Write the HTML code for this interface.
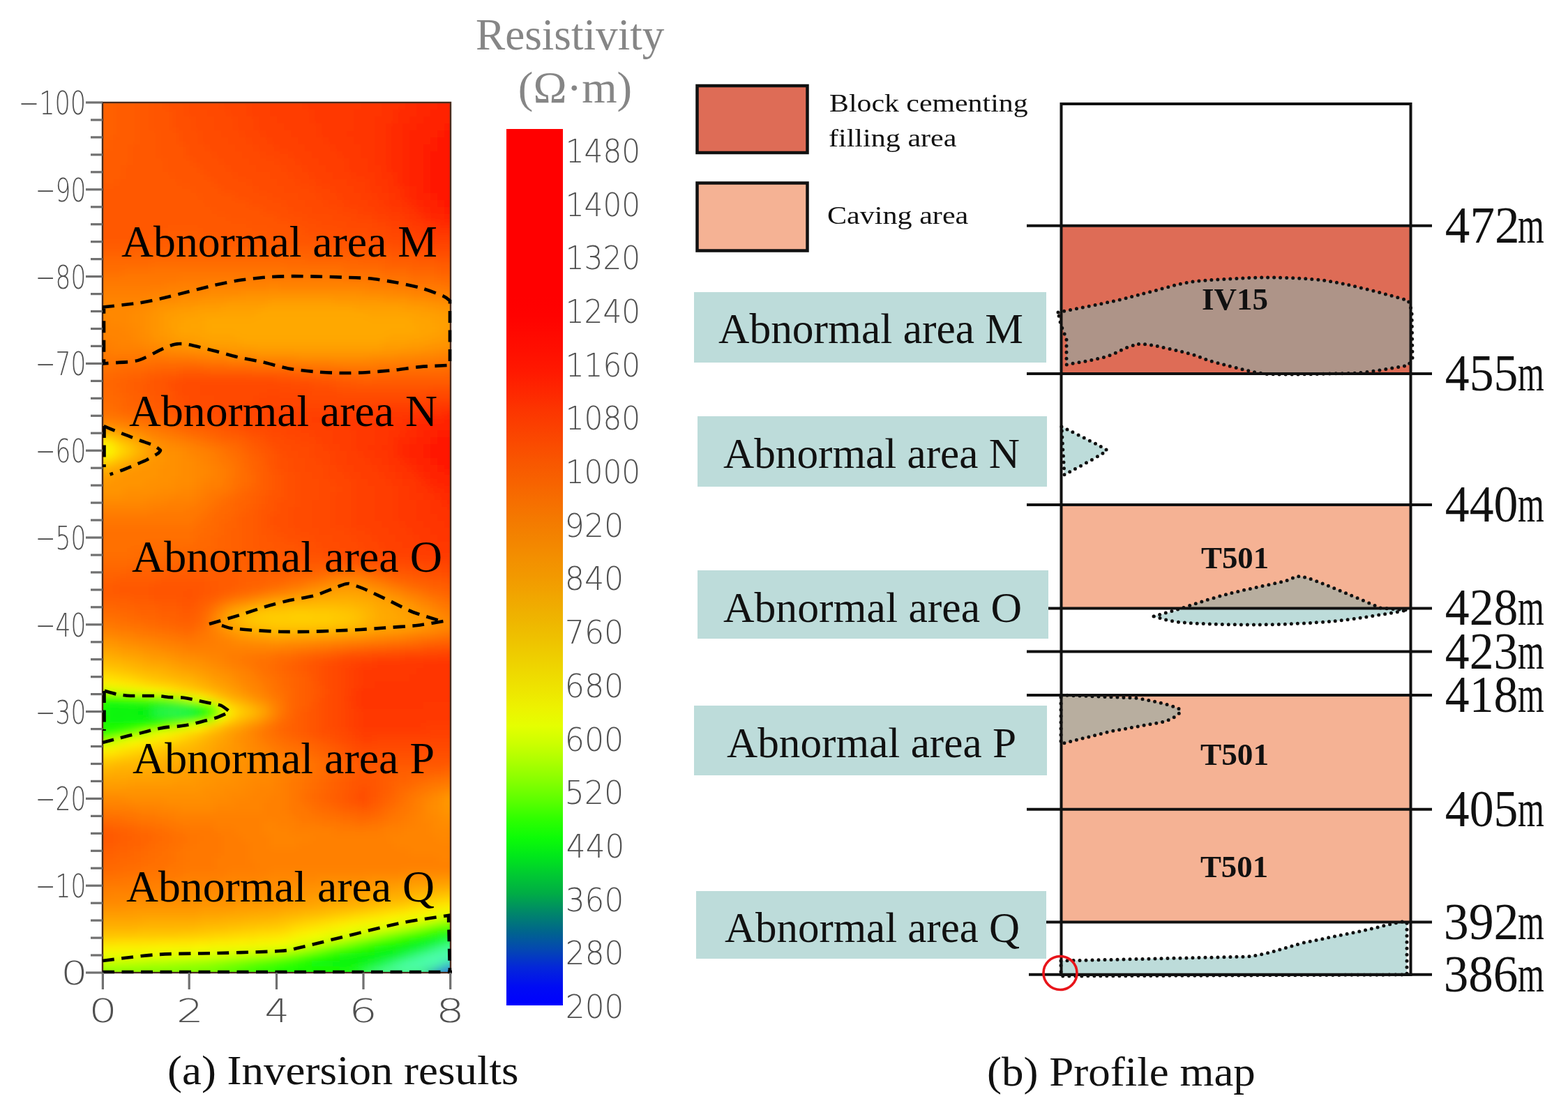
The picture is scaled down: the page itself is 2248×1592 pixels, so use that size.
<!DOCTYPE html>
<html><head><meta charset="utf-8"><title>Inversion results and profile map</title>
<style>html,body{margin:0;padding:0;background:#fff;overflow:hidden}svg{display:block}</style>
</head><body>
<svg width="2248" height="1592" viewBox="0 0 2248 1592">
<defs>
<clipPath id="pc"><rect x="147" y="147" width="499" height="1248"/></clipPath>
<clipPath id="pc2"><rect x="146" y="147" width="502" height="1254"/></clipPath>
<filter id="bl" x="-5%" y="-5%" width="110%" height="110%"><feGaussianBlur stdDeviation="6"/></filter>
<linearGradient id="cb" x1="0" y1="0" x2="0" y2="1"><stop offset="0.000" stop-color="#ff0000"/><stop offset="0.021" stop-color="#ff0000"/><stop offset="0.043" stop-color="#ff0000"/><stop offset="0.064" stop-color="#ff0000"/><stop offset="0.085" stop-color="#ff0000"/><stop offset="0.106" stop-color="#ff0000"/><stop offset="0.128" stop-color="#ff0000"/><stop offset="0.149" stop-color="#ff0000"/><stop offset="0.170" stop-color="#ff0000"/><stop offset="0.191" stop-color="#ff0000"/><stop offset="0.213" stop-color="#ff0200"/><stop offset="0.234" stop-color="#ff0900"/><stop offset="0.255" stop-color="#ff1000"/><stop offset="0.277" stop-color="#ff1900"/><stop offset="0.298" stop-color="#fe2600"/><stop offset="0.319" stop-color="#fc3400"/><stop offset="0.340" stop-color="#fb4000"/><stop offset="0.362" stop-color="#fa4c00"/><stop offset="0.383" stop-color="#f85800"/><stop offset="0.404" stop-color="#f76300"/><stop offset="0.426" stop-color="#f66f00"/><stop offset="0.447" stop-color="#f47a00"/><stop offset="0.468" stop-color="#f38400"/><stop offset="0.489" stop-color="#f38f00"/><stop offset="0.511" stop-color="#f29900"/><stop offset="0.532" stop-color="#f1a500"/><stop offset="0.553" stop-color="#efb100"/><stop offset="0.574" stop-color="#eebd00"/><stop offset="0.596" stop-color="#eeca00"/><stop offset="0.617" stop-color="#eed700"/><stop offset="0.638" stop-color="#eee400"/><stop offset="0.660" stop-color="#edf200"/><stop offset="0.681" stop-color="#e5ff00"/><stop offset="0.702" stop-color="#cbff00"/><stop offset="0.723" stop-color="#aaff00"/><stop offset="0.745" stop-color="#84ff00"/><stop offset="0.766" stop-color="#5cff00"/><stop offset="0.787" stop-color="#2fff00"/><stop offset="0.809" stop-color="#0cfc07"/><stop offset="0.830" stop-color="#00e71b"/><stop offset="0.851" stop-color="#00c932"/><stop offset="0.872" stop-color="#00ad45"/><stop offset="0.894" stop-color="#008769"/><stop offset="0.915" stop-color="#00668b"/><stop offset="0.936" stop-color="#0448b1"/><stop offset="0.957" stop-color="#0426da"/><stop offset="0.979" stop-color="#000bf4"/><stop offset="1.000" stop-color="#0000ff"/></linearGradient>
<style>
text{font-family:"Liberation Serif",serif;fill:#111}
.ax{font-family:"DejaVu Sans",sans-serif;font-weight:200;font-size:47px;fill:#505050}
.hl{font-size:63.5px;fill:#000}
.ab{font-size:61px}
.cap{font-size:60px}
.gt{font-size:63px;fill:#868686}
.lg{font-size:36px}
.dl{font-size:74px}
.bt{font-weight:bold;font-size:45px}
.dash path{fill:none;stroke:#000;stroke-width:4.6;stroke-dasharray:17 10.5}
.dot{stroke:#111;stroke-width:5;stroke-dasharray:0 9;stroke-linecap:round}
</style>
</defs>
<rect width="2248" height="1592" fill="#fff"/>
<g clip-path="url(#pc)"><g filter="url(#bl)">
<rect x="137" y="137" width="31" height="11" fill="#ff6000"/>
<rect x="167" y="137" width="31" height="11" fill="#ff5c00"/>
<rect x="197" y="137" width="21" height="11" fill="#ff5800"/>
<rect x="217" y="137" width="21" height="11" fill="#ff5400"/>
<rect x="237" y="137" width="21" height="11" fill="#ff5000"/>
<rect x="257" y="137" width="31" height="11" fill="#ff4c00"/>
<rect x="287" y="137" width="31" height="11" fill="#ff4800"/>
<rect x="317" y="137" width="31" height="11" fill="#ff4400"/>
<rect x="347" y="137" width="31" height="11" fill="#ff4000"/>
<rect x="377" y="137" width="61" height="11" fill="#ff3c00"/>
<rect x="437" y="137" width="81" height="11" fill="#ff3800"/>
<rect x="517" y="137" width="31" height="11" fill="#ff3400"/>
<rect x="547" y="137" width="31" height="11" fill="#ff3000"/>
<rect x="577" y="137" width="31" height="11" fill="#ff2c00"/>
<rect x="607" y="137" width="21" height="11" fill="#ff2800"/>
<rect x="627" y="137" width="41" height="11" fill="#ff2400"/>
<rect x="137" y="147" width="31" height="11" fill="#ff6000"/>
<rect x="167" y="147" width="31" height="11" fill="#ff5c00"/>
<rect x="197" y="147" width="21" height="11" fill="#ff5800"/>
<rect x="217" y="147" width="21" height="11" fill="#ff5400"/>
<rect x="237" y="147" width="31" height="11" fill="#ff5000"/>
<rect x="267" y="147" width="21" height="11" fill="#ff4c00"/>
<rect x="287" y="147" width="31" height="11" fill="#ff4800"/>
<rect x="317" y="147" width="41" height="11" fill="#ff4400"/>
<rect x="357" y="147" width="31" height="11" fill="#ff4000"/>
<rect x="387" y="147" width="51" height="11" fill="#ff3c00"/>
<rect x="437" y="147" width="81" height="11" fill="#ff3800"/>
<rect x="517" y="147" width="31" height="11" fill="#ff3400"/>
<rect x="547" y="147" width="31" height="11" fill="#ff3000"/>
<rect x="577" y="147" width="21" height="11" fill="#ff2c00"/>
<rect x="597" y="147" width="31" height="11" fill="#ff2800"/>
<rect x="627" y="147" width="41" height="11" fill="#ff2400"/>
<rect x="137" y="157" width="31" height="11" fill="#ff6000"/>
<rect x="167" y="157" width="31" height="11" fill="#ff5c00"/>
<rect x="197" y="157" width="21" height="11" fill="#ff5800"/>
<rect x="217" y="157" width="31" height="11" fill="#ff5400"/>
<rect x="247" y="157" width="21" height="11" fill="#ff5000"/>
<rect x="267" y="157" width="31" height="11" fill="#ff4c00"/>
<rect x="297" y="157" width="31" height="11" fill="#ff4800"/>
<rect x="327" y="157" width="31" height="11" fill="#ff4400"/>
<rect x="357" y="157" width="31" height="11" fill="#ff4000"/>
<rect x="387" y="157" width="61" height="11" fill="#ff3c00"/>
<rect x="447" y="157" width="61" height="11" fill="#ff3800"/>
<rect x="507" y="157" width="41" height="11" fill="#ff3400"/>
<rect x="547" y="157" width="21" height="11" fill="#ff3000"/>
<rect x="567" y="157" width="31" height="11" fill="#ff2c00"/>
<rect x="597" y="157" width="21" height="11" fill="#ff2800"/>
<rect x="617" y="157" width="21" height="11" fill="#ff2400"/>
<rect x="637" y="157" width="31" height="11" fill="#ff2000"/>
<rect x="137" y="167" width="31" height="11" fill="#ff6000"/>
<rect x="167" y="167" width="31" height="11" fill="#ff5c00"/>
<rect x="197" y="167" width="21" height="11" fill="#ff5800"/>
<rect x="217" y="167" width="31" height="11" fill="#ff5400"/>
<rect x="247" y="167" width="31" height="11" fill="#ff5000"/>
<rect x="277" y="167" width="31" height="11" fill="#ff4c00"/>
<rect x="307" y="167" width="31" height="11" fill="#ff4800"/>
<rect x="337" y="167" width="31" height="11" fill="#ff4400"/>
<rect x="367" y="167" width="31" height="11" fill="#ff4000"/>
<rect x="397" y="167" width="51" height="11" fill="#ff3c00"/>
<rect x="447" y="167" width="61" height="11" fill="#ff3800"/>
<rect x="507" y="167" width="31" height="11" fill="#ff3400"/>
<rect x="537" y="167" width="31" height="11" fill="#ff3000"/>
<rect x="567" y="167" width="21" height="11" fill="#ff2c00"/>
<rect x="587" y="167" width="21" height="11" fill="#ff2800"/>
<rect x="607" y="167" width="21" height="11" fill="#ff2400"/>
<rect x="627" y="167" width="41" height="11" fill="#ff2000"/>
<rect x="137" y="177" width="31" height="11" fill="#ff6000"/>
<rect x="167" y="177" width="31" height="11" fill="#ff5c00"/>
<rect x="197" y="177" width="21" height="11" fill="#ff5800"/>
<rect x="217" y="177" width="31" height="11" fill="#ff5400"/>
<rect x="247" y="177" width="31" height="11" fill="#ff5000"/>
<rect x="277" y="177" width="31" height="11" fill="#ff4c00"/>
<rect x="307" y="177" width="31" height="11" fill="#ff4800"/>
<rect x="337" y="177" width="31" height="11" fill="#ff4400"/>
<rect x="367" y="177" width="41" height="11" fill="#ff4000"/>
<rect x="407" y="177" width="51" height="11" fill="#ff3c00"/>
<rect x="457" y="177" width="51" height="11" fill="#ff3800"/>
<rect x="507" y="177" width="31" height="11" fill="#ff3400"/>
<rect x="537" y="177" width="21" height="11" fill="#ff3000"/>
<rect x="557" y="177" width="21" height="11" fill="#ff2c00"/>
<rect x="577" y="177" width="21" height="11" fill="#ff2800"/>
<rect x="597" y="177" width="21" height="11" fill="#ff2400"/>
<rect x="617" y="177" width="21" height="11" fill="#ff2000"/>
<rect x="637" y="177" width="31" height="11" fill="#ff1c00"/>
<rect x="137" y="187" width="31" height="11" fill="#ff6000"/>
<rect x="167" y="187" width="31" height="11" fill="#ff5c00"/>
<rect x="197" y="187" width="31" height="11" fill="#ff5800"/>
<rect x="227" y="187" width="31" height="11" fill="#ff5400"/>
<rect x="257" y="187" width="31" height="11" fill="#ff5000"/>
<rect x="287" y="187" width="31" height="11" fill="#ff4c00"/>
<rect x="317" y="187" width="31" height="11" fill="#ff4800"/>
<rect x="347" y="187" width="31" height="11" fill="#ff4400"/>
<rect x="377" y="187" width="41" height="11" fill="#ff4000"/>
<rect x="417" y="187" width="41" height="11" fill="#ff3c00"/>
<rect x="457" y="187" width="41" height="11" fill="#ff3800"/>
<rect x="497" y="187" width="41" height="11" fill="#ff3400"/>
<rect x="537" y="187" width="21" height="11" fill="#ff3000"/>
<rect x="557" y="187" width="21" height="11" fill="#ff2c00"/>
<rect x="577" y="187" width="11" height="11" fill="#ff2800"/>
<rect x="587" y="187" width="21" height="11" fill="#ff2400"/>
<rect x="607" y="187" width="21" height="11" fill="#ff2000"/>
<rect x="627" y="187" width="11" height="11" fill="#ff1c00"/>
<rect x="637" y="187" width="31" height="11" fill="#ff1800"/>
<rect x="137" y="197" width="21" height="11" fill="#ff6000"/>
<rect x="157" y="197" width="41" height="11" fill="#ff5c00"/>
<rect x="197" y="197" width="31" height="11" fill="#ff5800"/>
<rect x="227" y="197" width="31" height="11" fill="#ff5400"/>
<rect x="257" y="197" width="31" height="11" fill="#ff5000"/>
<rect x="287" y="197" width="41" height="11" fill="#ff4c00"/>
<rect x="327" y="197" width="31" height="11" fill="#ff4800"/>
<rect x="357" y="197" width="31" height="11" fill="#ff4400"/>
<rect x="387" y="197" width="41" height="11" fill="#ff4000"/>
<rect x="427" y="197" width="41" height="11" fill="#ff3c00"/>
<rect x="467" y="197" width="41" height="11" fill="#ff3800"/>
<rect x="507" y="197" width="31" height="11" fill="#ff3400"/>
<rect x="537" y="197" width="21" height="11" fill="#ff3000"/>
<rect x="557" y="197" width="21" height="11" fill="#ff2c00"/>
<rect x="577" y="197" width="11" height="11" fill="#ff2800"/>
<rect x="587" y="197" width="11" height="11" fill="#ff2400"/>
<rect x="597" y="197" width="21" height="11" fill="#ff2000"/>
<rect x="617" y="197" width="11" height="11" fill="#ff1c00"/>
<rect x="627" y="197" width="41" height="11" fill="#ff1800"/>
<rect x="137" y="207" width="21" height="11" fill="#ff6000"/>
<rect x="157" y="207" width="31" height="11" fill="#ff5c00"/>
<rect x="187" y="207" width="41" height="11" fill="#ff5800"/>
<rect x="227" y="207" width="41" height="11" fill="#ff5400"/>
<rect x="267" y="207" width="31" height="11" fill="#ff5000"/>
<rect x="297" y="207" width="41" height="11" fill="#ff4c00"/>
<rect x="337" y="207" width="31" height="11" fill="#ff4800"/>
<rect x="367" y="207" width="31" height="11" fill="#ff4400"/>
<rect x="397" y="207" width="41" height="11" fill="#ff4000"/>
<rect x="437" y="207" width="41" height="11" fill="#ff3c00"/>
<rect x="477" y="207" width="41" height="11" fill="#ff3800"/>
<rect x="517" y="207" width="21" height="11" fill="#ff3400"/>
<rect x="537" y="207" width="21" height="11" fill="#ff3000"/>
<rect x="557" y="207" width="21" height="11" fill="#ff2c00"/>
<rect x="577" y="207" width="11" height="11" fill="#ff2800"/>
<rect x="587" y="207" width="11" height="11" fill="#ff2400"/>
<rect x="597" y="207" width="11" height="11" fill="#ff2000"/>
<rect x="607" y="207" width="21" height="11" fill="#ff1c00"/>
<rect x="627" y="207" width="11" height="11" fill="#ff1800"/>
<rect x="637" y="207" width="31" height="11" fill="#ff1400"/>
<rect x="137" y="217" width="11" height="11" fill="#ff6000"/>
<rect x="147" y="217" width="41" height="11" fill="#ff5c00"/>
<rect x="187" y="217" width="41" height="11" fill="#ff5800"/>
<rect x="227" y="217" width="41" height="11" fill="#ff5400"/>
<rect x="267" y="217" width="41" height="11" fill="#ff5000"/>
<rect x="307" y="217" width="41" height="11" fill="#ff4c00"/>
<rect x="347" y="217" width="31" height="11" fill="#ff4800"/>
<rect x="377" y="217" width="41" height="11" fill="#ff4400"/>
<rect x="417" y="217" width="31" height="11" fill="#ff4000"/>
<rect x="447" y="217" width="41" height="11" fill="#ff3c00"/>
<rect x="487" y="217" width="31" height="11" fill="#ff3800"/>
<rect x="517" y="217" width="21" height="11" fill="#ff3400"/>
<rect x="537" y="217" width="21" height="11" fill="#ff3000"/>
<rect x="557" y="217" width="21" height="11" fill="#ff2c00"/>
<rect x="577" y="217" width="11" height="11" fill="#ff2800"/>
<rect x="587" y="217" width="11" height="11" fill="#ff2400"/>
<rect x="597" y="217" width="11" height="11" fill="#ff2000"/>
<rect x="607" y="217" width="11" height="11" fill="#ff1c00"/>
<rect x="617" y="217" width="21" height="11" fill="#ff1800"/>
<rect x="637" y="217" width="31" height="11" fill="#ff1400"/>
<rect x="137" y="227" width="51" height="11" fill="#ff5c00"/>
<rect x="187" y="227" width="51" height="11" fill="#ff5800"/>
<rect x="237" y="227" width="41" height="11" fill="#ff5400"/>
<rect x="277" y="227" width="41" height="11" fill="#ff5000"/>
<rect x="317" y="227" width="41" height="11" fill="#ff4c00"/>
<rect x="357" y="227" width="41" height="11" fill="#ff4800"/>
<rect x="397" y="227" width="31" height="11" fill="#ff4400"/>
<rect x="427" y="227" width="31" height="11" fill="#ff4000"/>
<rect x="457" y="227" width="41" height="11" fill="#ff3c00"/>
<rect x="497" y="227" width="31" height="11" fill="#ff3800"/>
<rect x="527" y="227" width="11" height="11" fill="#ff3400"/>
<rect x="537" y="227" width="21" height="11" fill="#ff3000"/>
<rect x="557" y="227" width="21" height="11" fill="#ff2c00"/>
<rect x="577" y="227" width="11" height="11" fill="#ff2800"/>
<rect x="587" y="227" width="11" height="11" fill="#ff2400"/>
<rect x="597" y="227" width="11" height="11" fill="#ff2000"/>
<rect x="607" y="227" width="11" height="11" fill="#ff1c00"/>
<rect x="617" y="227" width="11" height="11" fill="#ff1800"/>
<rect x="627" y="227" width="41" height="11" fill="#ff1400"/>
<rect x="137" y="237" width="41" height="11" fill="#ff5c00"/>
<rect x="177" y="237" width="61" height="11" fill="#ff5800"/>
<rect x="237" y="237" width="51" height="11" fill="#ff5400"/>
<rect x="287" y="237" width="41" height="11" fill="#ff5000"/>
<rect x="327" y="237" width="41" height="11" fill="#ff4c00"/>
<rect x="367" y="237" width="41" height="11" fill="#ff4800"/>
<rect x="407" y="237" width="31" height="11" fill="#ff4400"/>
<rect x="437" y="237" width="31" height="11" fill="#ff4000"/>
<rect x="467" y="237" width="31" height="11" fill="#ff3c00"/>
<rect x="497" y="237" width="31" height="11" fill="#ff3800"/>
<rect x="527" y="237" width="21" height="11" fill="#ff3400"/>
<rect x="547" y="237" width="11" height="11" fill="#ff3000"/>
<rect x="557" y="237" width="21" height="11" fill="#ff2c00"/>
<rect x="577" y="237" width="11" height="11" fill="#ff2800"/>
<rect x="587" y="237" width="11" height="11" fill="#ff2400"/>
<rect x="597" y="237" width="11" height="11" fill="#ff2000"/>
<rect x="607" y="237" width="11" height="11" fill="#ff1c00"/>
<rect x="617" y="237" width="11" height="11" fill="#ff1800"/>
<rect x="627" y="237" width="21" height="11" fill="#ff1400"/>
<rect x="647" y="237" width="21" height="11" fill="#ff1000"/>
<rect x="137" y="247" width="41" height="11" fill="#ff5c00"/>
<rect x="177" y="247" width="71" height="11" fill="#ff5800"/>
<rect x="247" y="247" width="51" height="11" fill="#ff5400"/>
<rect x="297" y="247" width="41" height="11" fill="#ff5000"/>
<rect x="337" y="247" width="51" height="11" fill="#ff4c00"/>
<rect x="387" y="247" width="31" height="11" fill="#ff4800"/>
<rect x="417" y="247" width="31" height="11" fill="#ff4400"/>
<rect x="447" y="247" width="31" height="11" fill="#ff4000"/>
<rect x="477" y="247" width="31" height="11" fill="#ff3c00"/>
<rect x="507" y="247" width="31" height="11" fill="#ff3800"/>
<rect x="537" y="247" width="11" height="11" fill="#ff3400"/>
<rect x="547" y="247" width="21" height="11" fill="#ff3000"/>
<rect x="567" y="247" width="11" height="11" fill="#ff2c00"/>
<rect x="577" y="247" width="11" height="11" fill="#ff2800"/>
<rect x="587" y="247" width="11" height="11" fill="#ff2400"/>
<rect x="597" y="247" width="11" height="11" fill="#ff2000"/>
<rect x="607" y="247" width="11" height="11" fill="#ff1c00"/>
<rect x="617" y="247" width="11" height="11" fill="#ff1800"/>
<rect x="627" y="247" width="41" height="11" fill="#ff1400"/>
<rect x="137" y="257" width="31" height="11" fill="#ff5c00"/>
<rect x="167" y="257" width="91" height="11" fill="#ff5800"/>
<rect x="257" y="257" width="51" height="11" fill="#ff5400"/>
<rect x="307" y="257" width="51" height="11" fill="#ff5000"/>
<rect x="357" y="257" width="41" height="11" fill="#ff4c00"/>
<rect x="397" y="257" width="31" height="11" fill="#ff4800"/>
<rect x="427" y="257" width="31" height="11" fill="#ff4400"/>
<rect x="457" y="257" width="41" height="11" fill="#ff4000"/>
<rect x="497" y="257" width="31" height="11" fill="#ff3c00"/>
<rect x="527" y="257" width="11" height="11" fill="#ff3800"/>
<rect x="537" y="257" width="21" height="11" fill="#ff3400"/>
<rect x="557" y="257" width="11" height="11" fill="#ff3000"/>
<rect x="567" y="257" width="11" height="11" fill="#ff2c00"/>
<rect x="577" y="257" width="11" height="11" fill="#ff2800"/>
<rect x="587" y="257" width="11" height="11" fill="#ff2400"/>
<rect x="597" y="257" width="11" height="11" fill="#ff2000"/>
<rect x="607" y="257" width="11" height="11" fill="#ff1c00"/>
<rect x="617" y="257" width="11" height="11" fill="#ff1800"/>
<rect x="627" y="257" width="41" height="11" fill="#ff1400"/>
<rect x="137" y="267" width="141" height="11" fill="#ff5800"/>
<rect x="277" y="267" width="41" height="11" fill="#ff5400"/>
<rect x="317" y="267" width="51" height="11" fill="#ff5000"/>
<rect x="367" y="267" width="41" height="11" fill="#ff4c00"/>
<rect x="407" y="267" width="41" height="11" fill="#ff4800"/>
<rect x="447" y="267" width="31" height="11" fill="#ff4400"/>
<rect x="477" y="267" width="31" height="11" fill="#ff4000"/>
<rect x="507" y="267" width="21" height="11" fill="#ff3c00"/>
<rect x="527" y="267" width="21" height="11" fill="#ff3800"/>
<rect x="547" y="267" width="11" height="11" fill="#ff3400"/>
<rect x="557" y="267" width="21" height="11" fill="#ff3000"/>
<rect x="577" y="267" width="11" height="11" fill="#ff2c00"/>
<rect x="587" y="267" width="11" height="11" fill="#ff2800"/>
<rect x="597" y="267" width="11" height="11" fill="#ff2400"/>
<rect x="607" y="267" width="11" height="11" fill="#ff1c00"/>
<rect x="617" y="267" width="21" height="11" fill="#ff1800"/>
<rect x="637" y="267" width="31" height="11" fill="#ff1400"/>
<rect x="137" y="277" width="151" height="11" fill="#ff5800"/>
<rect x="287" y="277" width="51" height="11" fill="#ff5400"/>
<rect x="337" y="277" width="51" height="11" fill="#ff5000"/>
<rect x="387" y="277" width="41" height="11" fill="#ff4c00"/>
<rect x="427" y="277" width="31" height="11" fill="#ff4800"/>
<rect x="457" y="277" width="31" height="11" fill="#ff4400"/>
<rect x="487" y="277" width="31" height="11" fill="#ff4000"/>
<rect x="517" y="277" width="21" height="11" fill="#ff3c00"/>
<rect x="537" y="277" width="21" height="11" fill="#ff3800"/>
<rect x="557" y="277" width="11" height="11" fill="#ff3400"/>
<rect x="567" y="277" width="11" height="11" fill="#ff3000"/>
<rect x="577" y="277" width="11" height="11" fill="#ff2c00"/>
<rect x="587" y="277" width="11" height="11" fill="#ff2800"/>
<rect x="597" y="277" width="11" height="11" fill="#ff2400"/>
<rect x="607" y="277" width="11" height="11" fill="#ff2000"/>
<rect x="617" y="277" width="11" height="11" fill="#ff1c00"/>
<rect x="627" y="277" width="41" height="11" fill="#ff1800"/>
<rect x="137" y="287" width="161" height="11" fill="#ff5800"/>
<rect x="297" y="287" width="61" height="11" fill="#ff5400"/>
<rect x="357" y="287" width="51" height="11" fill="#ff5000"/>
<rect x="407" y="287" width="31" height="11" fill="#ff4c00"/>
<rect x="437" y="287" width="31" height="11" fill="#ff4800"/>
<rect x="467" y="287" width="31" height="11" fill="#ff4400"/>
<rect x="497" y="287" width="31" height="11" fill="#ff4000"/>
<rect x="527" y="287" width="21" height="11" fill="#ff3c00"/>
<rect x="547" y="287" width="11" height="11" fill="#ff3800"/>
<rect x="557" y="287" width="21" height="11" fill="#ff3400"/>
<rect x="577" y="287" width="11" height="11" fill="#ff3000"/>
<rect x="587" y="287" width="11" height="11" fill="#ff2c00"/>
<rect x="597" y="287" width="11" height="11" fill="#ff2800"/>
<rect x="607" y="287" width="11" height="11" fill="#ff2400"/>
<rect x="617" y="287" width="11" height="11" fill="#ff2000"/>
<rect x="627" y="287" width="11" height="11" fill="#ff1c00"/>
<rect x="637" y="287" width="31" height="11" fill="#ff1800"/>
<rect x="137" y="297" width="171" height="11" fill="#ff5800"/>
<rect x="307" y="297" width="71" height="11" fill="#ff5400"/>
<rect x="377" y="297" width="41" height="11" fill="#ff5000"/>
<rect x="417" y="297" width="31" height="11" fill="#ff4c00"/>
<rect x="447" y="297" width="41" height="11" fill="#ff4800"/>
<rect x="487" y="297" width="31" height="11" fill="#ff4400"/>
<rect x="517" y="297" width="21" height="11" fill="#ff4000"/>
<rect x="537" y="297" width="21" height="11" fill="#ff3c00"/>
<rect x="557" y="297" width="21" height="11" fill="#ff3800"/>
<rect x="577" y="297" width="11" height="11" fill="#ff3400"/>
<rect x="587" y="297" width="11" height="11" fill="#ff3000"/>
<rect x="597" y="297" width="11" height="11" fill="#ff2c00"/>
<rect x="607" y="297" width="11" height="11" fill="#ff2800"/>
<rect x="617" y="297" width="11" height="11" fill="#ff2400"/>
<rect x="627" y="297" width="11" height="11" fill="#ff2000"/>
<rect x="637" y="297" width="31" height="11" fill="#ff1c00"/>
<rect x="137" y="307" width="191" height="11" fill="#ff5800"/>
<rect x="327" y="307" width="71" height="11" fill="#ff5400"/>
<rect x="397" y="307" width="41" height="11" fill="#ff5000"/>
<rect x="437" y="307" width="41" height="11" fill="#ff4c00"/>
<rect x="477" y="307" width="31" height="11" fill="#ff4800"/>
<rect x="507" y="307" width="31" height="11" fill="#ff4400"/>
<rect x="537" y="307" width="21" height="11" fill="#ff4000"/>
<rect x="557" y="307" width="21" height="11" fill="#ff3c00"/>
<rect x="577" y="307" width="11" height="11" fill="#ff3800"/>
<rect x="587" y="307" width="11" height="11" fill="#ff3400"/>
<rect x="597" y="307" width="11" height="11" fill="#ff3000"/>
<rect x="607" y="307" width="11" height="11" fill="#ff2c00"/>
<rect x="617" y="307" width="21" height="11" fill="#ff2800"/>
<rect x="637" y="307" width="31" height="11" fill="#ff2400"/>
<rect x="137" y="317" width="221" height="11" fill="#ff5800"/>
<rect x="357" y="317" width="61" height="11" fill="#ff5400"/>
<rect x="417" y="317" width="41" height="11" fill="#ff5000"/>
<rect x="457" y="317" width="41" height="11" fill="#ff4c00"/>
<rect x="497" y="317" width="41" height="11" fill="#ff4800"/>
<rect x="537" y="317" width="21" height="11" fill="#ff4400"/>
<rect x="557" y="317" width="21" height="11" fill="#ff4000"/>
<rect x="577" y="317" width="11" height="11" fill="#ff3c00"/>
<rect x="587" y="317" width="21" height="11" fill="#ff3800"/>
<rect x="607" y="317" width="11" height="11" fill="#ff3400"/>
<rect x="617" y="317" width="11" height="11" fill="#ff3000"/>
<rect x="627" y="317" width="41" height="11" fill="#ff2c00"/>
<rect x="137" y="327" width="101" height="11" fill="#ff5800"/>
<rect x="237" y="327" width="51" height="11" fill="#ff5c00"/>
<rect x="287" y="327" width="101" height="11" fill="#ff5800"/>
<rect x="387" y="327" width="51" height="11" fill="#ff5400"/>
<rect x="437" y="327" width="51" height="11" fill="#ff5000"/>
<rect x="487" y="327" width="41" height="11" fill="#ff4c00"/>
<rect x="527" y="327" width="31" height="11" fill="#ff4800"/>
<rect x="557" y="327" width="21" height="11" fill="#ff4400"/>
<rect x="577" y="327" width="21" height="11" fill="#ff4000"/>
<rect x="597" y="327" width="11" height="11" fill="#ff3c00"/>
<rect x="607" y="327" width="21" height="11" fill="#ff3800"/>
<rect x="627" y="327" width="41" height="11" fill="#ff3400"/>
<rect x="137" y="337" width="81" height="11" fill="#ff5800"/>
<rect x="217" y="337" width="101" height="11" fill="#ff5c00"/>
<rect x="317" y="337" width="101" height="11" fill="#ff5800"/>
<rect x="417" y="337" width="51" height="11" fill="#ff5400"/>
<rect x="467" y="337" width="61" height="11" fill="#ff5000"/>
<rect x="527" y="337" width="31" height="11" fill="#ff4c00"/>
<rect x="557" y="337" width="21" height="11" fill="#ff4800"/>
<rect x="577" y="337" width="21" height="11" fill="#ff4400"/>
<rect x="597" y="337" width="21" height="11" fill="#ff4000"/>
<rect x="617" y="337" width="31" height="11" fill="#ff3c00"/>
<rect x="647" y="337" width="21" height="11" fill="#ff3800"/>
<rect x="137" y="347" width="111" height="11" fill="#ff5c00"/>
<rect x="247" y="347" width="51" height="11" fill="#ff6000"/>
<rect x="297" y="347" width="121" height="11" fill="#ff5c00"/>
<rect x="417" y="347" width="61" height="11" fill="#ff5800"/>
<rect x="477" y="347" width="61" height="11" fill="#ff5400"/>
<rect x="537" y="347" width="31" height="11" fill="#ff5000"/>
<rect x="567" y="347" width="31" height="11" fill="#ff4c00"/>
<rect x="597" y="347" width="21" height="11" fill="#ff4800"/>
<rect x="617" y="347" width="51" height="11" fill="#ff4400"/>
<rect x="137" y="357" width="61" height="11" fill="#ff6000"/>
<rect x="197" y="357" width="181" height="11" fill="#ff6400"/>
<rect x="377" y="357" width="91" height="11" fill="#ff6000"/>
<rect x="467" y="357" width="61" height="11" fill="#ff5c00"/>
<rect x="527" y="357" width="31" height="11" fill="#ff5800"/>
<rect x="557" y="357" width="41" height="11" fill="#ff5400"/>
<rect x="597" y="357" width="31" height="11" fill="#ff5000"/>
<rect x="627" y="357" width="41" height="11" fill="#ff4c00"/>
<rect x="137" y="367" width="301" height="11" fill="#ff6800"/>
<rect x="437" y="367" width="81" height="11" fill="#ff6400"/>
<rect x="517" y="367" width="41" height="11" fill="#ff6000"/>
<rect x="557" y="367" width="41" height="11" fill="#ff5c00"/>
<rect x="597" y="367" width="31" height="11" fill="#ff5800"/>
<rect x="627" y="367" width="41" height="11" fill="#ff5400"/>
<rect x="137" y="377" width="81" height="11" fill="#ff6c00"/>
<rect x="217" y="377" width="191" height="11" fill="#ff7000"/>
<rect x="407" y="377" width="91" height="11" fill="#ff6c00"/>
<rect x="497" y="377" width="51" height="11" fill="#ff6800"/>
<rect x="547" y="377" width="41" height="11" fill="#ff6400"/>
<rect x="587" y="377" width="41" height="11" fill="#ff6000"/>
<rect x="627" y="377" width="41" height="11" fill="#ff5c00"/>
<rect x="137" y="387" width="41" height="11" fill="#ff7000"/>
<rect x="177" y="387" width="311" height="11" fill="#ff7400"/>
<rect x="487" y="387" width="61" height="11" fill="#ff7000"/>
<rect x="547" y="387" width="41" height="11" fill="#ff6c00"/>
<rect x="587" y="387" width="41" height="11" fill="#ff6800"/>
<rect x="627" y="387" width="41" height="11" fill="#ff6400"/>
<rect x="137" y="397" width="121" height="11" fill="#ff7800"/>
<rect x="257" y="397" width="241" height="11" fill="#ff7c00"/>
<rect x="497" y="397" width="51" height="11" fill="#ff7800"/>
<rect x="547" y="397" width="41" height="11" fill="#ff7400"/>
<rect x="587" y="397" width="41" height="11" fill="#ff7000"/>
<rect x="627" y="397" width="41" height="11" fill="#ff6c00"/>
<rect x="137" y="407" width="11" height="11" fill="#ff7800"/>
<rect x="147" y="407" width="91" height="11" fill="#ff7c00"/>
<rect x="237" y="407" width="61" height="11" fill="#ff8000"/>
<rect x="297" y="407" width="91" height="11" fill="#ff8400"/>
<rect x="387" y="407" width="11" height="11" fill="#ff8800"/>
<rect x="397" y="407" width="131" height="11" fill="#ff8400"/>
<rect x="527" y="407" width="41" height="11" fill="#ff8000"/>
<rect x="567" y="407" width="31" height="11" fill="#ff7c00"/>
<rect x="597" y="407" width="41" height="11" fill="#ff7800"/>
<rect x="637" y="407" width="31" height="11" fill="#ff7400"/>
<rect x="137" y="417" width="81" height="11" fill="#ff8000"/>
<rect x="217" y="417" width="41" height="11" fill="#ff8400"/>
<rect x="257" y="417" width="41" height="11" fill="#ff8800"/>
<rect x="297" y="417" width="51" height="11" fill="#ff8c00"/>
<rect x="347" y="417" width="171" height="11" fill="#ff9000"/>
<rect x="517" y="417" width="41" height="11" fill="#ff8c00"/>
<rect x="557" y="417" width="31" height="11" fill="#ff8800"/>
<rect x="587" y="417" width="31" height="11" fill="#ff8400"/>
<rect x="617" y="417" width="31" height="11" fill="#ff8000"/>
<rect x="647" y="417" width="21" height="11" fill="#ff7c00"/>
<rect x="137" y="427" width="11" height="11" fill="#ff8000"/>
<rect x="147" y="427" width="61" height="11" fill="#ff8400"/>
<rect x="207" y="427" width="21" height="11" fill="#ff8800"/>
<rect x="227" y="427" width="31" height="11" fill="#ff8c00"/>
<rect x="257" y="427" width="31" height="11" fill="#ff9000"/>
<rect x="287" y="427" width="41" height="11" fill="#ff9400"/>
<rect x="327" y="427" width="61" height="11" fill="#ff9800"/>
<rect x="387" y="427" width="91" height="11" fill="#ff9c00"/>
<rect x="477" y="427" width="71" height="11" fill="#ff9800"/>
<rect x="547" y="427" width="41" height="11" fill="#ff9400"/>
<rect x="587" y="427" width="31" height="11" fill="#ff9000"/>
<rect x="617" y="427" width="21" height="11" fill="#ff8c00"/>
<rect x="637" y="427" width="31" height="11" fill="#ff8800"/>
<rect x="137" y="437" width="61" height="11" fill="#ff8800"/>
<rect x="197" y="437" width="21" height="11" fill="#ff8c00"/>
<rect x="217" y="437" width="11" height="11" fill="#ff9000"/>
<rect x="227" y="437" width="21" height="11" fill="#ff9400"/>
<rect x="247" y="437" width="31" height="11" fill="#ff9800"/>
<rect x="277" y="437" width="41" height="11" fill="#ff9c00"/>
<rect x="317" y="437" width="61" height="11" fill="#ffa000"/>
<rect x="377" y="437" width="131" height="11" fill="#ffa400"/>
<rect x="507" y="437" width="71" height="11" fill="#ffa000"/>
<rect x="577" y="437" width="31" height="11" fill="#ff9c00"/>
<rect x="607" y="437" width="21" height="11" fill="#ff9800"/>
<rect x="627" y="437" width="41" height="11" fill="#ff9400"/>
<rect x="137" y="447" width="51" height="11" fill="#ff8800"/>
<rect x="187" y="447" width="21" height="11" fill="#ff8c00"/>
<rect x="207" y="447" width="11" height="11" fill="#ff9000"/>
<rect x="217" y="447" width="11" height="11" fill="#ff9400"/>
<rect x="227" y="447" width="11" height="11" fill="#ff9800"/>
<rect x="237" y="447" width="21" height="11" fill="#ff9c00"/>
<rect x="257" y="447" width="31" height="11" fill="#ffa000"/>
<rect x="287" y="447" width="81" height="11" fill="#ffa400"/>
<rect x="367" y="447" width="161" height="11" fill="#ffa800"/>
<rect x="527" y="447" width="71" height="11" fill="#ffa400"/>
<rect x="597" y="447" width="31" height="11" fill="#ffa000"/>
<rect x="627" y="447" width="21" height="11" fill="#ff9c00"/>
<rect x="647" y="447" width="21" height="11" fill="#ff9800"/>
<rect x="137" y="457" width="21" height="11" fill="#ff8400"/>
<rect x="157" y="457" width="31" height="11" fill="#ff8800"/>
<rect x="187" y="457" width="21" height="11" fill="#ff8c00"/>
<rect x="207" y="457" width="11" height="11" fill="#ff9000"/>
<rect x="217" y="457" width="11" height="11" fill="#ff9400"/>
<rect x="227" y="457" width="11" height="11" fill="#ff9800"/>
<rect x="237" y="457" width="11" height="11" fill="#ff9c00"/>
<rect x="247" y="457" width="21" height="11" fill="#ffa000"/>
<rect x="267" y="457" width="31" height="11" fill="#ffa400"/>
<rect x="297" y="457" width="291" height="11" fill="#ffa800"/>
<rect x="587" y="457" width="31" height="11" fill="#ffa400"/>
<rect x="617" y="457" width="21" height="11" fill="#ffa000"/>
<rect x="637" y="457" width="31" height="11" fill="#ff9c00"/>
<rect x="137" y="467" width="41" height="11" fill="#ff8400"/>
<rect x="177" y="467" width="21" height="11" fill="#ff8800"/>
<rect x="197" y="467" width="11" height="11" fill="#ff8c00"/>
<rect x="207" y="467" width="11" height="11" fill="#ff9000"/>
<rect x="217" y="467" width="11" height="11" fill="#ff9400"/>
<rect x="227" y="467" width="11" height="11" fill="#ff9800"/>
<rect x="237" y="467" width="11" height="11" fill="#ff9c00"/>
<rect x="247" y="467" width="11" height="11" fill="#ffa000"/>
<rect x="257" y="467" width="41" height="11" fill="#ffa400"/>
<rect x="297" y="467" width="301" height="11" fill="#ffa800"/>
<rect x="597" y="467" width="31" height="11" fill="#ffa400"/>
<rect x="627" y="467" width="11" height="11" fill="#ffa000"/>
<rect x="637" y="467" width="31" height="11" fill="#ff9c00"/>
<rect x="137" y="477" width="51" height="11" fill="#ff8400"/>
<rect x="187" y="477" width="11" height="11" fill="#ff8800"/>
<rect x="197" y="477" width="21" height="11" fill="#ff8c00"/>
<rect x="217" y="477" width="11" height="11" fill="#ff9400"/>
<rect x="227" y="477" width="21" height="11" fill="#ff9800"/>
<rect x="247" y="477" width="11" height="11" fill="#ff9c00"/>
<rect x="257" y="477" width="31" height="11" fill="#ffa000"/>
<rect x="287" y="477" width="51" height="11" fill="#ffa400"/>
<rect x="337" y="477" width="221" height="11" fill="#ffa800"/>
<rect x="557" y="477" width="51" height="11" fill="#ffa400"/>
<rect x="607" y="477" width="21" height="11" fill="#ffa000"/>
<rect x="627" y="477" width="11" height="11" fill="#ff9c00"/>
<rect x="637" y="477" width="31" height="11" fill="#ff9800"/>
<rect x="137" y="487" width="31" height="11" fill="#ff8000"/>
<rect x="167" y="487" width="31" height="11" fill="#ff8400"/>
<rect x="197" y="487" width="11" height="11" fill="#ff8800"/>
<rect x="207" y="487" width="21" height="11" fill="#ff8c00"/>
<rect x="227" y="487" width="11" height="11" fill="#ff9000"/>
<rect x="237" y="487" width="11" height="11" fill="#ff9400"/>
<rect x="247" y="487" width="31" height="11" fill="#ff9800"/>
<rect x="277" y="487" width="21" height="11" fill="#ff9c00"/>
<rect x="297" y="487" width="51" height="11" fill="#ffa000"/>
<rect x="347" y="487" width="201" height="11" fill="#ffa400"/>
<rect x="547" y="487" width="41" height="11" fill="#ffa000"/>
<rect x="587" y="487" width="31" height="11" fill="#ff9c00"/>
<rect x="617" y="487" width="21" height="11" fill="#ff9800"/>
<rect x="637" y="487" width="31" height="11" fill="#ff9400"/>
<rect x="137" y="497" width="21" height="11" fill="#ff7c00"/>
<rect x="157" y="497" width="51" height="11" fill="#ff8000"/>
<rect x="207" y="497" width="21" height="11" fill="#ff8400"/>
<rect x="227" y="497" width="21" height="11" fill="#ff8800"/>
<rect x="247" y="497" width="21" height="11" fill="#ff8c00"/>
<rect x="267" y="497" width="31" height="11" fill="#ff9000"/>
<rect x="297" y="497" width="31" height="11" fill="#ff9400"/>
<rect x="327" y="497" width="41" height="11" fill="#ff9800"/>
<rect x="367" y="497" width="181" height="11" fill="#ff9c00"/>
<rect x="547" y="497" width="31" height="11" fill="#ff9800"/>
<rect x="577" y="497" width="31" height="11" fill="#ff9400"/>
<rect x="607" y="497" width="21" height="11" fill="#ff9000"/>
<rect x="627" y="497" width="41" height="11" fill="#ff8c00"/>
<rect x="137" y="507" width="101" height="11" fill="#ff7800"/>
<rect x="237" y="507" width="41" height="11" fill="#ff7c00"/>
<rect x="277" y="507" width="21" height="11" fill="#ff8000"/>
<rect x="297" y="507" width="31" height="11" fill="#ff8400"/>
<rect x="327" y="507" width="41" height="11" fill="#ff8800"/>
<rect x="367" y="507" width="61" height="11" fill="#ff8c00"/>
<rect x="427" y="507" width="101" height="11" fill="#ff9000"/>
<rect x="527" y="507" width="41" height="11" fill="#ff8c00"/>
<rect x="567" y="507" width="31" height="11" fill="#ff8800"/>
<rect x="597" y="507" width="31" height="11" fill="#ff8400"/>
<rect x="627" y="507" width="41" height="11" fill="#ff8000"/>
<rect x="137" y="517" width="31" height="11" fill="#ff7400"/>
<rect x="167" y="517" width="51" height="11" fill="#ff7000"/>
<rect x="217" y="517" width="71" height="11" fill="#ff6c00"/>
<rect x="287" y="517" width="41" height="11" fill="#ff7000"/>
<rect x="327" y="517" width="41" height="11" fill="#ff7400"/>
<rect x="367" y="517" width="51" height="11" fill="#ff7800"/>
<rect x="417" y="517" width="61" height="11" fill="#ff7c00"/>
<rect x="477" y="517" width="61" height="11" fill="#ff8000"/>
<rect x="537" y="517" width="41" height="11" fill="#ff7c00"/>
<rect x="577" y="517" width="41" height="11" fill="#ff7800"/>
<rect x="617" y="517" width="51" height="11" fill="#ff7400"/>
<rect x="137" y="527" width="21" height="11" fill="#ff7000"/>
<rect x="157" y="527" width="21" height="11" fill="#ff6c00"/>
<rect x="177" y="527" width="31" height="11" fill="#ff6800"/>
<rect x="207" y="527" width="21" height="11" fill="#ff6400"/>
<rect x="227" y="527" width="31" height="11" fill="#ff6000"/>
<rect x="257" y="527" width="41" height="11" fill="#ff5c00"/>
<rect x="297" y="527" width="61" height="11" fill="#ff6000"/>
<rect x="357" y="527" width="61" height="11" fill="#ff6400"/>
<rect x="417" y="527" width="31" height="11" fill="#ff6800"/>
<rect x="447" y="527" width="51" height="11" fill="#ff6c00"/>
<rect x="497" y="527" width="61" height="11" fill="#ff7000"/>
<rect x="557" y="527" width="81" height="11" fill="#ff6c00"/>
<rect x="637" y="527" width="31" height="11" fill="#ff6800"/>
<rect x="137" y="537" width="11" height="11" fill="#ff6c00"/>
<rect x="147" y="537" width="21" height="11" fill="#ff6800"/>
<rect x="167" y="537" width="21" height="11" fill="#ff6400"/>
<rect x="187" y="537" width="21" height="11" fill="#ff6000"/>
<rect x="207" y="537" width="11" height="11" fill="#ff5c00"/>
<rect x="217" y="537" width="21" height="11" fill="#ff5800"/>
<rect x="237" y="537" width="21" height="11" fill="#ff5400"/>
<rect x="257" y="537" width="141" height="11" fill="#ff5000"/>
<rect x="397" y="537" width="31" height="11" fill="#ff5400"/>
<rect x="427" y="537" width="31" height="11" fill="#ff5800"/>
<rect x="457" y="537" width="31" height="11" fill="#ff5c00"/>
<rect x="487" y="537" width="31" height="11" fill="#ff6000"/>
<rect x="517" y="537" width="21" height="11" fill="#ff6400"/>
<rect x="537" y="537" width="131" height="11" fill="#ff6000"/>
<rect x="137" y="547" width="21" height="11" fill="#ff6800"/>
<rect x="157" y="547" width="21" height="11" fill="#ff6400"/>
<rect x="177" y="547" width="11" height="11" fill="#ff6000"/>
<rect x="187" y="547" width="21" height="11" fill="#ff5c00"/>
<rect x="207" y="547" width="11" height="11" fill="#ff5800"/>
<rect x="217" y="547" width="21" height="11" fill="#ff5400"/>
<rect x="237" y="547" width="11" height="11" fill="#ff5000"/>
<rect x="247" y="547" width="21" height="11" fill="#ff4c00"/>
<rect x="267" y="547" width="151" height="11" fill="#ff4800"/>
<rect x="417" y="547" width="31" height="11" fill="#ff4c00"/>
<rect x="447" y="547" width="31" height="11" fill="#ff5000"/>
<rect x="477" y="547" width="31" height="11" fill="#ff5400"/>
<rect x="507" y="547" width="161" height="11" fill="#ff5800"/>
<rect x="137" y="557" width="11" height="11" fill="#ff6c00"/>
<rect x="147" y="557" width="21" height="11" fill="#ff6800"/>
<rect x="167" y="557" width="11" height="11" fill="#ff6400"/>
<rect x="177" y="557" width="21" height="11" fill="#ff6000"/>
<rect x="197" y="557" width="11" height="11" fill="#ff5c00"/>
<rect x="207" y="557" width="21" height="11" fill="#ff5800"/>
<rect x="227" y="557" width="21" height="11" fill="#ff5400"/>
<rect x="247" y="557" width="11" height="11" fill="#ff5000"/>
<rect x="257" y="557" width="31" height="11" fill="#ff4c00"/>
<rect x="287" y="557" width="101" height="11" fill="#ff4800"/>
<rect x="387" y="557" width="11" height="11" fill="#ff4400"/>
<rect x="397" y="557" width="51" height="11" fill="#ff4800"/>
<rect x="447" y="557" width="41" height="11" fill="#ff4c00"/>
<rect x="487" y="557" width="131" height="11" fill="#ff5000"/>
<rect x="617" y="557" width="51" height="11" fill="#ff4c00"/>
<rect x="137" y="567" width="21" height="11" fill="#ff6c00"/>
<rect x="157" y="567" width="21" height="11" fill="#ff6800"/>
<rect x="177" y="567" width="11" height="11" fill="#ff6400"/>
<rect x="187" y="567" width="21" height="11" fill="#ff6000"/>
<rect x="207" y="567" width="11" height="11" fill="#ff5c00"/>
<rect x="217" y="567" width="21" height="11" fill="#ff5800"/>
<rect x="237" y="567" width="11" height="11" fill="#ff5400"/>
<rect x="247" y="567" width="21" height="11" fill="#ff5000"/>
<rect x="267" y="567" width="41" height="11" fill="#ff4c00"/>
<rect x="307" y="567" width="61" height="11" fill="#ff4800"/>
<rect x="367" y="567" width="71" height="11" fill="#ff4400"/>
<rect x="437" y="567" width="171" height="11" fill="#ff4800"/>
<rect x="607" y="567" width="61" height="11" fill="#ff4400"/>
<rect x="137" y="577" width="11" height="11" fill="#ff7000"/>
<rect x="147" y="577" width="21" height="11" fill="#ff6c00"/>
<rect x="167" y="577" width="11" height="11" fill="#ff6800"/>
<rect x="177" y="577" width="21" height="11" fill="#ff6400"/>
<rect x="197" y="577" width="11" height="11" fill="#ff6000"/>
<rect x="207" y="577" width="21" height="11" fill="#ff5c00"/>
<rect x="227" y="577" width="11" height="11" fill="#ff5800"/>
<rect x="237" y="577" width="21" height="11" fill="#ff5400"/>
<rect x="257" y="577" width="11" height="11" fill="#ff5000"/>
<rect x="267" y="577" width="41" height="11" fill="#ff4c00"/>
<rect x="307" y="577" width="51" height="11" fill="#ff4800"/>
<rect x="357" y="577" width="181" height="11" fill="#ff4400"/>
<rect x="537" y="577" width="61" height="11" fill="#ff4000"/>
<rect x="597" y="577" width="31" height="11" fill="#ff3c00"/>
<rect x="627" y="577" width="41" height="11" fill="#ff3800"/>
<rect x="137" y="587" width="31" height="11" fill="#ff7000"/>
<rect x="167" y="587" width="11" height="11" fill="#ff6c00"/>
<rect x="177" y="587" width="21" height="11" fill="#ff6800"/>
<rect x="197" y="587" width="11" height="11" fill="#ff6400"/>
<rect x="207" y="587" width="11" height="11" fill="#ff6000"/>
<rect x="217" y="587" width="21" height="11" fill="#ff5c00"/>
<rect x="237" y="587" width="11" height="11" fill="#ff5800"/>
<rect x="247" y="587" width="21" height="11" fill="#ff5400"/>
<rect x="267" y="587" width="21" height="11" fill="#ff5000"/>
<rect x="287" y="587" width="31" height="11" fill="#ff4c00"/>
<rect x="317" y="587" width="31" height="11" fill="#ff4800"/>
<rect x="347" y="587" width="41" height="11" fill="#ff4400"/>
<rect x="387" y="587" width="81" height="11" fill="#ff4000"/>
<rect x="467" y="587" width="81" height="11" fill="#ff3c00"/>
<rect x="547" y="587" width="41" height="11" fill="#ff3800"/>
<rect x="587" y="587" width="31" height="11" fill="#ff3400"/>
<rect x="617" y="587" width="21" height="11" fill="#ff3000"/>
<rect x="637" y="587" width="31" height="11" fill="#ff2c00"/>
<rect x="137" y="597" width="21" height="11" fill="#ff7c00"/>
<rect x="157" y="597" width="21" height="11" fill="#ff7800"/>
<rect x="177" y="597" width="11" height="11" fill="#ff7400"/>
<rect x="187" y="597" width="11" height="11" fill="#ff7000"/>
<rect x="197" y="597" width="11" height="11" fill="#ff6c00"/>
<rect x="207" y="597" width="11" height="11" fill="#ff6800"/>
<rect x="217" y="597" width="21" height="11" fill="#ff6400"/>
<rect x="237" y="597" width="11" height="11" fill="#ff6000"/>
<rect x="247" y="597" width="11" height="11" fill="#ff5c00"/>
<rect x="257" y="597" width="11" height="11" fill="#ff5800"/>
<rect x="267" y="597" width="31" height="11" fill="#ff5400"/>
<rect x="297" y="597" width="21" height="11" fill="#ff5000"/>
<rect x="317" y="597" width="21" height="11" fill="#ff4c00"/>
<rect x="337" y="597" width="31" height="11" fill="#ff4800"/>
<rect x="367" y="597" width="31" height="11" fill="#ff4400"/>
<rect x="397" y="597" width="51" height="11" fill="#ff4000"/>
<rect x="447" y="597" width="51" height="11" fill="#ff3c00"/>
<rect x="497" y="597" width="51" height="11" fill="#ff3800"/>
<rect x="547" y="597" width="31" height="11" fill="#ff3400"/>
<rect x="577" y="597" width="21" height="11" fill="#ff3000"/>
<rect x="597" y="597" width="21" height="11" fill="#ff2c00"/>
<rect x="617" y="597" width="21" height="11" fill="#ff2800"/>
<rect x="637" y="597" width="31" height="11" fill="#ff2400"/>
<rect x="137" y="607" width="21" height="11" fill="#ff9000"/>
<rect x="157" y="607" width="11" height="11" fill="#ff8c00"/>
<rect x="167" y="607" width="11" height="11" fill="#ff8800"/>
<rect x="177" y="607" width="11" height="11" fill="#ff8400"/>
<rect x="187" y="607" width="11" height="11" fill="#ff8000"/>
<rect x="197" y="607" width="11" height="11" fill="#ff7c00"/>
<rect x="207" y="607" width="11" height="11" fill="#ff7800"/>
<rect x="217" y="607" width="11" height="11" fill="#ff7400"/>
<rect x="227" y="607" width="11" height="11" fill="#ff7000"/>
<rect x="237" y="607" width="11" height="11" fill="#ff6c00"/>
<rect x="247" y="607" width="11" height="11" fill="#ff6800"/>
<rect x="257" y="607" width="11" height="11" fill="#ff6400"/>
<rect x="267" y="607" width="21" height="11" fill="#ff6000"/>
<rect x="287" y="607" width="11" height="11" fill="#ff5c00"/>
<rect x="297" y="607" width="21" height="11" fill="#ff5800"/>
<rect x="317" y="607" width="21" height="11" fill="#ff5400"/>
<rect x="337" y="607" width="11" height="11" fill="#ff5000"/>
<rect x="347" y="607" width="21" height="11" fill="#ff4c00"/>
<rect x="367" y="607" width="21" height="11" fill="#ff4800"/>
<rect x="387" y="607" width="41" height="11" fill="#ff4400"/>
<rect x="427" y="607" width="41" height="11" fill="#ff4000"/>
<rect x="467" y="607" width="31" height="11" fill="#ff3c00"/>
<rect x="497" y="607" width="41" height="11" fill="#ff3800"/>
<rect x="537" y="607" width="31" height="11" fill="#ff3400"/>
<rect x="567" y="607" width="21" height="11" fill="#ff3000"/>
<rect x="587" y="607" width="11" height="11" fill="#ff2c00"/>
<rect x="597" y="607" width="21" height="11" fill="#ff2800"/>
<rect x="617" y="607" width="11" height="11" fill="#ff2400"/>
<rect x="627" y="607" width="41" height="11" fill="#ff2000"/>
<rect x="137" y="617" width="11" height="11" fill="#ffb000"/>
<rect x="147" y="617" width="11" height="11" fill="#ffb400"/>
<rect x="157" y="617" width="11" height="11" fill="#ffac00"/>
<rect x="167" y="617" width="11" height="11" fill="#ffa000"/>
<rect x="177" y="617" width="11" height="11" fill="#ff9800"/>
<rect x="187" y="617" width="11" height="11" fill="#ff9000"/>
<rect x="197" y="617" width="11" height="11" fill="#ff8c00"/>
<rect x="207" y="617" width="11" height="11" fill="#ff8400"/>
<rect x="217" y="617" width="11" height="11" fill="#ff8000"/>
<rect x="227" y="617" width="11" height="11" fill="#ff7c00"/>
<rect x="237" y="617" width="11" height="11" fill="#ff7800"/>
<rect x="247" y="617" width="11" height="11" fill="#ff7400"/>
<rect x="257" y="617" width="11" height="11" fill="#ff7000"/>
<rect x="267" y="617" width="11" height="11" fill="#ff6c00"/>
<rect x="277" y="617" width="21" height="11" fill="#ff6800"/>
<rect x="297" y="617" width="11" height="11" fill="#ff6400"/>
<rect x="307" y="617" width="11" height="11" fill="#ff6000"/>
<rect x="317" y="617" width="11" height="11" fill="#ff5c00"/>
<rect x="327" y="617" width="21" height="11" fill="#ff5800"/>
<rect x="347" y="617" width="11" height="11" fill="#ff5400"/>
<rect x="357" y="617" width="21" height="11" fill="#ff5000"/>
<rect x="377" y="617" width="11" height="11" fill="#ff4c00"/>
<rect x="387" y="617" width="21" height="11" fill="#ff4800"/>
<rect x="407" y="617" width="41" height="11" fill="#ff4400"/>
<rect x="447" y="617" width="31" height="11" fill="#ff4000"/>
<rect x="477" y="617" width="31" height="11" fill="#ff3c00"/>
<rect x="507" y="617" width="31" height="11" fill="#ff3800"/>
<rect x="537" y="617" width="21" height="11" fill="#ff3400"/>
<rect x="557" y="617" width="21" height="11" fill="#ff3000"/>
<rect x="577" y="617" width="21" height="11" fill="#ff2c00"/>
<rect x="597" y="617" width="11" height="11" fill="#ff2800"/>
<rect x="607" y="617" width="11" height="11" fill="#ff2400"/>
<rect x="617" y="617" width="11" height="11" fill="#ff2000"/>
<rect x="627" y="617" width="41" height="11" fill="#ff1c00"/>
<rect x="137" y="627" width="11" height="11" fill="#ffe000"/>
<rect x="147" y="627" width="11" height="11" fill="#ffe400"/>
<rect x="157" y="627" width="11" height="11" fill="#ffd400"/>
<rect x="167" y="627" width="11" height="11" fill="#ffc000"/>
<rect x="177" y="627" width="11" height="11" fill="#ffb400"/>
<rect x="187" y="627" width="11" height="11" fill="#ffa800"/>
<rect x="197" y="627" width="11" height="11" fill="#ff9c00"/>
<rect x="207" y="627" width="11" height="11" fill="#ff9400"/>
<rect x="217" y="627" width="11" height="11" fill="#ff8c00"/>
<rect x="227" y="627" width="11" height="11" fill="#ff8800"/>
<rect x="237" y="627" width="11" height="11" fill="#ff8400"/>
<rect x="247" y="627" width="11" height="11" fill="#ff8000"/>
<rect x="257" y="627" width="11" height="11" fill="#ff7c00"/>
<rect x="267" y="627" width="11" height="11" fill="#ff7800"/>
<rect x="277" y="627" width="11" height="11" fill="#ff7400"/>
<rect x="287" y="627" width="11" height="11" fill="#ff7000"/>
<rect x="297" y="627" width="11" height="11" fill="#ff6c00"/>
<rect x="307" y="627" width="11" height="11" fill="#ff6800"/>
<rect x="317" y="627" width="21" height="11" fill="#ff6400"/>
<rect x="337" y="627" width="11" height="11" fill="#ff6000"/>
<rect x="347" y="627" width="11" height="11" fill="#ff5c00"/>
<rect x="357" y="627" width="11" height="11" fill="#ff5800"/>
<rect x="367" y="627" width="11" height="11" fill="#ff5400"/>
<rect x="377" y="627" width="11" height="11" fill="#ff5000"/>
<rect x="387" y="627" width="21" height="11" fill="#ff4c00"/>
<rect x="407" y="627" width="21" height="11" fill="#ff4800"/>
<rect x="427" y="627" width="31" height="11" fill="#ff4400"/>
<rect x="457" y="627" width="21" height="11" fill="#ff4000"/>
<rect x="477" y="627" width="31" height="11" fill="#ff3c00"/>
<rect x="507" y="627" width="31" height="11" fill="#ff3800"/>
<rect x="537" y="627" width="21" height="11" fill="#ff3400"/>
<rect x="557" y="627" width="11" height="11" fill="#ff3000"/>
<rect x="567" y="627" width="21" height="11" fill="#ff2c00"/>
<rect x="587" y="627" width="11" height="11" fill="#ff2800"/>
<rect x="597" y="627" width="11" height="11" fill="#ff2400"/>
<rect x="607" y="627" width="11" height="11" fill="#ff2000"/>
<rect x="617" y="627" width="11" height="11" fill="#ff1c00"/>
<rect x="627" y="627" width="41" height="11" fill="#ff1800"/>
<rect x="137" y="637" width="21" height="11" fill="#f8f800"/>
<rect x="157" y="637" width="11" height="11" fill="#fcec00"/>
<rect x="167" y="637" width="11" height="11" fill="#ffd800"/>
<rect x="177" y="637" width="11" height="11" fill="#ffcc00"/>
<rect x="187" y="637" width="11" height="11" fill="#ffbc00"/>
<rect x="197" y="637" width="11" height="11" fill="#ffb000"/>
<rect x="207" y="637" width="11" height="11" fill="#ffa000"/>
<rect x="217" y="637" width="11" height="11" fill="#ff9400"/>
<rect x="227" y="637" width="11" height="11" fill="#ff9000"/>
<rect x="237" y="637" width="21" height="11" fill="#ff8c00"/>
<rect x="257" y="637" width="11" height="11" fill="#ff8800"/>
<rect x="267" y="637" width="11" height="11" fill="#ff8400"/>
<rect x="277" y="637" width="11" height="11" fill="#ff8000"/>
<rect x="287" y="637" width="11" height="11" fill="#ff7c00"/>
<rect x="297" y="637" width="11" height="11" fill="#ff7800"/>
<rect x="307" y="637" width="11" height="11" fill="#ff7400"/>
<rect x="317" y="637" width="11" height="11" fill="#ff7000"/>
<rect x="327" y="637" width="11" height="11" fill="#ff6c00"/>
<rect x="337" y="637" width="11" height="11" fill="#ff6800"/>
<rect x="347" y="637" width="11" height="11" fill="#ff6000"/>
<rect x="357" y="637" width="11" height="11" fill="#ff5c00"/>
<rect x="367" y="637" width="11" height="11" fill="#ff5800"/>
<rect x="377" y="637" width="11" height="11" fill="#ff5400"/>
<rect x="387" y="637" width="11" height="11" fill="#ff5000"/>
<rect x="397" y="637" width="21" height="11" fill="#ff4c00"/>
<rect x="417" y="637" width="31" height="11" fill="#ff4800"/>
<rect x="447" y="637" width="21" height="11" fill="#ff4400"/>
<rect x="467" y="637" width="21" height="11" fill="#ff4000"/>
<rect x="487" y="637" width="21" height="11" fill="#ff3c00"/>
<rect x="507" y="637" width="21" height="11" fill="#ff3800"/>
<rect x="527" y="637" width="21" height="11" fill="#ff3400"/>
<rect x="547" y="637" width="21" height="11" fill="#ff3000"/>
<rect x="567" y="637" width="11" height="11" fill="#ff2c00"/>
<rect x="577" y="637" width="11" height="11" fill="#ff2800"/>
<rect x="587" y="637" width="11" height="11" fill="#ff2400"/>
<rect x="597" y="637" width="11" height="11" fill="#ff2000"/>
<rect x="607" y="637" width="11" height="11" fill="#ff1c00"/>
<rect x="617" y="637" width="11" height="11" fill="#ff1800"/>
<rect x="627" y="637" width="41" height="11" fill="#ff1400"/>
<rect x="137" y="647" width="11" height="11" fill="#f8f000"/>
<rect x="147" y="647" width="11" height="11" fill="#f8f400"/>
<rect x="157" y="647" width="11" height="11" fill="#ffe800"/>
<rect x="167" y="647" width="11" height="11" fill="#ffd400"/>
<rect x="177" y="647" width="11" height="11" fill="#ffc800"/>
<rect x="187" y="647" width="11" height="11" fill="#ffb800"/>
<rect x="197" y="647" width="11" height="11" fill="#ffac00"/>
<rect x="207" y="647" width="11" height="11" fill="#ffa000"/>
<rect x="217" y="647" width="11" height="11" fill="#ff9800"/>
<rect x="227" y="647" width="11" height="11" fill="#ff9400"/>
<rect x="237" y="647" width="21" height="11" fill="#ff9000"/>
<rect x="257" y="647" width="11" height="11" fill="#ff8c00"/>
<rect x="267" y="647" width="11" height="11" fill="#ff8800"/>
<rect x="277" y="647" width="21" height="11" fill="#ff8400"/>
<rect x="297" y="647" width="11" height="11" fill="#ff8000"/>
<rect x="307" y="647" width="11" height="11" fill="#ff7c00"/>
<rect x="317" y="647" width="11" height="11" fill="#ff7400"/>
<rect x="327" y="647" width="11" height="11" fill="#ff7000"/>
<rect x="337" y="647" width="11" height="11" fill="#ff6c00"/>
<rect x="347" y="647" width="11" height="11" fill="#ff6800"/>
<rect x="357" y="647" width="11" height="11" fill="#ff6000"/>
<rect x="367" y="647" width="11" height="11" fill="#ff5c00"/>
<rect x="377" y="647" width="11" height="11" fill="#ff5800"/>
<rect x="387" y="647" width="11" height="11" fill="#ff5400"/>
<rect x="397" y="647" width="11" height="11" fill="#ff5000"/>
<rect x="407" y="647" width="21" height="11" fill="#ff4c00"/>
<rect x="427" y="647" width="21" height="11" fill="#ff4800"/>
<rect x="447" y="647" width="31" height="11" fill="#ff4400"/>
<rect x="477" y="647" width="21" height="11" fill="#ff4000"/>
<rect x="497" y="647" width="21" height="11" fill="#ff3c00"/>
<rect x="517" y="647" width="21" height="11" fill="#ff3800"/>
<rect x="537" y="647" width="21" height="11" fill="#ff3400"/>
<rect x="557" y="647" width="11" height="11" fill="#ff3000"/>
<rect x="567" y="647" width="11" height="11" fill="#ff2c00"/>
<rect x="577" y="647" width="11" height="11" fill="#ff2800"/>
<rect x="587" y="647" width="11" height="11" fill="#ff2400"/>
<rect x="597" y="647" width="11" height="11" fill="#ff2000"/>
<rect x="607" y="647" width="11" height="11" fill="#ff1c00"/>
<rect x="617" y="647" width="11" height="11" fill="#ff1800"/>
<rect x="627" y="647" width="41" height="11" fill="#ff1400"/>
<rect x="137" y="657" width="11" height="11" fill="#ffd000"/>
<rect x="147" y="657" width="11" height="11" fill="#ffd400"/>
<rect x="157" y="657" width="11" height="11" fill="#ffc800"/>
<rect x="167" y="657" width="11" height="11" fill="#ffb800"/>
<rect x="177" y="657" width="11" height="11" fill="#ffb000"/>
<rect x="187" y="657" width="11" height="11" fill="#ffa400"/>
<rect x="197" y="657" width="11" height="11" fill="#ffa000"/>
<rect x="207" y="657" width="11" height="11" fill="#ff9800"/>
<rect x="217" y="657" width="21" height="11" fill="#ff9400"/>
<rect x="237" y="657" width="21" height="11" fill="#ff9000"/>
<rect x="257" y="657" width="21" height="11" fill="#ff8c00"/>
<rect x="277" y="657" width="11" height="11" fill="#ff8800"/>
<rect x="287" y="657" width="11" height="11" fill="#ff8400"/>
<rect x="297" y="657" width="11" height="11" fill="#ff8000"/>
<rect x="307" y="657" width="11" height="11" fill="#ff7c00"/>
<rect x="317" y="657" width="11" height="11" fill="#ff7800"/>
<rect x="327" y="657" width="11" height="11" fill="#ff7400"/>
<rect x="337" y="657" width="11" height="11" fill="#ff7000"/>
<rect x="347" y="657" width="11" height="11" fill="#ff6800"/>
<rect x="357" y="657" width="11" height="11" fill="#ff6400"/>
<rect x="367" y="657" width="11" height="11" fill="#ff6000"/>
<rect x="377" y="657" width="11" height="11" fill="#ff5800"/>
<rect x="387" y="657" width="11" height="11" fill="#ff5400"/>
<rect x="397" y="657" width="21" height="11" fill="#ff5000"/>
<rect x="417" y="657" width="21" height="11" fill="#ff4c00"/>
<rect x="437" y="657" width="21" height="11" fill="#ff4800"/>
<rect x="457" y="657" width="21" height="11" fill="#ff4400"/>
<rect x="477" y="657" width="21" height="11" fill="#ff4000"/>
<rect x="497" y="657" width="31" height="11" fill="#ff3c00"/>
<rect x="527" y="657" width="21" height="11" fill="#ff3800"/>
<rect x="547" y="657" width="11" height="11" fill="#ff3400"/>
<rect x="557" y="657" width="21" height="11" fill="#ff3000"/>
<rect x="577" y="657" width="11" height="11" fill="#ff2c00"/>
<rect x="587" y="657" width="11" height="11" fill="#ff2800"/>
<rect x="597" y="657" width="11" height="11" fill="#ff2400"/>
<rect x="607" y="657" width="11" height="11" fill="#ff2000"/>
<rect x="617" y="657" width="11" height="11" fill="#ff1c00"/>
<rect x="627" y="657" width="21" height="11" fill="#ff1800"/>
<rect x="647" y="657" width="21" height="11" fill="#ff1400"/>
<rect x="137" y="667" width="21" height="11" fill="#ffb000"/>
<rect x="157" y="667" width="11" height="11" fill="#ffa800"/>
<rect x="167" y="667" width="11" height="11" fill="#ffa400"/>
<rect x="177" y="667" width="11" height="11" fill="#ff9c00"/>
<rect x="187" y="667" width="11" height="11" fill="#ff9800"/>
<rect x="197" y="667" width="31" height="11" fill="#ff9400"/>
<rect x="227" y="667" width="31" height="11" fill="#ff9000"/>
<rect x="257" y="667" width="21" height="11" fill="#ff8c00"/>
<rect x="277" y="667" width="21" height="11" fill="#ff8800"/>
<rect x="297" y="667" width="11" height="11" fill="#ff8400"/>
<rect x="307" y="667" width="11" height="11" fill="#ff8000"/>
<rect x="317" y="667" width="11" height="11" fill="#ff7c00"/>
<rect x="327" y="667" width="11" height="11" fill="#ff7800"/>
<rect x="337" y="667" width="11" height="11" fill="#ff7000"/>
<rect x="347" y="667" width="11" height="11" fill="#ff6c00"/>
<rect x="357" y="667" width="11" height="11" fill="#ff6400"/>
<rect x="367" y="667" width="11" height="11" fill="#ff6000"/>
<rect x="377" y="667" width="11" height="11" fill="#ff5c00"/>
<rect x="387" y="667" width="11" height="11" fill="#ff5400"/>
<rect x="397" y="667" width="21" height="11" fill="#ff5000"/>
<rect x="417" y="667" width="21" height="11" fill="#ff4c00"/>
<rect x="437" y="667" width="31" height="11" fill="#ff4800"/>
<rect x="467" y="667" width="21" height="11" fill="#ff4400"/>
<rect x="487" y="667" width="21" height="11" fill="#ff4000"/>
<rect x="507" y="667" width="31" height="11" fill="#ff3c00"/>
<rect x="537" y="667" width="21" height="11" fill="#ff3800"/>
<rect x="557" y="667" width="11" height="11" fill="#ff3400"/>
<rect x="567" y="667" width="21" height="11" fill="#ff3000"/>
<rect x="587" y="667" width="11" height="11" fill="#ff2c00"/>
<rect x="597" y="667" width="11" height="11" fill="#ff2800"/>
<rect x="607" y="667" width="11" height="11" fill="#ff2400"/>
<rect x="617" y="667" width="11" height="11" fill="#ff2000"/>
<rect x="627" y="667" width="11" height="11" fill="#ff1c00"/>
<rect x="637" y="667" width="31" height="11" fill="#ff1800"/>
<rect x="137" y="677" width="21" height="11" fill="#ffa000"/>
<rect x="157" y="677" width="11" height="11" fill="#ff9c00"/>
<rect x="167" y="677" width="11" height="11" fill="#ff9800"/>
<rect x="177" y="677" width="51" height="11" fill="#ff9400"/>
<rect x="227" y="677" width="31" height="11" fill="#ff9000"/>
<rect x="257" y="677" width="21" height="11" fill="#ff8c00"/>
<rect x="277" y="677" width="21" height="11" fill="#ff8800"/>
<rect x="297" y="677" width="11" height="11" fill="#ff8400"/>
<rect x="307" y="677" width="11" height="11" fill="#ff8000"/>
<rect x="317" y="677" width="11" height="11" fill="#ff7c00"/>
<rect x="327" y="677" width="11" height="11" fill="#ff7800"/>
<rect x="337" y="677" width="11" height="11" fill="#ff7000"/>
<rect x="347" y="677" width="11" height="11" fill="#ff6c00"/>
<rect x="357" y="677" width="11" height="11" fill="#ff6800"/>
<rect x="367" y="677" width="11" height="11" fill="#ff6000"/>
<rect x="377" y="677" width="11" height="11" fill="#ff5c00"/>
<rect x="387" y="677" width="11" height="11" fill="#ff5800"/>
<rect x="397" y="677" width="11" height="11" fill="#ff5400"/>
<rect x="407" y="677" width="21" height="11" fill="#ff5000"/>
<rect x="427" y="677" width="21" height="11" fill="#ff4c00"/>
<rect x="447" y="677" width="21" height="11" fill="#ff4800"/>
<rect x="467" y="677" width="31" height="11" fill="#ff4400"/>
<rect x="497" y="677" width="21" height="11" fill="#ff4000"/>
<rect x="517" y="677" width="31" height="11" fill="#ff3c00"/>
<rect x="547" y="677" width="21" height="11" fill="#ff3800"/>
<rect x="567" y="677" width="11" height="11" fill="#ff3400"/>
<rect x="577" y="677" width="21" height="11" fill="#ff3000"/>
<rect x="597" y="677" width="11" height="11" fill="#ff2c00"/>
<rect x="607" y="677" width="11" height="11" fill="#ff2800"/>
<rect x="617" y="677" width="11" height="11" fill="#ff2400"/>
<rect x="627" y="677" width="21" height="11" fill="#ff2000"/>
<rect x="647" y="677" width="21" height="11" fill="#ff1c00"/>
<rect x="137" y="687" width="21" height="11" fill="#ff9800"/>
<rect x="157" y="687" width="51" height="11" fill="#ff9400"/>
<rect x="207" y="687" width="41" height="11" fill="#ff9000"/>
<rect x="247" y="687" width="31" height="11" fill="#ff8c00"/>
<rect x="277" y="687" width="11" height="11" fill="#ff8800"/>
<rect x="287" y="687" width="11" height="11" fill="#ff8400"/>
<rect x="297" y="687" width="21" height="11" fill="#ff8000"/>
<rect x="317" y="687" width="11" height="11" fill="#ff7c00"/>
<rect x="327" y="687" width="11" height="11" fill="#ff7400"/>
<rect x="337" y="687" width="11" height="11" fill="#ff7000"/>
<rect x="347" y="687" width="11" height="11" fill="#ff6c00"/>
<rect x="357" y="687" width="11" height="11" fill="#ff6800"/>
<rect x="367" y="687" width="11" height="11" fill="#ff6000"/>
<rect x="377" y="687" width="11" height="11" fill="#ff5c00"/>
<rect x="387" y="687" width="11" height="11" fill="#ff5800"/>
<rect x="397" y="687" width="11" height="11" fill="#ff5400"/>
<rect x="407" y="687" width="21" height="11" fill="#ff5000"/>
<rect x="427" y="687" width="31" height="11" fill="#ff4c00"/>
<rect x="457" y="687" width="21" height="11" fill="#ff4800"/>
<rect x="477" y="687" width="31" height="11" fill="#ff4400"/>
<rect x="507" y="687" width="21" height="11" fill="#ff4000"/>
<rect x="527" y="687" width="31" height="11" fill="#ff3c00"/>
<rect x="557" y="687" width="21" height="11" fill="#ff3800"/>
<rect x="577" y="687" width="21" height="11" fill="#ff3400"/>
<rect x="597" y="687" width="11" height="11" fill="#ff3000"/>
<rect x="607" y="687" width="11" height="11" fill="#ff2c00"/>
<rect x="617" y="687" width="11" height="11" fill="#ff2800"/>
<rect x="627" y="687" width="41" height="11" fill="#ff2400"/>
<rect x="137" y="697" width="41" height="11" fill="#ff9400"/>
<rect x="177" y="697" width="51" height="11" fill="#ff9000"/>
<rect x="227" y="697" width="31" height="11" fill="#ff8c00"/>
<rect x="257" y="697" width="21" height="11" fill="#ff8800"/>
<rect x="277" y="697" width="11" height="11" fill="#ff8400"/>
<rect x="287" y="697" width="11" height="11" fill="#ff8000"/>
<rect x="297" y="697" width="21" height="11" fill="#ff7c00"/>
<rect x="317" y="697" width="11" height="11" fill="#ff7800"/>
<rect x="327" y="697" width="11" height="11" fill="#ff7400"/>
<rect x="337" y="697" width="11" height="11" fill="#ff6c00"/>
<rect x="347" y="697" width="11" height="11" fill="#ff6800"/>
<rect x="357" y="697" width="11" height="11" fill="#ff6400"/>
<rect x="367" y="697" width="11" height="11" fill="#ff6000"/>
<rect x="377" y="697" width="11" height="11" fill="#ff5c00"/>
<rect x="387" y="697" width="11" height="11" fill="#ff5800"/>
<rect x="397" y="697" width="11" height="11" fill="#ff5400"/>
<rect x="407" y="697" width="21" height="11" fill="#ff5000"/>
<rect x="427" y="697" width="31" height="11" fill="#ff4c00"/>
<rect x="457" y="697" width="31" height="11" fill="#ff4800"/>
<rect x="487" y="697" width="21" height="11" fill="#ff4400"/>
<rect x="507" y="697" width="31" height="11" fill="#ff4000"/>
<rect x="537" y="697" width="31" height="11" fill="#ff3c00"/>
<rect x="567" y="697" width="21" height="11" fill="#ff3800"/>
<rect x="587" y="697" width="11" height="11" fill="#ff3400"/>
<rect x="597" y="697" width="21" height="11" fill="#ff3000"/>
<rect x="617" y="697" width="21" height="11" fill="#ff2c00"/>
<rect x="637" y="697" width="31" height="11" fill="#ff2800"/>
<rect x="137" y="707" width="41" height="11" fill="#ff9000"/>
<rect x="177" y="707" width="41" height="11" fill="#ff8c00"/>
<rect x="217" y="707" width="31" height="11" fill="#ff8800"/>
<rect x="247" y="707" width="31" height="11" fill="#ff8400"/>
<rect x="277" y="707" width="11" height="11" fill="#ff8000"/>
<rect x="287" y="707" width="11" height="11" fill="#ff7c00"/>
<rect x="297" y="707" width="11" height="11" fill="#ff7800"/>
<rect x="307" y="707" width="11" height="11" fill="#ff7400"/>
<rect x="317" y="707" width="11" height="11" fill="#ff7000"/>
<rect x="327" y="707" width="11" height="11" fill="#ff6c00"/>
<rect x="337" y="707" width="11" height="11" fill="#ff6800"/>
<rect x="347" y="707" width="11" height="11" fill="#ff6400"/>
<rect x="357" y="707" width="11" height="11" fill="#ff6000"/>
<rect x="367" y="707" width="11" height="11" fill="#ff5c00"/>
<rect x="377" y="707" width="11" height="11" fill="#ff5800"/>
<rect x="387" y="707" width="21" height="11" fill="#ff5400"/>
<rect x="407" y="707" width="21" height="11" fill="#ff5000"/>
<rect x="427" y="707" width="31" height="11" fill="#ff4c00"/>
<rect x="457" y="707" width="21" height="11" fill="#ff4800"/>
<rect x="477" y="707" width="31" height="11" fill="#ff4400"/>
<rect x="507" y="707" width="31" height="11" fill="#ff4000"/>
<rect x="537" y="707" width="31" height="11" fill="#ff3c00"/>
<rect x="567" y="707" width="21" height="11" fill="#ff3800"/>
<rect x="587" y="707" width="21" height="11" fill="#ff3400"/>
<rect x="607" y="707" width="21" height="11" fill="#ff3000"/>
<rect x="627" y="707" width="41" height="11" fill="#ff2c00"/>
<rect x="137" y="717" width="71" height="11" fill="#ff8800"/>
<rect x="207" y="717" width="31" height="11" fill="#ff8400"/>
<rect x="237" y="717" width="41" height="11" fill="#ff8000"/>
<rect x="277" y="717" width="11" height="11" fill="#ff7c00"/>
<rect x="287" y="717" width="11" height="11" fill="#ff7800"/>
<rect x="297" y="717" width="11" height="11" fill="#ff7400"/>
<rect x="307" y="717" width="11" height="11" fill="#ff7000"/>
<rect x="317" y="717" width="11" height="11" fill="#ff6c00"/>
<rect x="327" y="717" width="11" height="11" fill="#ff6800"/>
<rect x="337" y="717" width="21" height="11" fill="#ff6400"/>
<rect x="357" y="717" width="11" height="11" fill="#ff6000"/>
<rect x="367" y="717" width="11" height="11" fill="#ff5c00"/>
<rect x="377" y="717" width="11" height="11" fill="#ff5800"/>
<rect x="387" y="717" width="11" height="11" fill="#ff5400"/>
<rect x="397" y="717" width="31" height="11" fill="#ff5000"/>
<rect x="427" y="717" width="21" height="11" fill="#ff4c00"/>
<rect x="447" y="717" width="31" height="11" fill="#ff4800"/>
<rect x="477" y="717" width="31" height="11" fill="#ff4400"/>
<rect x="507" y="717" width="31" height="11" fill="#ff4000"/>
<rect x="537" y="717" width="31" height="11" fill="#ff3c00"/>
<rect x="567" y="717" width="31" height="11" fill="#ff3800"/>
<rect x="597" y="717" width="21" height="11" fill="#ff3400"/>
<rect x="617" y="717" width="21" height="11" fill="#ff3000"/>
<rect x="637" y="717" width="31" height="11" fill="#ff2c00"/>
<rect x="137" y="727" width="81" height="11" fill="#ff8000"/>
<rect x="217" y="727" width="51" height="11" fill="#ff7c00"/>
<rect x="267" y="727" width="21" height="11" fill="#ff7800"/>
<rect x="287" y="727" width="11" height="11" fill="#ff7400"/>
<rect x="297" y="727" width="11" height="11" fill="#ff7000"/>
<rect x="307" y="727" width="11" height="11" fill="#ff6c00"/>
<rect x="317" y="727" width="21" height="11" fill="#ff6800"/>
<rect x="337" y="727" width="11" height="11" fill="#ff6400"/>
<rect x="347" y="727" width="11" height="11" fill="#ff6000"/>
<rect x="357" y="727" width="11" height="11" fill="#ff5c00"/>
<rect x="367" y="727" width="11" height="11" fill="#ff5800"/>
<rect x="377" y="727" width="21" height="11" fill="#ff5400"/>
<rect x="397" y="727" width="21" height="11" fill="#ff5000"/>
<rect x="417" y="727" width="31" height="11" fill="#ff4c00"/>
<rect x="447" y="727" width="31" height="11" fill="#ff4800"/>
<rect x="477" y="727" width="31" height="11" fill="#ff4400"/>
<rect x="507" y="727" width="31" height="11" fill="#ff4000"/>
<rect x="537" y="727" width="31" height="11" fill="#ff3c00"/>
<rect x="567" y="727" width="31" height="11" fill="#ff3800"/>
<rect x="597" y="727" width="21" height="11" fill="#ff3400"/>
<rect x="617" y="727" width="51" height="11" fill="#ff3000"/>
<rect x="137" y="737" width="141" height="11" fill="#ff7800"/>
<rect x="277" y="737" width="11" height="11" fill="#ff7400"/>
<rect x="287" y="737" width="11" height="11" fill="#ff7000"/>
<rect x="297" y="737" width="11" height="11" fill="#ff6c00"/>
<rect x="307" y="737" width="21" height="11" fill="#ff6800"/>
<rect x="327" y="737" width="11" height="11" fill="#ff6400"/>
<rect x="337" y="737" width="11" height="11" fill="#ff6000"/>
<rect x="347" y="737" width="21" height="11" fill="#ff5c00"/>
<rect x="367" y="737" width="11" height="11" fill="#ff5800"/>
<rect x="377" y="737" width="11" height="11" fill="#ff5400"/>
<rect x="387" y="737" width="31" height="11" fill="#ff5000"/>
<rect x="417" y="737" width="31" height="11" fill="#ff4c00"/>
<rect x="447" y="737" width="31" height="11" fill="#ff4800"/>
<rect x="477" y="737" width="31" height="11" fill="#ff4400"/>
<rect x="507" y="737" width="31" height="11" fill="#ff4000"/>
<rect x="537" y="737" width="31" height="11" fill="#ff3c00"/>
<rect x="567" y="737" width="31" height="11" fill="#ff3800"/>
<rect x="597" y="737" width="31" height="11" fill="#ff3400"/>
<rect x="627" y="737" width="41" height="11" fill="#ff3000"/>
<rect x="137" y="747" width="141" height="11" fill="#ff7400"/>
<rect x="277" y="747" width="11" height="11" fill="#ff7000"/>
<rect x="287" y="747" width="21" height="11" fill="#ff6c00"/>
<rect x="307" y="747" width="11" height="11" fill="#ff6800"/>
<rect x="317" y="747" width="21" height="11" fill="#ff6400"/>
<rect x="337" y="747" width="11" height="11" fill="#ff6000"/>
<rect x="347" y="747" width="21" height="11" fill="#ff5c00"/>
<rect x="367" y="747" width="11" height="11" fill="#ff5800"/>
<rect x="377" y="747" width="11" height="11" fill="#ff5400"/>
<rect x="387" y="747" width="31" height="11" fill="#ff5000"/>
<rect x="417" y="747" width="31" height="11" fill="#ff4c00"/>
<rect x="447" y="747" width="31" height="11" fill="#ff4800"/>
<rect x="477" y="747" width="31" height="11" fill="#ff4400"/>
<rect x="507" y="747" width="41" height="11" fill="#ff4000"/>
<rect x="547" y="747" width="31" height="11" fill="#ff3c00"/>
<rect x="577" y="747" width="31" height="11" fill="#ff3800"/>
<rect x="607" y="747" width="31" height="11" fill="#ff3400"/>
<rect x="637" y="747" width="31" height="11" fill="#ff3000"/>
<rect x="137" y="757" width="141" height="11" fill="#ff7000"/>
<rect x="277" y="757" width="21" height="11" fill="#ff6c00"/>
<rect x="297" y="757" width="21" height="11" fill="#ff6800"/>
<rect x="317" y="757" width="11" height="11" fill="#ff6400"/>
<rect x="327" y="757" width="21" height="11" fill="#ff6000"/>
<rect x="347" y="757" width="21" height="11" fill="#ff5c00"/>
<rect x="367" y="757" width="11" height="11" fill="#ff5800"/>
<rect x="377" y="757" width="21" height="11" fill="#ff5400"/>
<rect x="397" y="757" width="31" height="11" fill="#ff5000"/>
<rect x="427" y="757" width="31" height="11" fill="#ff4c00"/>
<rect x="457" y="757" width="41" height="11" fill="#ff4800"/>
<rect x="497" y="757" width="31" height="11" fill="#ff4400"/>
<rect x="527" y="757" width="31" height="11" fill="#ff4000"/>
<rect x="557" y="757" width="31" height="11" fill="#ff3c00"/>
<rect x="587" y="757" width="31" height="11" fill="#ff3800"/>
<rect x="617" y="757" width="51" height="11" fill="#ff3400"/>
<rect x="137" y="767" width="141" height="11" fill="#ff7000"/>
<rect x="277" y="767" width="11" height="11" fill="#ff6c00"/>
<rect x="287" y="767" width="21" height="11" fill="#ff6800"/>
<rect x="307" y="767" width="21" height="11" fill="#ff6400"/>
<rect x="327" y="767" width="21" height="11" fill="#ff6000"/>
<rect x="347" y="767" width="21" height="11" fill="#ff5c00"/>
<rect x="367" y="767" width="21" height="11" fill="#ff5800"/>
<rect x="387" y="767" width="21" height="11" fill="#ff5400"/>
<rect x="407" y="767" width="41" height="11" fill="#ff5000"/>
<rect x="447" y="767" width="31" height="11" fill="#ff4c00"/>
<rect x="477" y="767" width="31" height="11" fill="#ff4800"/>
<rect x="507" y="767" width="31" height="11" fill="#ff4400"/>
<rect x="537" y="767" width="31" height="11" fill="#ff4000"/>
<rect x="567" y="767" width="31" height="11" fill="#ff3c00"/>
<rect x="597" y="767" width="31" height="11" fill="#ff3800"/>
<rect x="627" y="767" width="41" height="11" fill="#ff3400"/>
<rect x="137" y="777" width="71" height="11" fill="#ff7000"/>
<rect x="207" y="777" width="71" height="11" fill="#ff6c00"/>
<rect x="277" y="777" width="31" height="11" fill="#ff6800"/>
<rect x="307" y="777" width="21" height="11" fill="#ff6400"/>
<rect x="327" y="777" width="21" height="11" fill="#ff6000"/>
<rect x="347" y="777" width="21" height="11" fill="#ff5c00"/>
<rect x="367" y="777" width="31" height="11" fill="#ff5800"/>
<rect x="397" y="777" width="31" height="11" fill="#ff5400"/>
<rect x="427" y="777" width="31" height="11" fill="#ff5000"/>
<rect x="457" y="777" width="31" height="11" fill="#ff4c00"/>
<rect x="487" y="777" width="31" height="11" fill="#ff4800"/>
<rect x="517" y="777" width="31" height="11" fill="#ff4400"/>
<rect x="547" y="777" width="31" height="11" fill="#ff4000"/>
<rect x="577" y="777" width="31" height="11" fill="#ff3c00"/>
<rect x="607" y="777" width="41" height="11" fill="#ff3800"/>
<rect x="647" y="777" width="21" height="11" fill="#ff3400"/>
<rect x="137" y="787" width="51" height="11" fill="#ff7000"/>
<rect x="187" y="787" width="71" height="11" fill="#ff6c00"/>
<rect x="257" y="787" width="41" height="11" fill="#ff6800"/>
<rect x="297" y="787" width="21" height="11" fill="#ff6400"/>
<rect x="317" y="787" width="31" height="11" fill="#ff6000"/>
<rect x="347" y="787" width="31" height="11" fill="#ff5c00"/>
<rect x="377" y="787" width="31" height="11" fill="#ff5800"/>
<rect x="407" y="787" width="31" height="11" fill="#ff5400"/>
<rect x="437" y="787" width="31" height="11" fill="#ff5000"/>
<rect x="467" y="787" width="31" height="11" fill="#ff4c00"/>
<rect x="497" y="787" width="31" height="11" fill="#ff4800"/>
<rect x="527" y="787" width="31" height="11" fill="#ff4400"/>
<rect x="557" y="787" width="41" height="11" fill="#ff4000"/>
<rect x="597" y="787" width="31" height="11" fill="#ff3c00"/>
<rect x="627" y="787" width="41" height="11" fill="#ff3800"/>
<rect x="137" y="797" width="71" height="11" fill="#ff6c00"/>
<rect x="207" y="797" width="61" height="11" fill="#ff6800"/>
<rect x="267" y="797" width="41" height="11" fill="#ff6400"/>
<rect x="307" y="797" width="41" height="11" fill="#ff6000"/>
<rect x="347" y="797" width="41" height="11" fill="#ff5c00"/>
<rect x="387" y="797" width="41" height="11" fill="#ff5800"/>
<rect x="427" y="797" width="41" height="11" fill="#ff5400"/>
<rect x="467" y="797" width="51" height="11" fill="#ff5000"/>
<rect x="517" y="797" width="21" height="11" fill="#ff4c00"/>
<rect x="537" y="797" width="31" height="11" fill="#ff4800"/>
<rect x="567" y="797" width="31" height="11" fill="#ff4400"/>
<rect x="597" y="797" width="31" height="11" fill="#ff4000"/>
<rect x="627" y="797" width="41" height="11" fill="#ff3c00"/>
<rect x="137" y="807" width="51" height="11" fill="#ff6800"/>
<rect x="187" y="807" width="71" height="11" fill="#ff6400"/>
<rect x="257" y="807" width="101" height="11" fill="#ff6000"/>
<rect x="357" y="807" width="171" height="11" fill="#ff5c00"/>
<rect x="527" y="807" width="11" height="11" fill="#ff5800"/>
<rect x="537" y="807" width="21" height="11" fill="#ff5400"/>
<rect x="557" y="807" width="21" height="11" fill="#ff5000"/>
<rect x="577" y="807" width="31" height="11" fill="#ff4c00"/>
<rect x="607" y="807" width="31" height="11" fill="#ff4800"/>
<rect x="637" y="807" width="31" height="11" fill="#ff4400"/>
<rect x="137" y="817" width="41" height="11" fill="#ff6400"/>
<rect x="177" y="817" width="61" height="11" fill="#ff6000"/>
<rect x="237" y="817" width="101" height="11" fill="#ff5c00"/>
<rect x="337" y="817" width="91" height="11" fill="#ff6000"/>
<rect x="427" y="817" width="31" height="11" fill="#ff6400"/>
<rect x="457" y="817" width="11" height="11" fill="#ff6800"/>
<rect x="467" y="817" width="21" height="11" fill="#ff6c00"/>
<rect x="487" y="817" width="31" height="11" fill="#ff7000"/>
<rect x="517" y="817" width="11" height="11" fill="#ff6c00"/>
<rect x="527" y="817" width="11" height="11" fill="#ff6800"/>
<rect x="537" y="817" width="21" height="11" fill="#ff6000"/>
<rect x="557" y="817" width="11" height="11" fill="#ff5c00"/>
<rect x="567" y="817" width="21" height="11" fill="#ff5800"/>
<rect x="587" y="817" width="21" height="11" fill="#ff5400"/>
<rect x="607" y="817" width="31" height="11" fill="#ff5000"/>
<rect x="637" y="817" width="31" height="11" fill="#ff4c00"/>
<rect x="137" y="827" width="31" height="11" fill="#ff6000"/>
<rect x="167" y="827" width="61" height="11" fill="#ff5c00"/>
<rect x="227" y="827" width="71" height="11" fill="#ff5800"/>
<rect x="297" y="827" width="51" height="11" fill="#ff5c00"/>
<rect x="347" y="827" width="31" height="11" fill="#ff6000"/>
<rect x="377" y="827" width="31" height="11" fill="#ff6400"/>
<rect x="407" y="827" width="11" height="11" fill="#ff6800"/>
<rect x="417" y="827" width="21" height="11" fill="#ff6c00"/>
<rect x="437" y="827" width="11" height="11" fill="#ff7000"/>
<rect x="447" y="827" width="11" height="11" fill="#ff7400"/>
<rect x="457" y="827" width="11" height="11" fill="#ff7800"/>
<rect x="467" y="827" width="11" height="11" fill="#ff8000"/>
<rect x="477" y="827" width="41" height="11" fill="#ff8400"/>
<rect x="517" y="827" width="11" height="11" fill="#ff8000"/>
<rect x="527" y="827" width="11" height="11" fill="#ff7c00"/>
<rect x="537" y="827" width="11" height="11" fill="#ff7400"/>
<rect x="547" y="827" width="11" height="11" fill="#ff7000"/>
<rect x="557" y="827" width="11" height="11" fill="#ff6800"/>
<rect x="567" y="827" width="11" height="11" fill="#ff6400"/>
<rect x="577" y="827" width="21" height="11" fill="#ff6000"/>
<rect x="597" y="827" width="21" height="11" fill="#ff5c00"/>
<rect x="617" y="827" width="21" height="11" fill="#ff5800"/>
<rect x="637" y="827" width="31" height="11" fill="#ff5400"/>
<rect x="137" y="837" width="21" height="11" fill="#ff5c00"/>
<rect x="157" y="837" width="61" height="11" fill="#ff5800"/>
<rect x="217" y="837" width="81" height="11" fill="#ff5400"/>
<rect x="297" y="837" width="21" height="11" fill="#ff5800"/>
<rect x="317" y="837" width="21" height="11" fill="#ff5c00"/>
<rect x="337" y="837" width="21" height="11" fill="#ff6000"/>
<rect x="357" y="837" width="21" height="11" fill="#ff6400"/>
<rect x="377" y="837" width="11" height="11" fill="#ff6800"/>
<rect x="387" y="837" width="11" height="11" fill="#ff6c00"/>
<rect x="397" y="837" width="11" height="11" fill="#ff7000"/>
<rect x="407" y="837" width="11" height="11" fill="#ff7400"/>
<rect x="417" y="837" width="11" height="11" fill="#ff7800"/>
<rect x="427" y="837" width="11" height="11" fill="#ff7c00"/>
<rect x="437" y="837" width="11" height="11" fill="#ff8400"/>
<rect x="447" y="837" width="11" height="11" fill="#ff8800"/>
<rect x="457" y="837" width="11" height="11" fill="#ff8c00"/>
<rect x="467" y="837" width="11" height="11" fill="#ff9000"/>
<rect x="477" y="837" width="11" height="11" fill="#ff9400"/>
<rect x="487" y="837" width="21" height="11" fill="#ff9800"/>
<rect x="507" y="837" width="21" height="11" fill="#ff9400"/>
<rect x="527" y="837" width="11" height="11" fill="#ff8c00"/>
<rect x="537" y="837" width="11" height="11" fill="#ff8800"/>
<rect x="547" y="837" width="11" height="11" fill="#ff8400"/>
<rect x="557" y="837" width="11" height="11" fill="#ff7c00"/>
<rect x="567" y="837" width="11" height="11" fill="#ff7800"/>
<rect x="577" y="837" width="11" height="11" fill="#ff7000"/>
<rect x="587" y="837" width="11" height="11" fill="#ff6c00"/>
<rect x="597" y="837" width="11" height="11" fill="#ff6800"/>
<rect x="607" y="837" width="11" height="11" fill="#ff6400"/>
<rect x="617" y="837" width="21" height="11" fill="#ff6000"/>
<rect x="637" y="837" width="31" height="11" fill="#ff5c00"/>
<rect x="137" y="847" width="31" height="11" fill="#ff5c00"/>
<rect x="167" y="847" width="51" height="11" fill="#ff5800"/>
<rect x="217" y="847" width="51" height="11" fill="#ff5400"/>
<rect x="267" y="847" width="11" height="11" fill="#ff5000"/>
<rect x="277" y="847" width="11" height="11" fill="#ff5400"/>
<rect x="287" y="847" width="21" height="11" fill="#ff5800"/>
<rect x="307" y="847" width="11" height="11" fill="#ff5c00"/>
<rect x="317" y="847" width="11" height="11" fill="#ff6000"/>
<rect x="327" y="847" width="11" height="11" fill="#ff6400"/>
<rect x="337" y="847" width="11" height="11" fill="#ff6800"/>
<rect x="347" y="847" width="11" height="11" fill="#ff6c00"/>
<rect x="357" y="847" width="11" height="11" fill="#ff7000"/>
<rect x="367" y="847" width="11" height="11" fill="#ff7400"/>
<rect x="377" y="847" width="11" height="11" fill="#ff7c00"/>
<rect x="387" y="847" width="11" height="11" fill="#ff8000"/>
<rect x="397" y="847" width="11" height="11" fill="#ff8400"/>
<rect x="407" y="847" width="11" height="11" fill="#ff8800"/>
<rect x="417" y="847" width="11" height="11" fill="#ff9000"/>
<rect x="427" y="847" width="11" height="11" fill="#ff9400"/>
<rect x="437" y="847" width="11" height="11" fill="#ff9800"/>
<rect x="447" y="847" width="11" height="11" fill="#ff9c00"/>
<rect x="457" y="847" width="21" height="11" fill="#ffa000"/>
<rect x="477" y="847" width="41" height="11" fill="#ffa400"/>
<rect x="517" y="847" width="11" height="11" fill="#ffa000"/>
<rect x="527" y="847" width="11" height="11" fill="#ff9c00"/>
<rect x="537" y="847" width="11" height="11" fill="#ff9800"/>
<rect x="547" y="847" width="11" height="11" fill="#ff9400"/>
<rect x="557" y="847" width="11" height="11" fill="#ff8c00"/>
<rect x="567" y="847" width="11" height="11" fill="#ff8800"/>
<rect x="577" y="847" width="11" height="11" fill="#ff8000"/>
<rect x="587" y="847" width="11" height="11" fill="#ff7c00"/>
<rect x="597" y="847" width="11" height="11" fill="#ff7800"/>
<rect x="607" y="847" width="11" height="11" fill="#ff7000"/>
<rect x="617" y="847" width="11" height="11" fill="#ff6c00"/>
<rect x="627" y="847" width="11" height="11" fill="#ff6800"/>
<rect x="637" y="847" width="31" height="11" fill="#ff6400"/>
<rect x="137" y="857" width="51" height="11" fill="#ff6000"/>
<rect x="187" y="857" width="31" height="11" fill="#ff5c00"/>
<rect x="217" y="857" width="41" height="11" fill="#ff5800"/>
<rect x="257" y="857" width="21" height="11" fill="#ff5400"/>
<rect x="277" y="857" width="11" height="11" fill="#ff5800"/>
<rect x="287" y="857" width="11" height="11" fill="#ff5c00"/>
<rect x="297" y="857" width="11" height="11" fill="#ff6000"/>
<rect x="307" y="857" width="11" height="11" fill="#ff6800"/>
<rect x="317" y="857" width="11" height="11" fill="#ff7000"/>
<rect x="327" y="857" width="11" height="11" fill="#ff7800"/>
<rect x="337" y="857" width="11" height="11" fill="#ff8000"/>
<rect x="347" y="857" width="11" height="11" fill="#ff8400"/>
<rect x="357" y="857" width="11" height="11" fill="#ff8c00"/>
<rect x="367" y="857" width="11" height="11" fill="#ff9400"/>
<rect x="377" y="857" width="11" height="11" fill="#ff9800"/>
<rect x="387" y="857" width="11" height="11" fill="#ffa000"/>
<rect x="397" y="857" width="21" height="11" fill="#ffa400"/>
<rect x="417" y="857" width="11" height="11" fill="#ffa800"/>
<rect x="427" y="857" width="21" height="11" fill="#ffac00"/>
<rect x="447" y="857" width="61" height="11" fill="#ffb000"/>
<rect x="507" y="857" width="21" height="11" fill="#ffac00"/>
<rect x="527" y="857" width="11" height="11" fill="#ffa800"/>
<rect x="537" y="857" width="11" height="11" fill="#ffa400"/>
<rect x="547" y="857" width="11" height="11" fill="#ffa000"/>
<rect x="557" y="857" width="11" height="11" fill="#ff9c00"/>
<rect x="567" y="857" width="11" height="11" fill="#ff9800"/>
<rect x="577" y="857" width="11" height="11" fill="#ff9000"/>
<rect x="587" y="857" width="11" height="11" fill="#ff8c00"/>
<rect x="597" y="857" width="11" height="11" fill="#ff8400"/>
<rect x="607" y="857" width="11" height="11" fill="#ff8000"/>
<rect x="617" y="857" width="11" height="11" fill="#ff7800"/>
<rect x="627" y="857" width="11" height="11" fill="#ff7400"/>
<rect x="637" y="857" width="11" height="11" fill="#ff7000"/>
<rect x="647" y="857" width="21" height="11" fill="#ff6c00"/>
<rect x="137" y="867" width="31" height="11" fill="#ff6800"/>
<rect x="167" y="867" width="31" height="11" fill="#ff6400"/>
<rect x="197" y="867" width="31" height="11" fill="#ff6000"/>
<rect x="227" y="867" width="31" height="11" fill="#ff5c00"/>
<rect x="257" y="867" width="21" height="11" fill="#ff5800"/>
<rect x="277" y="867" width="11" height="11" fill="#ff5c00"/>
<rect x="287" y="867" width="11" height="11" fill="#ff6400"/>
<rect x="297" y="867" width="11" height="11" fill="#ff6c00"/>
<rect x="307" y="867" width="11" height="11" fill="#ff7800"/>
<rect x="317" y="867" width="11" height="11" fill="#ff8800"/>
<rect x="327" y="867" width="11" height="11" fill="#ff9400"/>
<rect x="337" y="867" width="11" height="11" fill="#ff9c00"/>
<rect x="347" y="867" width="11" height="11" fill="#ffa400"/>
<rect x="357" y="867" width="11" height="11" fill="#ffac00"/>
<rect x="367" y="867" width="11" height="11" fill="#ffb400"/>
<rect x="377" y="867" width="11" height="11" fill="#ffb800"/>
<rect x="387" y="867" width="21" height="11" fill="#ffbc00"/>
<rect x="407" y="867" width="81" height="11" fill="#ffc000"/>
<rect x="487" y="867" width="21" height="11" fill="#ffbc00"/>
<rect x="507" y="867" width="11" height="11" fill="#ffb800"/>
<rect x="517" y="867" width="11" height="11" fill="#ffb400"/>
<rect x="527" y="867" width="11" height="11" fill="#ffb000"/>
<rect x="537" y="867" width="21" height="11" fill="#ffa800"/>
<rect x="557" y="867" width="11" height="11" fill="#ffa400"/>
<rect x="567" y="867" width="11" height="11" fill="#ffa000"/>
<rect x="577" y="867" width="11" height="11" fill="#ff9c00"/>
<rect x="587" y="867" width="11" height="11" fill="#ff9800"/>
<rect x="597" y="867" width="11" height="11" fill="#ff9000"/>
<rect x="607" y="867" width="11" height="11" fill="#ff8c00"/>
<rect x="617" y="867" width="11" height="11" fill="#ff8400"/>
<rect x="627" y="867" width="11" height="11" fill="#ff7c00"/>
<rect x="637" y="867" width="31" height="11" fill="#ff7800"/>
<rect x="137" y="877" width="11" height="11" fill="#ff7000"/>
<rect x="147" y="877" width="31" height="11" fill="#ff6c00"/>
<rect x="177" y="877" width="21" height="11" fill="#ff6800"/>
<rect x="197" y="877" width="31" height="11" fill="#ff6400"/>
<rect x="227" y="877" width="31" height="11" fill="#ff6000"/>
<rect x="257" y="877" width="21" height="11" fill="#ff5c00"/>
<rect x="277" y="877" width="11" height="11" fill="#ff6000"/>
<rect x="287" y="877" width="11" height="11" fill="#ff6800"/>
<rect x="297" y="877" width="11" height="11" fill="#ff7400"/>
<rect x="307" y="877" width="11" height="11" fill="#ff8800"/>
<rect x="317" y="877" width="11" height="11" fill="#ff9800"/>
<rect x="327" y="877" width="11" height="11" fill="#ffa800"/>
<rect x="337" y="877" width="11" height="11" fill="#ffb400"/>
<rect x="347" y="877" width="11" height="11" fill="#ffbc00"/>
<rect x="357" y="877" width="11" height="11" fill="#ffc400"/>
<rect x="367" y="877" width="11" height="11" fill="#ffc800"/>
<rect x="377" y="877" width="41" height="11" fill="#ffcc00"/>
<rect x="417" y="877" width="31" height="11" fill="#ffd000"/>
<rect x="447" y="877" width="31" height="11" fill="#ffcc00"/>
<rect x="477" y="877" width="21" height="11" fill="#ffc800"/>
<rect x="497" y="877" width="11" height="11" fill="#ffc400"/>
<rect x="507" y="877" width="11" height="11" fill="#ffc000"/>
<rect x="517" y="877" width="11" height="11" fill="#ffb800"/>
<rect x="527" y="877" width="11" height="11" fill="#ffb400"/>
<rect x="537" y="877" width="11" height="11" fill="#ffac00"/>
<rect x="547" y="877" width="21" height="11" fill="#ffa800"/>
<rect x="567" y="877" width="11" height="11" fill="#ffa400"/>
<rect x="577" y="877" width="11" height="11" fill="#ffa000"/>
<rect x="587" y="877" width="11" height="11" fill="#ff9c00"/>
<rect x="597" y="877" width="11" height="11" fill="#ff9800"/>
<rect x="607" y="877" width="11" height="11" fill="#ff9400"/>
<rect x="617" y="877" width="11" height="11" fill="#ff8c00"/>
<rect x="627" y="877" width="11" height="11" fill="#ff8800"/>
<rect x="637" y="877" width="31" height="11" fill="#ff8000"/>
<rect x="137" y="887" width="31" height="11" fill="#ff7400"/>
<rect x="167" y="887" width="21" height="11" fill="#ff7000"/>
<rect x="187" y="887" width="21" height="11" fill="#ff6c00"/>
<rect x="207" y="887" width="21" height="11" fill="#ff6800"/>
<rect x="227" y="887" width="21" height="11" fill="#ff6400"/>
<rect x="247" y="887" width="31" height="11" fill="#ff6000"/>
<rect x="277" y="887" width="11" height="11" fill="#ff6400"/>
<rect x="287" y="887" width="11" height="11" fill="#ff6c00"/>
<rect x="297" y="887" width="11" height="11" fill="#ff7c00"/>
<rect x="307" y="887" width="11" height="11" fill="#ff8c00"/>
<rect x="317" y="887" width="11" height="11" fill="#ff9c00"/>
<rect x="327" y="887" width="11" height="11" fill="#ffac00"/>
<rect x="337" y="887" width="11" height="11" fill="#ffb400"/>
<rect x="347" y="887" width="11" height="11" fill="#ffbc00"/>
<rect x="357" y="887" width="11" height="11" fill="#ffc400"/>
<rect x="367" y="887" width="21" height="11" fill="#ffc800"/>
<rect x="387" y="887" width="91" height="11" fill="#ffcc00"/>
<rect x="477" y="887" width="21" height="11" fill="#ffc800"/>
<rect x="497" y="887" width="11" height="11" fill="#ffc400"/>
<rect x="507" y="887" width="11" height="11" fill="#ffc000"/>
<rect x="517" y="887" width="11" height="11" fill="#ffb800"/>
<rect x="527" y="887" width="11" height="11" fill="#ffb000"/>
<rect x="537" y="887" width="11" height="11" fill="#ffac00"/>
<rect x="547" y="887" width="21" height="11" fill="#ffa800"/>
<rect x="567" y="887" width="21" height="11" fill="#ffa400"/>
<rect x="587" y="887" width="11" height="11" fill="#ffa000"/>
<rect x="597" y="887" width="11" height="11" fill="#ff9c00"/>
<rect x="607" y="887" width="11" height="11" fill="#ff9800"/>
<rect x="617" y="887" width="11" height="11" fill="#ff9000"/>
<rect x="627" y="887" width="11" height="11" fill="#ff8c00"/>
<rect x="637" y="887" width="31" height="11" fill="#ff8800"/>
<rect x="137" y="897" width="11" height="11" fill="#ff8000"/>
<rect x="147" y="897" width="21" height="11" fill="#ff7c00"/>
<rect x="167" y="897" width="21" height="11" fill="#ff7800"/>
<rect x="187" y="897" width="21" height="11" fill="#ff7400"/>
<rect x="207" y="897" width="21" height="11" fill="#ff7000"/>
<rect x="227" y="897" width="21" height="11" fill="#ff6c00"/>
<rect x="247" y="897" width="21" height="11" fill="#ff6800"/>
<rect x="267" y="897" width="11" height="11" fill="#ff6400"/>
<rect x="277" y="897" width="11" height="11" fill="#ff6c00"/>
<rect x="287" y="897" width="11" height="11" fill="#ff7000"/>
<rect x="297" y="897" width="11" height="11" fill="#ff7c00"/>
<rect x="307" y="897" width="11" height="11" fill="#ff8800"/>
<rect x="317" y="897" width="11" height="11" fill="#ff9400"/>
<rect x="327" y="897" width="11" height="11" fill="#ff9c00"/>
<rect x="337" y="897" width="11" height="11" fill="#ffa400"/>
<rect x="347" y="897" width="11" height="11" fill="#ffac00"/>
<rect x="357" y="897" width="11" height="11" fill="#ffb400"/>
<rect x="367" y="897" width="11" height="11" fill="#ffb800"/>
<rect x="377" y="897" width="11" height="11" fill="#ffbc00"/>
<rect x="387" y="897" width="61" height="11" fill="#ffc000"/>
<rect x="447" y="897" width="31" height="11" fill="#ffbc00"/>
<rect x="477" y="897" width="21" height="11" fill="#ffb800"/>
<rect x="497" y="897" width="11" height="11" fill="#ffb400"/>
<rect x="507" y="897" width="11" height="11" fill="#ffb000"/>
<rect x="517" y="897" width="11" height="11" fill="#ffac00"/>
<rect x="527" y="897" width="11" height="11" fill="#ffa800"/>
<rect x="537" y="897" width="11" height="11" fill="#ffa400"/>
<rect x="547" y="897" width="21" height="11" fill="#ffa000"/>
<rect x="567" y="897" width="11" height="11" fill="#ff9c00"/>
<rect x="577" y="897" width="21" height="11" fill="#ff9800"/>
<rect x="597" y="897" width="11" height="11" fill="#ff9400"/>
<rect x="607" y="897" width="11" height="11" fill="#ff9000"/>
<rect x="617" y="897" width="11" height="11" fill="#ff8c00"/>
<rect x="627" y="897" width="11" height="11" fill="#ff8800"/>
<rect x="637" y="897" width="11" height="11" fill="#ff8400"/>
<rect x="647" y="897" width="21" height="11" fill="#ff8000"/>
<rect x="137" y="907" width="31" height="11" fill="#ff8800"/>
<rect x="167" y="907" width="21" height="11" fill="#ff8400"/>
<rect x="187" y="907" width="11" height="11" fill="#ff8000"/>
<rect x="197" y="907" width="21" height="11" fill="#ff7c00"/>
<rect x="217" y="907" width="21" height="11" fill="#ff7800"/>
<rect x="237" y="907" width="21" height="11" fill="#ff7400"/>
<rect x="257" y="907" width="21" height="11" fill="#ff7000"/>
<rect x="277" y="907" width="11" height="11" fill="#ff7400"/>
<rect x="287" y="907" width="11" height="11" fill="#ff7800"/>
<rect x="297" y="907" width="11" height="11" fill="#ff7c00"/>
<rect x="307" y="907" width="11" height="11" fill="#ff8000"/>
<rect x="317" y="907" width="11" height="11" fill="#ff8800"/>
<rect x="327" y="907" width="11" height="11" fill="#ff8c00"/>
<rect x="337" y="907" width="11" height="11" fill="#ff9400"/>
<rect x="347" y="907" width="11" height="11" fill="#ff9800"/>
<rect x="357" y="907" width="11" height="11" fill="#ff9c00"/>
<rect x="367" y="907" width="11" height="11" fill="#ffa000"/>
<rect x="377" y="907" width="11" height="11" fill="#ffa400"/>
<rect x="387" y="907" width="31" height="11" fill="#ffa800"/>
<rect x="417" y="907" width="41" height="11" fill="#ffa400"/>
<rect x="457" y="907" width="21" height="11" fill="#ffa000"/>
<rect x="477" y="907" width="21" height="11" fill="#ff9c00"/>
<rect x="497" y="907" width="21" height="11" fill="#ff9800"/>
<rect x="517" y="907" width="11" height="11" fill="#ff9400"/>
<rect x="527" y="907" width="11" height="11" fill="#ff9000"/>
<rect x="537" y="907" width="21" height="11" fill="#ff8c00"/>
<rect x="557" y="907" width="21" height="11" fill="#ff8800"/>
<rect x="577" y="907" width="11" height="11" fill="#ff8400"/>
<rect x="587" y="907" width="11" height="11" fill="#ff8000"/>
<rect x="597" y="907" width="21" height="11" fill="#ff7c00"/>
<rect x="617" y="907" width="11" height="11" fill="#ff7800"/>
<rect x="627" y="907" width="11" height="11" fill="#ff7400"/>
<rect x="637" y="907" width="31" height="11" fill="#ff7000"/>
<rect x="137" y="917" width="11" height="11" fill="#ff9800"/>
<rect x="147" y="917" width="21" height="11" fill="#ff9400"/>
<rect x="167" y="917" width="11" height="11" fill="#ff9000"/>
<rect x="177" y="917" width="21" height="11" fill="#ff8c00"/>
<rect x="197" y="917" width="21" height="11" fill="#ff8800"/>
<rect x="217" y="917" width="11" height="11" fill="#ff8400"/>
<rect x="227" y="917" width="21" height="11" fill="#ff8000"/>
<rect x="247" y="917" width="21" height="11" fill="#ff7c00"/>
<rect x="267" y="917" width="21" height="11" fill="#ff7800"/>
<rect x="287" y="917" width="21" height="11" fill="#ff7c00"/>
<rect x="307" y="917" width="21" height="11" fill="#ff8000"/>
<rect x="327" y="917" width="11" height="11" fill="#ff8400"/>
<rect x="337" y="917" width="21" height="11" fill="#ff8800"/>
<rect x="357" y="917" width="31" height="11" fill="#ff8c00"/>
<rect x="387" y="917" width="21" height="11" fill="#ff9000"/>
<rect x="407" y="917" width="31" height="11" fill="#ff8c00"/>
<rect x="437" y="917" width="21" height="11" fill="#ff8800"/>
<rect x="457" y="917" width="21" height="11" fill="#ff8400"/>
<rect x="477" y="917" width="21" height="11" fill="#ff8000"/>
<rect x="497" y="917" width="21" height="11" fill="#ff7c00"/>
<rect x="517" y="917" width="21" height="11" fill="#ff7800"/>
<rect x="537" y="917" width="21" height="11" fill="#ff7400"/>
<rect x="557" y="917" width="21" height="11" fill="#ff7000"/>
<rect x="577" y="917" width="21" height="11" fill="#ff6c00"/>
<rect x="597" y="917" width="11" height="11" fill="#ff6800"/>
<rect x="607" y="917" width="21" height="11" fill="#ff6400"/>
<rect x="627" y="917" width="41" height="11" fill="#ff6000"/>
<rect x="137" y="927" width="11" height="11" fill="#ffa400"/>
<rect x="147" y="927" width="21" height="11" fill="#ffa000"/>
<rect x="167" y="927" width="11" height="11" fill="#ff9c00"/>
<rect x="177" y="927" width="21" height="11" fill="#ff9800"/>
<rect x="197" y="927" width="11" height="11" fill="#ff9400"/>
<rect x="207" y="927" width="21" height="11" fill="#ff9000"/>
<rect x="227" y="927" width="11" height="11" fill="#ff8c00"/>
<rect x="237" y="927" width="21" height="11" fill="#ff8800"/>
<rect x="257" y="927" width="11" height="11" fill="#ff8400"/>
<rect x="267" y="927" width="131" height="11" fill="#ff8000"/>
<rect x="397" y="927" width="21" height="11" fill="#ff7c00"/>
<rect x="417" y="927" width="11" height="11" fill="#ff7800"/>
<rect x="427" y="927" width="21" height="11" fill="#ff7400"/>
<rect x="447" y="927" width="21" height="11" fill="#ff7000"/>
<rect x="467" y="927" width="11" height="11" fill="#ff6c00"/>
<rect x="477" y="927" width="21" height="11" fill="#ff6800"/>
<rect x="497" y="927" width="11" height="11" fill="#ff6400"/>
<rect x="507" y="927" width="21" height="11" fill="#ff6000"/>
<rect x="527" y="927" width="31" height="11" fill="#ff5c00"/>
<rect x="557" y="927" width="21" height="11" fill="#ff5800"/>
<rect x="577" y="927" width="31" height="11" fill="#ff5400"/>
<rect x="607" y="927" width="31" height="11" fill="#ff5000"/>
<rect x="637" y="927" width="31" height="11" fill="#ff4c00"/>
<rect x="137" y="937" width="21" height="11" fill="#ffb000"/>
<rect x="157" y="937" width="11" height="11" fill="#ffac00"/>
<rect x="167" y="937" width="11" height="11" fill="#ffa800"/>
<rect x="177" y="937" width="21" height="11" fill="#ffa400"/>
<rect x="197" y="937" width="11" height="11" fill="#ffa000"/>
<rect x="207" y="937" width="11" height="11" fill="#ff9c00"/>
<rect x="217" y="937" width="21" height="11" fill="#ff9800"/>
<rect x="237" y="937" width="11" height="11" fill="#ff9400"/>
<rect x="247" y="937" width="11" height="11" fill="#ff9000"/>
<rect x="257" y="937" width="21" height="11" fill="#ff8c00"/>
<rect x="277" y="937" width="21" height="11" fill="#ff8800"/>
<rect x="297" y="937" width="21" height="11" fill="#ff8400"/>
<rect x="317" y="937" width="11" height="11" fill="#ff8000"/>
<rect x="327" y="937" width="21" height="11" fill="#ff7c00"/>
<rect x="347" y="937" width="21" height="11" fill="#ff7800"/>
<rect x="367" y="937" width="21" height="11" fill="#ff7400"/>
<rect x="387" y="937" width="11" height="11" fill="#ff7000"/>
<rect x="397" y="937" width="21" height="11" fill="#ff6c00"/>
<rect x="417" y="937" width="11" height="11" fill="#ff6800"/>
<rect x="427" y="937" width="11" height="11" fill="#ff6400"/>
<rect x="437" y="937" width="11" height="11" fill="#ff6000"/>
<rect x="447" y="937" width="21" height="11" fill="#ff5c00"/>
<rect x="467" y="937" width="11" height="11" fill="#ff5800"/>
<rect x="477" y="937" width="11" height="11" fill="#ff5400"/>
<rect x="487" y="937" width="11" height="11" fill="#ff5000"/>
<rect x="497" y="937" width="21" height="11" fill="#ff4c00"/>
<rect x="517" y="937" width="21" height="11" fill="#ff4800"/>
<rect x="537" y="937" width="41" height="11" fill="#ff4400"/>
<rect x="577" y="937" width="51" height="11" fill="#ff4000"/>
<rect x="627" y="937" width="41" height="11" fill="#ff3c00"/>
<rect x="137" y="947" width="11" height="11" fill="#ffc000"/>
<rect x="147" y="947" width="11" height="11" fill="#ffbc00"/>
<rect x="157" y="947" width="21" height="11" fill="#ffb800"/>
<rect x="177" y="947" width="11" height="11" fill="#ffb400"/>
<rect x="187" y="947" width="11" height="11" fill="#ffb000"/>
<rect x="197" y="947" width="11" height="11" fill="#ffac00"/>
<rect x="207" y="947" width="11" height="11" fill="#ffa800"/>
<rect x="217" y="947" width="21" height="11" fill="#ffa400"/>
<rect x="237" y="947" width="11" height="11" fill="#ffa000"/>
<rect x="247" y="947" width="11" height="11" fill="#ff9c00"/>
<rect x="257" y="947" width="11" height="11" fill="#ff9800"/>
<rect x="267" y="947" width="21" height="11" fill="#ff9400"/>
<rect x="287" y="947" width="11" height="11" fill="#ff9000"/>
<rect x="297" y="947" width="11" height="11" fill="#ff8c00"/>
<rect x="307" y="947" width="11" height="11" fill="#ff8800"/>
<rect x="317" y="947" width="11" height="11" fill="#ff8400"/>
<rect x="327" y="947" width="11" height="11" fill="#ff8000"/>
<rect x="337" y="947" width="11" height="11" fill="#ff7c00"/>
<rect x="347" y="947" width="11" height="11" fill="#ff7800"/>
<rect x="357" y="947" width="11" height="11" fill="#ff7400"/>
<rect x="367" y="947" width="21" height="11" fill="#ff7000"/>
<rect x="387" y="947" width="11" height="11" fill="#ff6c00"/>
<rect x="397" y="947" width="11" height="11" fill="#ff6800"/>
<rect x="407" y="947" width="11" height="11" fill="#ff6400"/>
<rect x="417" y="947" width="11" height="11" fill="#ff6000"/>
<rect x="427" y="947" width="11" height="11" fill="#ff5c00"/>
<rect x="437" y="947" width="11" height="11" fill="#ff5800"/>
<rect x="447" y="947" width="11" height="11" fill="#ff5400"/>
<rect x="457" y="947" width="11" height="11" fill="#ff5000"/>
<rect x="467" y="947" width="11" height="11" fill="#ff4c00"/>
<rect x="477" y="947" width="11" height="11" fill="#ff4800"/>
<rect x="487" y="947" width="21" height="11" fill="#ff4400"/>
<rect x="507" y="947" width="11" height="11" fill="#ff4000"/>
<rect x="517" y="947" width="21" height="11" fill="#ff3c00"/>
<rect x="537" y="947" width="71" height="11" fill="#ff3800"/>
<rect x="607" y="947" width="61" height="11" fill="#ff3400"/>
<rect x="137" y="957" width="11" height="11" fill="#ffd000"/>
<rect x="147" y="957" width="11" height="11" fill="#ffcc00"/>
<rect x="157" y="957" width="11" height="11" fill="#ffc800"/>
<rect x="167" y="957" width="11" height="11" fill="#ffc400"/>
<rect x="177" y="957" width="11" height="11" fill="#ffc000"/>
<rect x="187" y="957" width="11" height="11" fill="#ffbc00"/>
<rect x="197" y="957" width="11" height="11" fill="#ffb800"/>
<rect x="207" y="957" width="21" height="11" fill="#ffb400"/>
<rect x="227" y="957" width="11" height="11" fill="#ffb000"/>
<rect x="237" y="957" width="11" height="11" fill="#ffac00"/>
<rect x="247" y="957" width="11" height="11" fill="#ffa800"/>
<rect x="257" y="957" width="11" height="11" fill="#ffa400"/>
<rect x="267" y="957" width="11" height="11" fill="#ffa000"/>
<rect x="277" y="957" width="11" height="11" fill="#ff9c00"/>
<rect x="287" y="957" width="11" height="11" fill="#ff9800"/>
<rect x="297" y="957" width="11" height="11" fill="#ff9400"/>
<rect x="307" y="957" width="11" height="11" fill="#ff9000"/>
<rect x="317" y="957" width="11" height="11" fill="#ff8c00"/>
<rect x="327" y="957" width="11" height="11" fill="#ff8800"/>
<rect x="337" y="957" width="11" height="11" fill="#ff8400"/>
<rect x="347" y="957" width="11" height="11" fill="#ff8000"/>
<rect x="357" y="957" width="11" height="11" fill="#ff7c00"/>
<rect x="367" y="957" width="11" height="11" fill="#ff7400"/>
<rect x="377" y="957" width="11" height="11" fill="#ff7000"/>
<rect x="387" y="957" width="11" height="11" fill="#ff6c00"/>
<rect x="397" y="957" width="11" height="11" fill="#ff6800"/>
<rect x="407" y="957" width="11" height="11" fill="#ff6400"/>
<rect x="417" y="957" width="11" height="11" fill="#ff6000"/>
<rect x="427" y="957" width="11" height="11" fill="#ff5c00"/>
<rect x="437" y="957" width="11" height="11" fill="#ff5800"/>
<rect x="447" y="957" width="11" height="11" fill="#ff5400"/>
<rect x="457" y="957" width="11" height="11" fill="#ff5000"/>
<rect x="467" y="957" width="11" height="11" fill="#ff4c00"/>
<rect x="477" y="957" width="11" height="11" fill="#ff4800"/>
<rect x="487" y="957" width="11" height="11" fill="#ff4400"/>
<rect x="497" y="957" width="11" height="11" fill="#ff4000"/>
<rect x="507" y="957" width="11" height="11" fill="#ff3c00"/>
<rect x="517" y="957" width="81" height="11" fill="#ff3800"/>
<rect x="597" y="957" width="71" height="11" fill="#ff3400"/>
<rect x="137" y="967" width="21" height="11" fill="#ffe000"/>
<rect x="157" y="967" width="11" height="11" fill="#ffdc00"/>
<rect x="167" y="967" width="11" height="11" fill="#ffd800"/>
<rect x="177" y="967" width="11" height="11" fill="#ffd400"/>
<rect x="187" y="967" width="11" height="11" fill="#ffd000"/>
<rect x="197" y="967" width="11" height="11" fill="#ffc800"/>
<rect x="207" y="967" width="11" height="11" fill="#ffc400"/>
<rect x="217" y="967" width="11" height="11" fill="#ffc000"/>
<rect x="227" y="967" width="11" height="11" fill="#ffbc00"/>
<rect x="237" y="967" width="11" height="11" fill="#ffb800"/>
<rect x="247" y="967" width="11" height="11" fill="#ffb400"/>
<rect x="257" y="967" width="21" height="11" fill="#ffb000"/>
<rect x="277" y="967" width="11" height="11" fill="#ffa800"/>
<rect x="287" y="967" width="11" height="11" fill="#ffa400"/>
<rect x="297" y="967" width="11" height="11" fill="#ff9c00"/>
<rect x="307" y="967" width="11" height="11" fill="#ff9800"/>
<rect x="317" y="967" width="11" height="11" fill="#ff9400"/>
<rect x="327" y="967" width="11" height="11" fill="#ff9000"/>
<rect x="337" y="967" width="11" height="11" fill="#ff8800"/>
<rect x="347" y="967" width="11" height="11" fill="#ff8400"/>
<rect x="357" y="967" width="11" height="11" fill="#ff8000"/>
<rect x="367" y="967" width="11" height="11" fill="#ff7800"/>
<rect x="377" y="967" width="11" height="11" fill="#ff7400"/>
<rect x="387" y="967" width="11" height="11" fill="#ff7000"/>
<rect x="397" y="967" width="11" height="11" fill="#ff6c00"/>
<rect x="407" y="967" width="11" height="11" fill="#ff6800"/>
<rect x="417" y="967" width="11" height="11" fill="#ff6400"/>
<rect x="427" y="967" width="11" height="11" fill="#ff6000"/>
<rect x="437" y="967" width="11" height="11" fill="#ff5c00"/>
<rect x="447" y="967" width="11" height="11" fill="#ff5400"/>
<rect x="457" y="967" width="11" height="11" fill="#ff5000"/>
<rect x="467" y="967" width="11" height="11" fill="#ff4c00"/>
<rect x="477" y="967" width="11" height="11" fill="#ff4800"/>
<rect x="487" y="967" width="11" height="11" fill="#ff4400"/>
<rect x="497" y="967" width="11" height="11" fill="#ff4000"/>
<rect x="507" y="967" width="11" height="11" fill="#ff3c00"/>
<rect x="517" y="967" width="71" height="11" fill="#ff3800"/>
<rect x="587" y="967" width="81" height="11" fill="#ff3400"/>
<rect x="137" y="977" width="21" height="11" fill="#f8f000"/>
<rect x="157" y="977" width="11" height="11" fill="#fcf000"/>
<rect x="167" y="977" width="11" height="11" fill="#fcec00"/>
<rect x="177" y="977" width="11" height="11" fill="#ffe800"/>
<rect x="187" y="977" width="11" height="11" fill="#ffe400"/>
<rect x="197" y="977" width="11" height="11" fill="#ffe000"/>
<rect x="207" y="977" width="11" height="11" fill="#ffd800"/>
<rect x="217" y="977" width="11" height="11" fill="#ffd400"/>
<rect x="227" y="977" width="11" height="11" fill="#ffd000"/>
<rect x="237" y="977" width="11" height="11" fill="#ffcc00"/>
<rect x="247" y="977" width="11" height="11" fill="#ffc800"/>
<rect x="257" y="977" width="11" height="11" fill="#ffc000"/>
<rect x="267" y="977" width="11" height="11" fill="#ffbc00"/>
<rect x="277" y="977" width="11" height="11" fill="#ffb400"/>
<rect x="287" y="977" width="11" height="11" fill="#ffb000"/>
<rect x="297" y="977" width="11" height="11" fill="#ffa800"/>
<rect x="307" y="977" width="11" height="11" fill="#ffa000"/>
<rect x="317" y="977" width="11" height="11" fill="#ff9c00"/>
<rect x="327" y="977" width="11" height="11" fill="#ff9400"/>
<rect x="337" y="977" width="11" height="11" fill="#ff9000"/>
<rect x="347" y="977" width="11" height="11" fill="#ff8800"/>
<rect x="357" y="977" width="11" height="11" fill="#ff8400"/>
<rect x="367" y="977" width="11" height="11" fill="#ff8000"/>
<rect x="377" y="977" width="11" height="11" fill="#ff7800"/>
<rect x="387" y="977" width="11" height="11" fill="#ff7400"/>
<rect x="397" y="977" width="11" height="11" fill="#ff6c00"/>
<rect x="407" y="977" width="11" height="11" fill="#ff6800"/>
<rect x="417" y="977" width="11" height="11" fill="#ff6400"/>
<rect x="427" y="977" width="11" height="11" fill="#ff6000"/>
<rect x="437" y="977" width="11" height="11" fill="#ff5c00"/>
<rect x="447" y="977" width="11" height="11" fill="#ff5800"/>
<rect x="457" y="977" width="11" height="11" fill="#ff5000"/>
<rect x="467" y="977" width="11" height="11" fill="#ff4c00"/>
<rect x="477" y="977" width="11" height="11" fill="#ff4800"/>
<rect x="487" y="977" width="11" height="11" fill="#ff4400"/>
<rect x="497" y="977" width="11" height="11" fill="#ff4000"/>
<rect x="507" y="977" width="11" height="11" fill="#ff3c00"/>
<rect x="517" y="977" width="21" height="11" fill="#ff3800"/>
<rect x="537" y="977" width="131" height="11" fill="#ff3400"/>
<rect x="137" y="987" width="11" height="11" fill="#c4ff00"/>
<rect x="147" y="987" width="11" height="11" fill="#c0ff00"/>
<rect x="157" y="987" width="11" height="11" fill="#c8ff00"/>
<rect x="167" y="987" width="11" height="11" fill="#d0ff00"/>
<rect x="177" y="987" width="11" height="11" fill="#d8ff00"/>
<rect x="187" y="987" width="11" height="11" fill="#e0fc00"/>
<rect x="197" y="987" width="11" height="11" fill="#e8fc00"/>
<rect x="207" y="987" width="11" height="11" fill="#f0fc00"/>
<rect x="217" y="987" width="11" height="11" fill="#f4f800"/>
<rect x="227" y="987" width="11" height="11" fill="#f8f400"/>
<rect x="237" y="987" width="11" height="11" fill="#fcec00"/>
<rect x="247" y="987" width="11" height="11" fill="#ffe400"/>
<rect x="257" y="987" width="11" height="11" fill="#ffdc00"/>
<rect x="267" y="987" width="11" height="11" fill="#ffd400"/>
<rect x="277" y="987" width="11" height="11" fill="#ffcc00"/>
<rect x="287" y="987" width="11" height="11" fill="#ffc000"/>
<rect x="297" y="987" width="11" height="11" fill="#ffb800"/>
<rect x="307" y="987" width="11" height="11" fill="#ffb000"/>
<rect x="317" y="987" width="11" height="11" fill="#ffa800"/>
<rect x="327" y="987" width="11" height="11" fill="#ffa000"/>
<rect x="337" y="987" width="11" height="11" fill="#ff9800"/>
<rect x="347" y="987" width="11" height="11" fill="#ff9000"/>
<rect x="357" y="987" width="11" height="11" fill="#ff8800"/>
<rect x="367" y="987" width="11" height="11" fill="#ff8400"/>
<rect x="377" y="987" width="11" height="11" fill="#ff7c00"/>
<rect x="387" y="987" width="11" height="11" fill="#ff7400"/>
<rect x="397" y="987" width="11" height="11" fill="#ff7000"/>
<rect x="407" y="987" width="11" height="11" fill="#ff6c00"/>
<rect x="417" y="987" width="11" height="11" fill="#ff6400"/>
<rect x="427" y="987" width="11" height="11" fill="#ff6000"/>
<rect x="437" y="987" width="11" height="11" fill="#ff5c00"/>
<rect x="447" y="987" width="11" height="11" fill="#ff5800"/>
<rect x="457" y="987" width="11" height="11" fill="#ff5400"/>
<rect x="467" y="987" width="11" height="11" fill="#ff4c00"/>
<rect x="477" y="987" width="11" height="11" fill="#ff4800"/>
<rect x="487" y="987" width="11" height="11" fill="#ff4400"/>
<rect x="497" y="987" width="11" height="11" fill="#ff4000"/>
<rect x="507" y="987" width="11" height="11" fill="#ff3800"/>
<rect x="517" y="987" width="151" height="11" fill="#ff3400"/>
<rect x="137" y="997" width="11" height="11" fill="#48ff00"/>
<rect x="147" y="997" width="11" height="11" fill="#30ff00"/>
<rect x="157" y="997" width="11" height="11" fill="#2cff00"/>
<rect x="167" y="997" width="11" height="11" fill="#34ff00"/>
<rect x="177" y="997" width="11" height="11" fill="#3cff00"/>
<rect x="187" y="997" width="11" height="11" fill="#44ff00"/>
<rect x="197" y="997" width="11" height="11" fill="#50ff00"/>
<rect x="207" y="997" width="11" height="11" fill="#58ff00"/>
<rect x="217" y="997" width="11" height="11" fill="#60ff00"/>
<rect x="227" y="997" width="11" height="11" fill="#70ff00"/>
<rect x="237" y="997" width="11" height="11" fill="#80ff00"/>
<rect x="247" y="997" width="11" height="11" fill="#98ff00"/>
<rect x="257" y="997" width="11" height="11" fill="#b0ff00"/>
<rect x="267" y="997" width="11" height="11" fill="#ccff00"/>
<rect x="277" y="997" width="11" height="11" fill="#e8fc00"/>
<rect x="287" y="997" width="11" height="11" fill="#f8f400"/>
<rect x="297" y="997" width="11" height="11" fill="#ffe000"/>
<rect x="307" y="997" width="11" height="11" fill="#ffcc00"/>
<rect x="317" y="997" width="11" height="11" fill="#ffbc00"/>
<rect x="327" y="997" width="11" height="11" fill="#ffb000"/>
<rect x="337" y="997" width="11" height="11" fill="#ffa800"/>
<rect x="347" y="997" width="11" height="11" fill="#ffa000"/>
<rect x="357" y="997" width="11" height="11" fill="#ff9400"/>
<rect x="367" y="997" width="11" height="11" fill="#ff8c00"/>
<rect x="377" y="997" width="11" height="11" fill="#ff8400"/>
<rect x="387" y="997" width="11" height="11" fill="#ff7c00"/>
<rect x="397" y="997" width="11" height="11" fill="#ff7400"/>
<rect x="407" y="997" width="11" height="11" fill="#ff6c00"/>
<rect x="417" y="997" width="11" height="11" fill="#ff6400"/>
<rect x="427" y="997" width="11" height="11" fill="#ff6000"/>
<rect x="437" y="997" width="11" height="11" fill="#ff5c00"/>
<rect x="447" y="997" width="11" height="11" fill="#ff5800"/>
<rect x="457" y="997" width="11" height="11" fill="#ff5000"/>
<rect x="467" y="997" width="11" height="11" fill="#ff4c00"/>
<rect x="477" y="997" width="11" height="11" fill="#ff4800"/>
<rect x="487" y="997" width="11" height="11" fill="#ff4400"/>
<rect x="497" y="997" width="11" height="11" fill="#ff3c00"/>
<rect x="507" y="997" width="11" height="11" fill="#ff3800"/>
<rect x="517" y="997" width="151" height="11" fill="#ff3400"/>
<rect x="137" y="1007" width="11" height="11" fill="#2cff00"/>
<rect x="147" y="1007" width="11" height="11" fill="#14fc04"/>
<rect x="157" y="1007" width="41" height="11" fill="#0cf808"/>
<rect x="197" y="1007" width="11" height="11" fill="#0cf40c"/>
<rect x="207" y="1007" width="11" height="11" fill="#08f410"/>
<rect x="217" y="1007" width="11" height="11" fill="#10f41c"/>
<rect x="227" y="1007" width="11" height="11" fill="#14f424"/>
<rect x="237" y="1007" width="21" height="11" fill="#18f428"/>
<rect x="257" y="1007" width="11" height="11" fill="#1cf824"/>
<rect x="267" y="1007" width="11" height="11" fill="#1cf81c"/>
<rect x="277" y="1007" width="11" height="11" fill="#24ff08"/>
<rect x="287" y="1007" width="11" height="11" fill="#48ff00"/>
<rect x="297" y="1007" width="11" height="11" fill="#7cff00"/>
<rect x="307" y="1007" width="11" height="11" fill="#ccff00"/>
<rect x="317" y="1007" width="11" height="11" fill="#fcec00"/>
<rect x="327" y="1007" width="11" height="11" fill="#ffd000"/>
<rect x="337" y="1007" width="11" height="11" fill="#ffc400"/>
<rect x="347" y="1007" width="11" height="11" fill="#ffb800"/>
<rect x="357" y="1007" width="11" height="11" fill="#ffac00"/>
<rect x="367" y="1007" width="11" height="11" fill="#ffa000"/>
<rect x="377" y="1007" width="11" height="11" fill="#ff9400"/>
<rect x="387" y="1007" width="11" height="11" fill="#ff8400"/>
<rect x="397" y="1007" width="11" height="11" fill="#ff7800"/>
<rect x="407" y="1007" width="11" height="11" fill="#ff6c00"/>
<rect x="417" y="1007" width="11" height="11" fill="#ff6400"/>
<rect x="427" y="1007" width="11" height="11" fill="#ff6000"/>
<rect x="437" y="1007" width="11" height="11" fill="#ff5c00"/>
<rect x="447" y="1007" width="11" height="11" fill="#ff5400"/>
<rect x="457" y="1007" width="11" height="11" fill="#ff5000"/>
<rect x="467" y="1007" width="11" height="11" fill="#ff4c00"/>
<rect x="477" y="1007" width="11" height="11" fill="#ff4800"/>
<rect x="487" y="1007" width="11" height="11" fill="#ff4400"/>
<rect x="497" y="1007" width="11" height="11" fill="#ff4000"/>
<rect x="507" y="1007" width="11" height="11" fill="#ff3800"/>
<rect x="517" y="1007" width="91" height="11" fill="#ff3400"/>
<rect x="607" y="1007" width="61" height="11" fill="#ff3800"/>
<rect x="137" y="1017" width="11" height="11" fill="#28ff00"/>
<rect x="147" y="1017" width="11" height="11" fill="#14f808"/>
<rect x="157" y="1017" width="41" height="11" fill="#08f40c"/>
<rect x="197" y="1017" width="11" height="11" fill="#04f010"/>
<rect x="207" y="1017" width="11" height="11" fill="#08f018"/>
<rect x="217" y="1017" width="11" height="11" fill="#20f440"/>
<rect x="227" y="1017" width="11" height="11" fill="#2cf450"/>
<rect x="237" y="1017" width="11" height="11" fill="#30f450"/>
<rect x="247" y="1017" width="11" height="11" fill="#30f454"/>
<rect x="257" y="1017" width="11" height="11" fill="#2cf450"/>
<rect x="267" y="1017" width="11" height="11" fill="#28f448"/>
<rect x="277" y="1017" width="11" height="11" fill="#18f42c"/>
<rect x="287" y="1017" width="11" height="11" fill="#14f808"/>
<rect x="297" y="1017" width="11" height="11" fill="#24ff00"/>
<rect x="307" y="1017" width="11" height="11" fill="#68ff00"/>
<rect x="317" y="1017" width="11" height="11" fill="#d8ff00"/>
<rect x="327" y="1017" width="11" height="11" fill="#ffe800"/>
<rect x="337" y="1017" width="11" height="11" fill="#ffd400"/>
<rect x="347" y="1017" width="11" height="11" fill="#ffc800"/>
<rect x="357" y="1017" width="11" height="11" fill="#ffbc00"/>
<rect x="367" y="1017" width="11" height="11" fill="#ffac00"/>
<rect x="377" y="1017" width="11" height="11" fill="#ff9c00"/>
<rect x="387" y="1017" width="11" height="11" fill="#ff8800"/>
<rect x="397" y="1017" width="11" height="11" fill="#ff7800"/>
<rect x="407" y="1017" width="11" height="11" fill="#ff6c00"/>
<rect x="417" y="1017" width="11" height="11" fill="#ff6400"/>
<rect x="427" y="1017" width="11" height="11" fill="#ff5c00"/>
<rect x="437" y="1017" width="11" height="11" fill="#ff5800"/>
<rect x="447" y="1017" width="11" height="11" fill="#ff5400"/>
<rect x="457" y="1017" width="11" height="11" fill="#ff5000"/>
<rect x="467" y="1017" width="11" height="11" fill="#ff4c00"/>
<rect x="477" y="1017" width="11" height="11" fill="#ff4800"/>
<rect x="487" y="1017" width="11" height="11" fill="#ff4400"/>
<rect x="497" y="1017" width="11" height="11" fill="#ff4000"/>
<rect x="507" y="1017" width="11" height="11" fill="#ff3c00"/>
<rect x="517" y="1017" width="151" height="11" fill="#ff3800"/>
<rect x="137" y="1027" width="11" height="11" fill="#28ff00"/>
<rect x="147" y="1027" width="11" height="11" fill="#14f804"/>
<rect x="157" y="1027" width="21" height="11" fill="#0cf408"/>
<rect x="177" y="1027" width="31" height="11" fill="#0cf808"/>
<rect x="207" y="1027" width="11" height="11" fill="#0cf408"/>
<rect x="217" y="1027" width="11" height="11" fill="#0cf40c"/>
<rect x="227" y="1027" width="21" height="11" fill="#10f80c"/>
<rect x="247" y="1027" width="11" height="11" fill="#14f808"/>
<rect x="257" y="1027" width="11" height="11" fill="#1cfc08"/>
<rect x="267" y="1027" width="11" height="11" fill="#28ff00"/>
<rect x="277" y="1027" width="11" height="11" fill="#40ff00"/>
<rect x="287" y="1027" width="11" height="11" fill="#68ff00"/>
<rect x="297" y="1027" width="11" height="11" fill="#9cff00"/>
<rect x="307" y="1027" width="11" height="11" fill="#e4fc00"/>
<rect x="317" y="1027" width="11" height="11" fill="#ffe800"/>
<rect x="327" y="1027" width="11" height="11" fill="#ffd000"/>
<rect x="337" y="1027" width="11" height="11" fill="#ffc000"/>
<rect x="347" y="1027" width="11" height="11" fill="#ffb400"/>
<rect x="357" y="1027" width="11" height="11" fill="#ffa800"/>
<rect x="367" y="1027" width="11" height="11" fill="#ff9c00"/>
<rect x="377" y="1027" width="11" height="11" fill="#ff8c00"/>
<rect x="387" y="1027" width="11" height="11" fill="#ff8000"/>
<rect x="397" y="1027" width="11" height="11" fill="#ff7000"/>
<rect x="407" y="1027" width="11" height="11" fill="#ff6800"/>
<rect x="417" y="1027" width="11" height="11" fill="#ff6000"/>
<rect x="427" y="1027" width="11" height="11" fill="#ff5c00"/>
<rect x="437" y="1027" width="11" height="11" fill="#ff5800"/>
<rect x="447" y="1027" width="11" height="11" fill="#ff5400"/>
<rect x="457" y="1027" width="11" height="11" fill="#ff5000"/>
<rect x="467" y="1027" width="11" height="11" fill="#ff4c00"/>
<rect x="477" y="1027" width="11" height="11" fill="#ff4800"/>
<rect x="487" y="1027" width="11" height="11" fill="#ff4400"/>
<rect x="497" y="1027" width="11" height="11" fill="#ff4000"/>
<rect x="507" y="1027" width="11" height="11" fill="#ff3c00"/>
<rect x="517" y="1027" width="151" height="11" fill="#ff3800"/>
<rect x="137" y="1037" width="11" height="11" fill="#34ff00"/>
<rect x="147" y="1037" width="11" height="11" fill="#1cfc00"/>
<rect x="157" y="1037" width="31" height="11" fill="#18fc04"/>
<rect x="187" y="1037" width="11" height="11" fill="#1cfc00"/>
<rect x="197" y="1037" width="11" height="11" fill="#24ff00"/>
<rect x="207" y="1037" width="11" height="11" fill="#34ff00"/>
<rect x="217" y="1037" width="11" height="11" fill="#4cff00"/>
<rect x="227" y="1037" width="11" height="11" fill="#6cff00"/>
<rect x="237" y="1037" width="11" height="11" fill="#8cff00"/>
<rect x="247" y="1037" width="11" height="11" fill="#a8ff00"/>
<rect x="257" y="1037" width="11" height="11" fill="#c4ff00"/>
<rect x="267" y="1037" width="11" height="11" fill="#dcff00"/>
<rect x="277" y="1037" width="11" height="11" fill="#f4fc00"/>
<rect x="287" y="1037" width="11" height="11" fill="#fcec00"/>
<rect x="297" y="1037" width="11" height="11" fill="#ffd800"/>
<rect x="307" y="1037" width="11" height="11" fill="#ffc800"/>
<rect x="317" y="1037" width="11" height="11" fill="#ffb800"/>
<rect x="327" y="1037" width="11" height="11" fill="#ffac00"/>
<rect x="337" y="1037" width="11" height="11" fill="#ffa400"/>
<rect x="347" y="1037" width="11" height="11" fill="#ff9800"/>
<rect x="357" y="1037" width="11" height="11" fill="#ff8c00"/>
<rect x="367" y="1037" width="11" height="11" fill="#ff8400"/>
<rect x="377" y="1037" width="11" height="11" fill="#ff7800"/>
<rect x="387" y="1037" width="11" height="11" fill="#ff7000"/>
<rect x="397" y="1037" width="11" height="11" fill="#ff6800"/>
<rect x="407" y="1037" width="11" height="11" fill="#ff6400"/>
<rect x="417" y="1037" width="11" height="11" fill="#ff6000"/>
<rect x="427" y="1037" width="11" height="11" fill="#ff5c00"/>
<rect x="437" y="1037" width="11" height="11" fill="#ff5800"/>
<rect x="447" y="1037" width="11" height="11" fill="#ff5400"/>
<rect x="457" y="1037" width="11" height="11" fill="#ff5000"/>
<rect x="467" y="1037" width="11" height="11" fill="#ff4c00"/>
<rect x="477" y="1037" width="11" height="11" fill="#ff4800"/>
<rect x="487" y="1037" width="11" height="11" fill="#ff4400"/>
<rect x="497" y="1037" width="11" height="11" fill="#ff4000"/>
<rect x="507" y="1037" width="11" height="11" fill="#ff3c00"/>
<rect x="517" y="1037" width="91" height="11" fill="#ff3800"/>
<rect x="607" y="1037" width="61" height="11" fill="#ff3c00"/>
<rect x="137" y="1047" width="11" height="11" fill="#40ff00"/>
<rect x="147" y="1047" width="11" height="11" fill="#2cff00"/>
<rect x="157" y="1047" width="11" height="11" fill="#34ff00"/>
<rect x="167" y="1047" width="11" height="11" fill="#48ff00"/>
<rect x="177" y="1047" width="11" height="11" fill="#64ff00"/>
<rect x="187" y="1047" width="11" height="11" fill="#84ff00"/>
<rect x="197" y="1047" width="11" height="11" fill="#a8ff00"/>
<rect x="207" y="1047" width="11" height="11" fill="#c8ff00"/>
<rect x="217" y="1047" width="11" height="11" fill="#e0fc00"/>
<rect x="227" y="1047" width="11" height="11" fill="#f4fc00"/>
<rect x="237" y="1047" width="11" height="11" fill="#f8f400"/>
<rect x="247" y="1047" width="11" height="11" fill="#fcec00"/>
<rect x="257" y="1047" width="11" height="11" fill="#ffe400"/>
<rect x="267" y="1047" width="11" height="11" fill="#ffd800"/>
<rect x="277" y="1047" width="11" height="11" fill="#ffd000"/>
<rect x="287" y="1047" width="11" height="11" fill="#ffc400"/>
<rect x="297" y="1047" width="11" height="11" fill="#ffb800"/>
<rect x="307" y="1047" width="11" height="11" fill="#ffb000"/>
<rect x="317" y="1047" width="11" height="11" fill="#ffa400"/>
<rect x="327" y="1047" width="11" height="11" fill="#ff9c00"/>
<rect x="337" y="1047" width="11" height="11" fill="#ff9400"/>
<rect x="347" y="1047" width="11" height="11" fill="#ff8c00"/>
<rect x="357" y="1047" width="11" height="11" fill="#ff8400"/>
<rect x="367" y="1047" width="11" height="11" fill="#ff7c00"/>
<rect x="377" y="1047" width="11" height="11" fill="#ff7400"/>
<rect x="387" y="1047" width="11" height="11" fill="#ff7000"/>
<rect x="397" y="1047" width="11" height="11" fill="#ff6800"/>
<rect x="407" y="1047" width="11" height="11" fill="#ff6400"/>
<rect x="417" y="1047" width="11" height="11" fill="#ff6000"/>
<rect x="427" y="1047" width="11" height="11" fill="#ff5c00"/>
<rect x="437" y="1047" width="11" height="11" fill="#ff5800"/>
<rect x="447" y="1047" width="11" height="11" fill="#ff5400"/>
<rect x="457" y="1047" width="21" height="11" fill="#ff5000"/>
<rect x="477" y="1047" width="11" height="11" fill="#ff4c00"/>
<rect x="487" y="1047" width="11" height="11" fill="#ff4800"/>
<rect x="497" y="1047" width="11" height="11" fill="#ff4400"/>
<rect x="507" y="1047" width="11" height="11" fill="#ff4000"/>
<rect x="517" y="1047" width="101" height="11" fill="#ff3c00"/>
<rect x="617" y="1047" width="51" height="11" fill="#ff4000"/>
<rect x="137" y="1057" width="21" height="11" fill="#94ff00"/>
<rect x="157" y="1057" width="11" height="11" fill="#b8ff00"/>
<rect x="167" y="1057" width="11" height="11" fill="#d4ff00"/>
<rect x="177" y="1057" width="11" height="11" fill="#e8fc00"/>
<rect x="187" y="1057" width="11" height="11" fill="#f4fc00"/>
<rect x="197" y="1057" width="11" height="11" fill="#f8f400"/>
<rect x="207" y="1057" width="11" height="11" fill="#fcec00"/>
<rect x="217" y="1057" width="11" height="11" fill="#ffe800"/>
<rect x="227" y="1057" width="11" height="11" fill="#ffe000"/>
<rect x="237" y="1057" width="11" height="11" fill="#ffdc00"/>
<rect x="247" y="1057" width="11" height="11" fill="#ffd400"/>
<rect x="257" y="1057" width="11" height="11" fill="#ffcc00"/>
<rect x="267" y="1057" width="11" height="11" fill="#ffc400"/>
<rect x="277" y="1057" width="11" height="11" fill="#ffbc00"/>
<rect x="287" y="1057" width="11" height="11" fill="#ffb400"/>
<rect x="297" y="1057" width="11" height="11" fill="#ffac00"/>
<rect x="307" y="1057" width="11" height="11" fill="#ffa400"/>
<rect x="317" y="1057" width="11" height="11" fill="#ffa000"/>
<rect x="327" y="1057" width="11" height="11" fill="#ff9800"/>
<rect x="337" y="1057" width="11" height="11" fill="#ff9000"/>
<rect x="347" y="1057" width="11" height="11" fill="#ff8c00"/>
<rect x="357" y="1057" width="11" height="11" fill="#ff8800"/>
<rect x="367" y="1057" width="11" height="11" fill="#ff8000"/>
<rect x="377" y="1057" width="11" height="11" fill="#ff7800"/>
<rect x="387" y="1057" width="11" height="11" fill="#ff7400"/>
<rect x="397" y="1057" width="11" height="11" fill="#ff7000"/>
<rect x="407" y="1057" width="11" height="11" fill="#ff6c00"/>
<rect x="417" y="1057" width="11" height="11" fill="#ff6800"/>
<rect x="427" y="1057" width="11" height="11" fill="#ff6400"/>
<rect x="437" y="1057" width="11" height="11" fill="#ff6000"/>
<rect x="447" y="1057" width="11" height="11" fill="#ff5c00"/>
<rect x="457" y="1057" width="11" height="11" fill="#ff5800"/>
<rect x="467" y="1057" width="11" height="11" fill="#ff5400"/>
<rect x="477" y="1057" width="11" height="11" fill="#ff5000"/>
<rect x="487" y="1057" width="11" height="11" fill="#ff4c00"/>
<rect x="497" y="1057" width="11" height="11" fill="#ff4800"/>
<rect x="507" y="1057" width="11" height="11" fill="#ff4400"/>
<rect x="517" y="1057" width="21" height="11" fill="#ff4000"/>
<rect x="537" y="1057" width="131" height="11" fill="#ff4400"/>
<rect x="137" y="1067" width="11" height="11" fill="#f4fc00"/>
<rect x="147" y="1067" width="11" height="11" fill="#f4f800"/>
<rect x="157" y="1067" width="11" height="11" fill="#f8f400"/>
<rect x="167" y="1067" width="11" height="11" fill="#fcec00"/>
<rect x="177" y="1067" width="11" height="11" fill="#fce800"/>
<rect x="187" y="1067" width="11" height="11" fill="#ffe400"/>
<rect x="197" y="1067" width="11" height="11" fill="#ffe000"/>
<rect x="207" y="1067" width="11" height="11" fill="#ffd800"/>
<rect x="217" y="1067" width="11" height="11" fill="#ffd400"/>
<rect x="227" y="1067" width="11" height="11" fill="#ffcc00"/>
<rect x="237" y="1067" width="11" height="11" fill="#ffc800"/>
<rect x="247" y="1067" width="11" height="11" fill="#ffc000"/>
<rect x="257" y="1067" width="11" height="11" fill="#ffbc00"/>
<rect x="267" y="1067" width="11" height="11" fill="#ffb800"/>
<rect x="277" y="1067" width="11" height="11" fill="#ffb400"/>
<rect x="287" y="1067" width="11" height="11" fill="#ffac00"/>
<rect x="297" y="1067" width="11" height="11" fill="#ffa800"/>
<rect x="307" y="1067" width="11" height="11" fill="#ffa000"/>
<rect x="317" y="1067" width="11" height="11" fill="#ff9c00"/>
<rect x="327" y="1067" width="11" height="11" fill="#ff9800"/>
<rect x="337" y="1067" width="11" height="11" fill="#ff9400"/>
<rect x="347" y="1067" width="11" height="11" fill="#ff8c00"/>
<rect x="357" y="1067" width="11" height="11" fill="#ff8800"/>
<rect x="367" y="1067" width="11" height="11" fill="#ff8400"/>
<rect x="377" y="1067" width="11" height="11" fill="#ff8000"/>
<rect x="387" y="1067" width="11" height="11" fill="#ff7800"/>
<rect x="397" y="1067" width="11" height="11" fill="#ff7400"/>
<rect x="407" y="1067" width="21" height="11" fill="#ff7000"/>
<rect x="427" y="1067" width="11" height="11" fill="#ff6c00"/>
<rect x="437" y="1067" width="11" height="11" fill="#ff6800"/>
<rect x="447" y="1067" width="11" height="11" fill="#ff6400"/>
<rect x="457" y="1067" width="11" height="11" fill="#ff6000"/>
<rect x="467" y="1067" width="11" height="11" fill="#ff5c00"/>
<rect x="477" y="1067" width="11" height="11" fill="#ff5800"/>
<rect x="487" y="1067" width="11" height="11" fill="#ff5400"/>
<rect x="497" y="1067" width="11" height="11" fill="#ff5000"/>
<rect x="507" y="1067" width="11" height="11" fill="#ff4c00"/>
<rect x="517" y="1067" width="151" height="11" fill="#ff4800"/>
<rect x="137" y="1077" width="11" height="11" fill="#ffe400"/>
<rect x="147" y="1077" width="21" height="11" fill="#ffe000"/>
<rect x="167" y="1077" width="11" height="11" fill="#ffd800"/>
<rect x="177" y="1077" width="11" height="11" fill="#ffd400"/>
<rect x="187" y="1077" width="11" height="11" fill="#ffcc00"/>
<rect x="197" y="1077" width="11" height="11" fill="#ffc800"/>
<rect x="207" y="1077" width="11" height="11" fill="#ffc400"/>
<rect x="217" y="1077" width="11" height="11" fill="#ffc000"/>
<rect x="227" y="1077" width="11" height="11" fill="#ffbc00"/>
<rect x="237" y="1077" width="11" height="11" fill="#ffb800"/>
<rect x="247" y="1077" width="11" height="11" fill="#ffb400"/>
<rect x="257" y="1077" width="21" height="11" fill="#ffb000"/>
<rect x="277" y="1077" width="11" height="11" fill="#ffac00"/>
<rect x="287" y="1077" width="11" height="11" fill="#ffa800"/>
<rect x="297" y="1077" width="11" height="11" fill="#ffa400"/>
<rect x="307" y="1077" width="11" height="11" fill="#ff9c00"/>
<rect x="317" y="1077" width="11" height="11" fill="#ff9800"/>
<rect x="327" y="1077" width="21" height="11" fill="#ff9400"/>
<rect x="347" y="1077" width="11" height="11" fill="#ff9000"/>
<rect x="357" y="1077" width="11" height="11" fill="#ff8c00"/>
<rect x="367" y="1077" width="11" height="11" fill="#ff8800"/>
<rect x="377" y="1077" width="11" height="11" fill="#ff8400"/>
<rect x="387" y="1077" width="11" height="11" fill="#ff8000"/>
<rect x="397" y="1077" width="11" height="11" fill="#ff7c00"/>
<rect x="407" y="1077" width="11" height="11" fill="#ff7800"/>
<rect x="417" y="1077" width="11" height="11" fill="#ff7400"/>
<rect x="427" y="1077" width="11" height="11" fill="#ff7000"/>
<rect x="437" y="1077" width="11" height="11" fill="#ff6c00"/>
<rect x="447" y="1077" width="11" height="11" fill="#ff6800"/>
<rect x="457" y="1077" width="11" height="11" fill="#ff6400"/>
<rect x="467" y="1077" width="11" height="11" fill="#ff6000"/>
<rect x="477" y="1077" width="11" height="11" fill="#ff5c00"/>
<rect x="487" y="1077" width="11" height="11" fill="#ff5800"/>
<rect x="497" y="1077" width="11" height="11" fill="#ff5400"/>
<rect x="507" y="1077" width="161" height="11" fill="#ff5000"/>
<rect x="137" y="1087" width="21" height="11" fill="#ffc800"/>
<rect x="157" y="1087" width="11" height="11" fill="#ffc400"/>
<rect x="167" y="1087" width="11" height="11" fill="#ffc000"/>
<rect x="177" y="1087" width="21" height="11" fill="#ffbc00"/>
<rect x="197" y="1087" width="11" height="11" fill="#ffb800"/>
<rect x="207" y="1087" width="21" height="11" fill="#ffb400"/>
<rect x="227" y="1087" width="11" height="11" fill="#ffb000"/>
<rect x="237" y="1087" width="21" height="11" fill="#ffac00"/>
<rect x="257" y="1087" width="11" height="11" fill="#ffa800"/>
<rect x="267" y="1087" width="21" height="11" fill="#ffa400"/>
<rect x="287" y="1087" width="11" height="11" fill="#ffa000"/>
<rect x="297" y="1087" width="21" height="11" fill="#ff9c00"/>
<rect x="317" y="1087" width="11" height="11" fill="#ff9800"/>
<rect x="327" y="1087" width="21" height="11" fill="#ff9400"/>
<rect x="347" y="1087" width="11" height="11" fill="#ff9000"/>
<rect x="357" y="1087" width="21" height="11" fill="#ff8c00"/>
<rect x="377" y="1087" width="11" height="11" fill="#ff8800"/>
<rect x="387" y="1087" width="21" height="11" fill="#ff8400"/>
<rect x="407" y="1087" width="11" height="11" fill="#ff8000"/>
<rect x="417" y="1087" width="11" height="11" fill="#ff7c00"/>
<rect x="427" y="1087" width="11" height="11" fill="#ff7800"/>
<rect x="437" y="1087" width="11" height="11" fill="#ff7400"/>
<rect x="447" y="1087" width="11" height="11" fill="#ff7000"/>
<rect x="457" y="1087" width="11" height="11" fill="#ff6c00"/>
<rect x="467" y="1087" width="11" height="11" fill="#ff6800"/>
<rect x="477" y="1087" width="11" height="11" fill="#ff6400"/>
<rect x="487" y="1087" width="11" height="11" fill="#ff6000"/>
<rect x="497" y="1087" width="11" height="11" fill="#ff5c00"/>
<rect x="507" y="1087" width="11" height="11" fill="#ff5800"/>
<rect x="517" y="1087" width="151" height="11" fill="#ff5400"/>
<rect x="137" y="1097" width="21" height="11" fill="#ffb800"/>
<rect x="157" y="1097" width="11" height="11" fill="#ffb400"/>
<rect x="167" y="1097" width="31" height="11" fill="#ffb000"/>
<rect x="197" y="1097" width="21" height="11" fill="#ffac00"/>
<rect x="217" y="1097" width="21" height="11" fill="#ffa800"/>
<rect x="237" y="1097" width="21" height="11" fill="#ffa400"/>
<rect x="257" y="1097" width="21" height="11" fill="#ffa000"/>
<rect x="277" y="1097" width="21" height="11" fill="#ff9c00"/>
<rect x="297" y="1097" width="21" height="11" fill="#ff9800"/>
<rect x="317" y="1097" width="21" height="11" fill="#ff9400"/>
<rect x="337" y="1097" width="21" height="11" fill="#ff9000"/>
<rect x="357" y="1097" width="21" height="11" fill="#ff8c00"/>
<rect x="377" y="1097" width="21" height="11" fill="#ff8800"/>
<rect x="397" y="1097" width="11" height="11" fill="#ff8400"/>
<rect x="407" y="1097" width="11" height="11" fill="#ff8000"/>
<rect x="417" y="1097" width="11" height="11" fill="#ff7c00"/>
<rect x="427" y="1097" width="11" height="11" fill="#ff7800"/>
<rect x="437" y="1097" width="11" height="11" fill="#ff7400"/>
<rect x="447" y="1097" width="11" height="11" fill="#ff7000"/>
<rect x="457" y="1097" width="11" height="11" fill="#ff6c00"/>
<rect x="467" y="1097" width="11" height="11" fill="#ff6800"/>
<rect x="477" y="1097" width="21" height="11" fill="#ff6400"/>
<rect x="497" y="1097" width="11" height="11" fill="#ff6000"/>
<rect x="507" y="1097" width="11" height="11" fill="#ff5c00"/>
<rect x="517" y="1097" width="51" height="11" fill="#ff5800"/>
<rect x="567" y="1097" width="71" height="11" fill="#ff5c00"/>
<rect x="637" y="1097" width="31" height="11" fill="#ff6000"/>
<rect x="137" y="1107" width="21" height="11" fill="#ffac00"/>
<rect x="157" y="1107" width="31" height="11" fill="#ffa800"/>
<rect x="187" y="1107" width="41" height="11" fill="#ffa400"/>
<rect x="227" y="1107" width="31" height="11" fill="#ffa000"/>
<rect x="257" y="1107" width="21" height="11" fill="#ff9c00"/>
<rect x="277" y="1107" width="21" height="11" fill="#ff9800"/>
<rect x="297" y="1107" width="31" height="11" fill="#ff9400"/>
<rect x="327" y="1107" width="21" height="11" fill="#ff9000"/>
<rect x="347" y="1107" width="21" height="11" fill="#ff8c00"/>
<rect x="367" y="1107" width="31" height="11" fill="#ff8800"/>
<rect x="397" y="1107" width="11" height="11" fill="#ff8400"/>
<rect x="407" y="1107" width="11" height="11" fill="#ff8000"/>
<rect x="417" y="1107" width="11" height="11" fill="#ff7c00"/>
<rect x="427" y="1107" width="11" height="11" fill="#ff7800"/>
<rect x="437" y="1107" width="11" height="11" fill="#ff7400"/>
<rect x="447" y="1107" width="11" height="11" fill="#ff7000"/>
<rect x="457" y="1107" width="11" height="11" fill="#ff6c00"/>
<rect x="467" y="1107" width="11" height="11" fill="#ff6800"/>
<rect x="477" y="1107" width="11" height="11" fill="#ff6400"/>
<rect x="487" y="1107" width="11" height="11" fill="#ff6000"/>
<rect x="497" y="1107" width="11" height="11" fill="#ff5c00"/>
<rect x="507" y="1107" width="11" height="11" fill="#ff5800"/>
<rect x="517" y="1107" width="11" height="11" fill="#ff5400"/>
<rect x="527" y="1107" width="21" height="11" fill="#ff5800"/>
<rect x="547" y="1107" width="21" height="11" fill="#ff5c00"/>
<rect x="567" y="1107" width="21" height="11" fill="#ff6000"/>
<rect x="587" y="1107" width="31" height="11" fill="#ff6400"/>
<rect x="617" y="1107" width="21" height="11" fill="#ff6800"/>
<rect x="637" y="1107" width="31" height="11" fill="#ff6c00"/>
<rect x="137" y="1117" width="51" height="11" fill="#ffa000"/>
<rect x="187" y="1117" width="61" height="11" fill="#ff9c00"/>
<rect x="247" y="1117" width="41" height="11" fill="#ff9800"/>
<rect x="287" y="1117" width="21" height="11" fill="#ff9400"/>
<rect x="307" y="1117" width="31" height="11" fill="#ff9000"/>
<rect x="337" y="1117" width="21" height="11" fill="#ff8c00"/>
<rect x="357" y="1117" width="31" height="11" fill="#ff8800"/>
<rect x="387" y="1117" width="11" height="11" fill="#ff8400"/>
<rect x="397" y="1117" width="11" height="11" fill="#ff8000"/>
<rect x="407" y="1117" width="11" height="11" fill="#ff7c00"/>
<rect x="417" y="1117" width="11" height="11" fill="#ff7800"/>
<rect x="427" y="1117" width="11" height="11" fill="#ff7400"/>
<rect x="437" y="1117" width="11" height="11" fill="#ff7000"/>
<rect x="447" y="1117" width="11" height="11" fill="#ff6c00"/>
<rect x="457" y="1117" width="11" height="11" fill="#ff6800"/>
<rect x="467" y="1117" width="11" height="11" fill="#ff6400"/>
<rect x="477" y="1117" width="11" height="11" fill="#ff6000"/>
<rect x="487" y="1117" width="11" height="11" fill="#ff5c00"/>
<rect x="497" y="1117" width="11" height="11" fill="#ff5800"/>
<rect x="507" y="1117" width="31" height="11" fill="#ff5400"/>
<rect x="537" y="1117" width="11" height="11" fill="#ff5800"/>
<rect x="547" y="1117" width="11" height="11" fill="#ff5c00"/>
<rect x="557" y="1117" width="11" height="11" fill="#ff6000"/>
<rect x="567" y="1117" width="21" height="11" fill="#ff6400"/>
<rect x="587" y="1117" width="11" height="11" fill="#ff6800"/>
<rect x="597" y="1117" width="11" height="11" fill="#ff6c00"/>
<rect x="607" y="1117" width="11" height="11" fill="#ff7000"/>
<rect x="617" y="1117" width="21" height="11" fill="#ff7400"/>
<rect x="637" y="1117" width="31" height="11" fill="#ff7800"/>
<rect x="137" y="1127" width="41" height="11" fill="#ff9800"/>
<rect x="177" y="1127" width="111" height="11" fill="#ff9400"/>
<rect x="287" y="1127" width="31" height="11" fill="#ff9000"/>
<rect x="317" y="1127" width="31" height="11" fill="#ff8c00"/>
<rect x="347" y="1127" width="21" height="11" fill="#ff8800"/>
<rect x="367" y="1127" width="31" height="11" fill="#ff8400"/>
<rect x="397" y="1127" width="11" height="11" fill="#ff8000"/>
<rect x="407" y="1127" width="11" height="11" fill="#ff7c00"/>
<rect x="417" y="1127" width="11" height="11" fill="#ff7800"/>
<rect x="427" y="1127" width="11" height="11" fill="#ff7400"/>
<rect x="437" y="1127" width="11" height="11" fill="#ff7000"/>
<rect x="447" y="1127" width="11" height="11" fill="#ff6c00"/>
<rect x="457" y="1127" width="11" height="11" fill="#ff6800"/>
<rect x="467" y="1127" width="11" height="11" fill="#ff6400"/>
<rect x="477" y="1127" width="11" height="11" fill="#ff6000"/>
<rect x="487" y="1127" width="11" height="11" fill="#ff5c00"/>
<rect x="497" y="1127" width="11" height="11" fill="#ff5800"/>
<rect x="507" y="1127" width="11" height="11" fill="#ff5400"/>
<rect x="517" y="1127" width="11" height="11" fill="#ff5000"/>
<rect x="527" y="1127" width="11" height="11" fill="#ff5400"/>
<rect x="537" y="1127" width="11" height="11" fill="#ff5800"/>
<rect x="547" y="1127" width="11" height="11" fill="#ff5c00"/>
<rect x="557" y="1127" width="11" height="11" fill="#ff6000"/>
<rect x="567" y="1127" width="11" height="11" fill="#ff6800"/>
<rect x="577" y="1127" width="11" height="11" fill="#ff6c00"/>
<rect x="587" y="1127" width="11" height="11" fill="#ff7000"/>
<rect x="597" y="1127" width="11" height="11" fill="#ff7400"/>
<rect x="607" y="1127" width="11" height="11" fill="#ff7800"/>
<rect x="617" y="1127" width="11" height="11" fill="#ff7c00"/>
<rect x="627" y="1127" width="11" height="11" fill="#ff8000"/>
<rect x="637" y="1127" width="11" height="11" fill="#ff8400"/>
<rect x="647" y="1127" width="21" height="11" fill="#ff8800"/>
<rect x="137" y="1137" width="41" height="11" fill="#ff8c00"/>
<rect x="177" y="1137" width="121" height="11" fill="#ff9000"/>
<rect x="297" y="1137" width="31" height="11" fill="#ff8c00"/>
<rect x="327" y="1137" width="31" height="11" fill="#ff8800"/>
<rect x="357" y="1137" width="31" height="11" fill="#ff8400"/>
<rect x="387" y="1137" width="21" height="11" fill="#ff8000"/>
<rect x="407" y="1137" width="11" height="11" fill="#ff7c00"/>
<rect x="417" y="1137" width="11" height="11" fill="#ff7800"/>
<rect x="427" y="1137" width="11" height="11" fill="#ff7000"/>
<rect x="437" y="1137" width="11" height="11" fill="#ff6c00"/>
<rect x="447" y="1137" width="11" height="11" fill="#ff6800"/>
<rect x="457" y="1137" width="11" height="11" fill="#ff6400"/>
<rect x="467" y="1137" width="11" height="11" fill="#ff6000"/>
<rect x="477" y="1137" width="11" height="11" fill="#ff5c00"/>
<rect x="487" y="1137" width="11" height="11" fill="#ff5800"/>
<rect x="497" y="1137" width="11" height="11" fill="#ff5400"/>
<rect x="507" y="1137" width="11" height="11" fill="#ff5000"/>
<rect x="517" y="1137" width="11" height="11" fill="#ff4c00"/>
<rect x="527" y="1137" width="11" height="11" fill="#ff5400"/>
<rect x="537" y="1137" width="11" height="11" fill="#ff5800"/>
<rect x="547" y="1137" width="11" height="11" fill="#ff6000"/>
<rect x="557" y="1137" width="11" height="11" fill="#ff6400"/>
<rect x="567" y="1137" width="11" height="11" fill="#ff6c00"/>
<rect x="577" y="1137" width="11" height="11" fill="#ff7000"/>
<rect x="587" y="1137" width="11" height="11" fill="#ff7800"/>
<rect x="597" y="1137" width="11" height="11" fill="#ff7c00"/>
<rect x="607" y="1137" width="11" height="11" fill="#ff8000"/>
<rect x="617" y="1137" width="11" height="11" fill="#ff8800"/>
<rect x="627" y="1137" width="11" height="11" fill="#ff8c00"/>
<rect x="637" y="1137" width="31" height="11" fill="#ff9400"/>
<rect x="137" y="1147" width="51" height="11" fill="#ff8400"/>
<rect x="187" y="1147" width="51" height="11" fill="#ff8800"/>
<rect x="237" y="1147" width="71" height="11" fill="#ff8c00"/>
<rect x="307" y="1147" width="31" height="11" fill="#ff8800"/>
<rect x="337" y="1147" width="41" height="11" fill="#ff8400"/>
<rect x="377" y="1147" width="31" height="11" fill="#ff8000"/>
<rect x="407" y="1147" width="11" height="11" fill="#ff7c00"/>
<rect x="417" y="1147" width="11" height="11" fill="#ff7800"/>
<rect x="427" y="1147" width="11" height="11" fill="#ff7400"/>
<rect x="437" y="1147" width="11" height="11" fill="#ff7000"/>
<rect x="447" y="1147" width="11" height="11" fill="#ff6c00"/>
<rect x="457" y="1147" width="11" height="11" fill="#ff6800"/>
<rect x="467" y="1147" width="11" height="11" fill="#ff6400"/>
<rect x="477" y="1147" width="11" height="11" fill="#ff6000"/>
<rect x="487" y="1147" width="11" height="11" fill="#ff5c00"/>
<rect x="497" y="1147" width="11" height="11" fill="#ff5800"/>
<rect x="507" y="1147" width="11" height="11" fill="#ff5400"/>
<rect x="517" y="1147" width="11" height="11" fill="#ff5000"/>
<rect x="527" y="1147" width="11" height="11" fill="#ff5800"/>
<rect x="537" y="1147" width="11" height="11" fill="#ff5c00"/>
<rect x="547" y="1147" width="11" height="11" fill="#ff6400"/>
<rect x="557" y="1147" width="11" height="11" fill="#ff6800"/>
<rect x="567" y="1147" width="11" height="11" fill="#ff7000"/>
<rect x="577" y="1147" width="11" height="11" fill="#ff7400"/>
<rect x="587" y="1147" width="11" height="11" fill="#ff7c00"/>
<rect x="597" y="1147" width="11" height="11" fill="#ff8000"/>
<rect x="607" y="1147" width="11" height="11" fill="#ff8800"/>
<rect x="617" y="1147" width="11" height="11" fill="#ff8c00"/>
<rect x="627" y="1147" width="11" height="11" fill="#ff9000"/>
<rect x="637" y="1147" width="11" height="11" fill="#ff9800"/>
<rect x="647" y="1147" width="21" height="11" fill="#ff9c00"/>
<rect x="137" y="1157" width="21" height="11" fill="#ff7800"/>
<rect x="157" y="1157" width="41" height="11" fill="#ff7c00"/>
<rect x="197" y="1157" width="31" height="11" fill="#ff8000"/>
<rect x="227" y="1157" width="31" height="11" fill="#ff8400"/>
<rect x="257" y="1157" width="51" height="11" fill="#ff8800"/>
<rect x="307" y="1157" width="71" height="11" fill="#ff8400"/>
<rect x="377" y="1157" width="31" height="11" fill="#ff8000"/>
<rect x="407" y="1157" width="11" height="11" fill="#ff7c00"/>
<rect x="417" y="1157" width="21" height="11" fill="#ff7800"/>
<rect x="437" y="1157" width="11" height="11" fill="#ff7400"/>
<rect x="447" y="1157" width="11" height="11" fill="#ff7000"/>
<rect x="457" y="1157" width="21" height="11" fill="#ff6c00"/>
<rect x="477" y="1157" width="11" height="11" fill="#ff6800"/>
<rect x="487" y="1157" width="11" height="11" fill="#ff6400"/>
<rect x="497" y="1157" width="21" height="11" fill="#ff6000"/>
<rect x="517" y="1157" width="11" height="11" fill="#ff5c00"/>
<rect x="527" y="1157" width="11" height="11" fill="#ff6000"/>
<rect x="537" y="1157" width="11" height="11" fill="#ff6400"/>
<rect x="547" y="1157" width="11" height="11" fill="#ff6c00"/>
<rect x="557" y="1157" width="11" height="11" fill="#ff7000"/>
<rect x="567" y="1157" width="11" height="11" fill="#ff7400"/>
<rect x="577" y="1157" width="11" height="11" fill="#ff7800"/>
<rect x="587" y="1157" width="11" height="11" fill="#ff7c00"/>
<rect x="597" y="1157" width="11" height="11" fill="#ff8000"/>
<rect x="607" y="1157" width="11" height="11" fill="#ff8800"/>
<rect x="617" y="1157" width="11" height="11" fill="#ff8c00"/>
<rect x="627" y="1157" width="11" height="11" fill="#ff9000"/>
<rect x="637" y="1157" width="11" height="11" fill="#ff9400"/>
<rect x="647" y="1157" width="21" height="11" fill="#ff9800"/>
<rect x="137" y="1167" width="41" height="11" fill="#ff7000"/>
<rect x="177" y="1167" width="21" height="11" fill="#ff7400"/>
<rect x="197" y="1167" width="31" height="11" fill="#ff7800"/>
<rect x="227" y="1167" width="21" height="11" fill="#ff7c00"/>
<rect x="247" y="1167" width="171" height="11" fill="#ff8000"/>
<rect x="417" y="1167" width="11" height="11" fill="#ff7c00"/>
<rect x="427" y="1167" width="21" height="11" fill="#ff7800"/>
<rect x="447" y="1167" width="21" height="11" fill="#ff7400"/>
<rect x="467" y="1167" width="21" height="11" fill="#ff7000"/>
<rect x="487" y="1167" width="21" height="11" fill="#ff6c00"/>
<rect x="507" y="1167" width="31" height="11" fill="#ff6800"/>
<rect x="537" y="1167" width="11" height="11" fill="#ff6c00"/>
<rect x="547" y="1167" width="11" height="11" fill="#ff7000"/>
<rect x="557" y="1167" width="11" height="11" fill="#ff7400"/>
<rect x="567" y="1167" width="11" height="11" fill="#ff7800"/>
<rect x="577" y="1167" width="11" height="11" fill="#ff7c00"/>
<rect x="587" y="1167" width="11" height="11" fill="#ff8000"/>
<rect x="597" y="1167" width="11" height="11" fill="#ff8400"/>
<rect x="607" y="1167" width="21" height="11" fill="#ff8800"/>
<rect x="627" y="1167" width="11" height="11" fill="#ff8c00"/>
<rect x="637" y="1167" width="31" height="11" fill="#ff9000"/>
<rect x="137" y="1177" width="21" height="11" fill="#ff6400"/>
<rect x="157" y="1177" width="21" height="11" fill="#ff6800"/>
<rect x="177" y="1177" width="21" height="11" fill="#ff6c00"/>
<rect x="197" y="1177" width="21" height="11" fill="#ff7000"/>
<rect x="217" y="1177" width="21" height="11" fill="#ff7400"/>
<rect x="237" y="1177" width="21" height="11" fill="#ff7800"/>
<rect x="257" y="1177" width="51" height="11" fill="#ff7c00"/>
<rect x="307" y="1177" width="71" height="11" fill="#ff8000"/>
<rect x="377" y="1177" width="21" height="11" fill="#ff8400"/>
<rect x="397" y="1177" width="31" height="11" fill="#ff8000"/>
<rect x="427" y="1177" width="31" height="11" fill="#ff7c00"/>
<rect x="457" y="1177" width="31" height="11" fill="#ff7800"/>
<rect x="487" y="1177" width="21" height="11" fill="#ff7400"/>
<rect x="507" y="1177" width="21" height="11" fill="#ff7000"/>
<rect x="527" y="1177" width="21" height="11" fill="#ff7400"/>
<rect x="547" y="1177" width="11" height="11" fill="#ff7800"/>
<rect x="557" y="1177" width="21" height="11" fill="#ff7c00"/>
<rect x="577" y="1177" width="21" height="11" fill="#ff8000"/>
<rect x="597" y="1177" width="21" height="11" fill="#ff8400"/>
<rect x="617" y="1177" width="11" height="11" fill="#ff8800"/>
<rect x="627" y="1177" width="21" height="11" fill="#ff8c00"/>
<rect x="647" y="1177" width="21" height="11" fill="#ff9000"/>
<rect x="137" y="1187" width="11" height="11" fill="#ff5800"/>
<rect x="147" y="1187" width="21" height="11" fill="#ff5c00"/>
<rect x="167" y="1187" width="21" height="11" fill="#ff6000"/>
<rect x="187" y="1187" width="11" height="11" fill="#ff6400"/>
<rect x="197" y="1187" width="21" height="11" fill="#ff6800"/>
<rect x="217" y="1187" width="21" height="11" fill="#ff6c00"/>
<rect x="237" y="1187" width="11" height="11" fill="#ff7000"/>
<rect x="247" y="1187" width="21" height="11" fill="#ff7400"/>
<rect x="267" y="1187" width="41" height="11" fill="#ff7800"/>
<rect x="307" y="1187" width="31" height="11" fill="#ff7c00"/>
<rect x="337" y="1187" width="41" height="11" fill="#ff8000"/>
<rect x="377" y="1187" width="41" height="11" fill="#ff8400"/>
<rect x="417" y="1187" width="61" height="11" fill="#ff8000"/>
<rect x="477" y="1187" width="71" height="11" fill="#ff7c00"/>
<rect x="547" y="1187" width="31" height="11" fill="#ff8000"/>
<rect x="577" y="1187" width="41" height="11" fill="#ff8400"/>
<rect x="617" y="1187" width="51" height="11" fill="#ff8800"/>
<rect x="137" y="1197" width="31" height="11" fill="#ff5800"/>
<rect x="167" y="1197" width="11" height="11" fill="#ff5c00"/>
<rect x="177" y="1197" width="21" height="11" fill="#ff6000"/>
<rect x="197" y="1197" width="21" height="11" fill="#ff6400"/>
<rect x="217" y="1197" width="11" height="11" fill="#ff6800"/>
<rect x="227" y="1197" width="21" height="11" fill="#ff6c00"/>
<rect x="247" y="1197" width="21" height="11" fill="#ff7000"/>
<rect x="267" y="1197" width="21" height="11" fill="#ff7400"/>
<rect x="287" y="1197" width="31" height="11" fill="#ff7800"/>
<rect x="317" y="1197" width="31" height="11" fill="#ff7c00"/>
<rect x="347" y="1197" width="41" height="11" fill="#ff8000"/>
<rect x="387" y="1197" width="61" height="11" fill="#ff8400"/>
<rect x="447" y="1197" width="111" height="11" fill="#ff8000"/>
<rect x="557" y="1197" width="71" height="11" fill="#ff8400"/>
<rect x="627" y="1197" width="41" height="11" fill="#ff8800"/>
<rect x="137" y="1207" width="11" height="11" fill="#ff5800"/>
<rect x="147" y="1207" width="21" height="11" fill="#ff5c00"/>
<rect x="167" y="1207" width="21" height="11" fill="#ff6000"/>
<rect x="187" y="1207" width="21" height="11" fill="#ff6400"/>
<rect x="207" y="1207" width="11" height="11" fill="#ff6800"/>
<rect x="217" y="1207" width="21" height="11" fill="#ff6c00"/>
<rect x="237" y="1207" width="21" height="11" fill="#ff7000"/>
<rect x="257" y="1207" width="21" height="11" fill="#ff7400"/>
<rect x="277" y="1207" width="41" height="11" fill="#ff7800"/>
<rect x="317" y="1207" width="41" height="11" fill="#ff7c00"/>
<rect x="357" y="1207" width="31" height="11" fill="#ff8000"/>
<rect x="387" y="1207" width="41" height="11" fill="#ff8400"/>
<rect x="427" y="1207" width="141" height="11" fill="#ff8000"/>
<rect x="567" y="1207" width="101" height="11" fill="#ff8400"/>
<rect x="137" y="1217" width="31" height="11" fill="#ff6000"/>
<rect x="167" y="1217" width="21" height="11" fill="#ff6400"/>
<rect x="187" y="1217" width="21" height="11" fill="#ff6800"/>
<rect x="207" y="1217" width="21" height="11" fill="#ff6c00"/>
<rect x="227" y="1217" width="21" height="11" fill="#ff7000"/>
<rect x="247" y="1217" width="21" height="11" fill="#ff7400"/>
<rect x="267" y="1217" width="51" height="11" fill="#ff7800"/>
<rect x="317" y="1217" width="41" height="11" fill="#ff7c00"/>
<rect x="357" y="1217" width="231" height="11" fill="#ff8000"/>
<rect x="587" y="1217" width="81" height="11" fill="#ff8400"/>
<rect x="137" y="1227" width="11" height="11" fill="#ff6000"/>
<rect x="147" y="1227" width="21" height="11" fill="#ff6400"/>
<rect x="167" y="1227" width="31" height="11" fill="#ff6800"/>
<rect x="197" y="1227" width="21" height="11" fill="#ff6c00"/>
<rect x="217" y="1227" width="31" height="11" fill="#ff7000"/>
<rect x="247" y="1227" width="21" height="11" fill="#ff7400"/>
<rect x="267" y="1227" width="41" height="11" fill="#ff7800"/>
<rect x="307" y="1227" width="51" height="11" fill="#ff7c00"/>
<rect x="357" y="1227" width="271" height="11" fill="#ff8000"/>
<rect x="627" y="1227" width="41" height="11" fill="#ff8400"/>
<rect x="137" y="1237" width="41" height="11" fill="#ff6800"/>
<rect x="177" y="1237" width="31" height="11" fill="#ff6c00"/>
<rect x="207" y="1237" width="31" height="11" fill="#ff7000"/>
<rect x="237" y="1237" width="21" height="11" fill="#ff7400"/>
<rect x="257" y="1237" width="51" height="11" fill="#ff7800"/>
<rect x="307" y="1237" width="61" height="11" fill="#ff7c00"/>
<rect x="367" y="1237" width="301" height="11" fill="#ff8000"/>
<rect x="137" y="1247" width="31" height="11" fill="#ff6c00"/>
<rect x="167" y="1247" width="31" height="11" fill="#ff7000"/>
<rect x="197" y="1247" width="41" height="11" fill="#ff7400"/>
<rect x="237" y="1247" width="31" height="11" fill="#ff7800"/>
<rect x="267" y="1247" width="61" height="11" fill="#ff7c00"/>
<rect x="327" y="1247" width="61" height="11" fill="#ff8000"/>
<rect x="387" y="1247" width="191" height="11" fill="#ff8400"/>
<rect x="577" y="1247" width="91" height="11" fill="#ff8800"/>
<rect x="137" y="1257" width="41" height="11" fill="#ff7400"/>
<rect x="177" y="1257" width="41" height="11" fill="#ff7800"/>
<rect x="217" y="1257" width="41" height="11" fill="#ff7c00"/>
<rect x="257" y="1257" width="61" height="11" fill="#ff8000"/>
<rect x="317" y="1257" width="61" height="11" fill="#ff8400"/>
<rect x="377" y="1257" width="81" height="11" fill="#ff8800"/>
<rect x="457" y="1257" width="71" height="11" fill="#ff8c00"/>
<rect x="527" y="1257" width="51" height="11" fill="#ff9000"/>
<rect x="577" y="1257" width="51" height="11" fill="#ff9400"/>
<rect x="627" y="1257" width="41" height="11" fill="#ff9800"/>
<rect x="137" y="1267" width="11" height="11" fill="#ff7800"/>
<rect x="147" y="1267" width="51" height="11" fill="#ff7c00"/>
<rect x="197" y="1267" width="51" height="11" fill="#ff8000"/>
<rect x="247" y="1267" width="61" height="11" fill="#ff8400"/>
<rect x="307" y="1267" width="61" height="11" fill="#ff8800"/>
<rect x="367" y="1267" width="51" height="11" fill="#ff8c00"/>
<rect x="417" y="1267" width="51" height="11" fill="#ff9000"/>
<rect x="467" y="1267" width="51" height="11" fill="#ff9400"/>
<rect x="517" y="1267" width="31" height="11" fill="#ff9800"/>
<rect x="547" y="1267" width="21" height="11" fill="#ff9c00"/>
<rect x="567" y="1267" width="31" height="11" fill="#ffa000"/>
<rect x="597" y="1267" width="21" height="11" fill="#ffa400"/>
<rect x="617" y="1267" width="31" height="11" fill="#ffa800"/>
<rect x="647" y="1267" width="21" height="11" fill="#ffac00"/>
<rect x="137" y="1277" width="21" height="11" fill="#ff8000"/>
<rect x="157" y="1277" width="71" height="11" fill="#ff8400"/>
<rect x="227" y="1277" width="61" height="11" fill="#ff8800"/>
<rect x="287" y="1277" width="71" height="11" fill="#ff8c00"/>
<rect x="357" y="1277" width="51" height="11" fill="#ff9000"/>
<rect x="407" y="1277" width="41" height="11" fill="#ff9400"/>
<rect x="447" y="1277" width="31" height="11" fill="#ff9800"/>
<rect x="477" y="1277" width="31" height="11" fill="#ff9c00"/>
<rect x="507" y="1277" width="21" height="11" fill="#ffa000"/>
<rect x="527" y="1277" width="21" height="11" fill="#ffa400"/>
<rect x="547" y="1277" width="21" height="11" fill="#ffa800"/>
<rect x="567" y="1277" width="21" height="11" fill="#ffac00"/>
<rect x="587" y="1277" width="11" height="11" fill="#ffb000"/>
<rect x="597" y="1277" width="21" height="11" fill="#ffb400"/>
<rect x="617" y="1277" width="11" height="11" fill="#ffb800"/>
<rect x="627" y="1277" width="11" height="11" fill="#ffbc00"/>
<rect x="637" y="1277" width="31" height="11" fill="#ffc000"/>
<rect x="137" y="1287" width="51" height="11" fill="#ff8800"/>
<rect x="187" y="1287" width="91" height="11" fill="#ff8c00"/>
<rect x="277" y="1287" width="61" height="11" fill="#ff9000"/>
<rect x="337" y="1287" width="61" height="11" fill="#ff9400"/>
<rect x="397" y="1287" width="31" height="11" fill="#ff9800"/>
<rect x="427" y="1287" width="21" height="11" fill="#ff9c00"/>
<rect x="447" y="1287" width="31" height="11" fill="#ffa000"/>
<rect x="477" y="1287" width="21" height="11" fill="#ffa400"/>
<rect x="497" y="1287" width="31" height="11" fill="#ffa800"/>
<rect x="527" y="1287" width="11" height="11" fill="#ffac00"/>
<rect x="537" y="1287" width="11" height="11" fill="#ffb000"/>
<rect x="547" y="1287" width="11" height="11" fill="#ffb400"/>
<rect x="557" y="1287" width="21" height="11" fill="#ffb800"/>
<rect x="577" y="1287" width="11" height="11" fill="#ffbc00"/>
<rect x="587" y="1287" width="11" height="11" fill="#ffc000"/>
<rect x="597" y="1287" width="11" height="11" fill="#ffc400"/>
<rect x="607" y="1287" width="11" height="11" fill="#ffcc00"/>
<rect x="617" y="1287" width="11" height="11" fill="#ffd000"/>
<rect x="627" y="1287" width="11" height="11" fill="#ffd400"/>
<rect x="637" y="1287" width="31" height="11" fill="#ffd800"/>
<rect x="137" y="1297" width="41" height="11" fill="#ff9000"/>
<rect x="177" y="1297" width="111" height="11" fill="#ff9400"/>
<rect x="287" y="1297" width="51" height="11" fill="#ff9800"/>
<rect x="337" y="1297" width="41" height="11" fill="#ff9c00"/>
<rect x="377" y="1297" width="31" height="11" fill="#ffa000"/>
<rect x="407" y="1297" width="21" height="11" fill="#ffa400"/>
<rect x="427" y="1297" width="21" height="11" fill="#ffa800"/>
<rect x="447" y="1297" width="21" height="11" fill="#ffac00"/>
<rect x="467" y="1297" width="21" height="11" fill="#ffb000"/>
<rect x="487" y="1297" width="21" height="11" fill="#ffb400"/>
<rect x="507" y="1297" width="11" height="11" fill="#ffb800"/>
<rect x="517" y="1297" width="11" height="11" fill="#ffbc00"/>
<rect x="527" y="1297" width="11" height="11" fill="#ffc000"/>
<rect x="537" y="1297" width="11" height="11" fill="#ffc400"/>
<rect x="547" y="1297" width="11" height="11" fill="#ffc800"/>
<rect x="557" y="1297" width="11" height="11" fill="#ffcc00"/>
<rect x="567" y="1297" width="11" height="11" fill="#ffd000"/>
<rect x="577" y="1297" width="11" height="11" fill="#ffd400"/>
<rect x="587" y="1297" width="11" height="11" fill="#ffdc00"/>
<rect x="597" y="1297" width="11" height="11" fill="#ffe000"/>
<rect x="607" y="1297" width="11" height="11" fill="#ffe400"/>
<rect x="617" y="1297" width="11" height="11" fill="#fce800"/>
<rect x="627" y="1297" width="11" height="11" fill="#fcec00"/>
<rect x="637" y="1297" width="11" height="11" fill="#fcf000"/>
<rect x="647" y="1297" width="21" height="11" fill="#f8f000"/>
<rect x="137" y="1307" width="61" height="11" fill="#ff9c00"/>
<rect x="197" y="1307" width="91" height="11" fill="#ffa000"/>
<rect x="287" y="1307" width="41" height="11" fill="#ffa400"/>
<rect x="327" y="1307" width="31" height="11" fill="#ffa800"/>
<rect x="357" y="1307" width="41" height="11" fill="#ffac00"/>
<rect x="397" y="1307" width="11" height="11" fill="#ffb000"/>
<rect x="407" y="1307" width="21" height="11" fill="#ffb400"/>
<rect x="427" y="1307" width="11" height="11" fill="#ffb800"/>
<rect x="437" y="1307" width="21" height="11" fill="#ffbc00"/>
<rect x="457" y="1307" width="11" height="11" fill="#ffc000"/>
<rect x="467" y="1307" width="11" height="11" fill="#ffc400"/>
<rect x="477" y="1307" width="11" height="11" fill="#ffc800"/>
<rect x="487" y="1307" width="11" height="11" fill="#ffcc00"/>
<rect x="497" y="1307" width="11" height="11" fill="#ffd000"/>
<rect x="507" y="1307" width="11" height="11" fill="#ffd400"/>
<rect x="517" y="1307" width="11" height="11" fill="#ffd800"/>
<rect x="527" y="1307" width="11" height="11" fill="#ffdc00"/>
<rect x="537" y="1307" width="11" height="11" fill="#ffe000"/>
<rect x="547" y="1307" width="11" height="11" fill="#ffe400"/>
<rect x="557" y="1307" width="11" height="11" fill="#ffe800"/>
<rect x="567" y="1307" width="11" height="11" fill="#fcec00"/>
<rect x="577" y="1307" width="11" height="11" fill="#fcf000"/>
<rect x="587" y="1307" width="21" height="11" fill="#f8f400"/>
<rect x="607" y="1307" width="11" height="11" fill="#f4f800"/>
<rect x="617" y="1307" width="11" height="11" fill="#f0fc00"/>
<rect x="627" y="1307" width="11" height="11" fill="#e8fc00"/>
<rect x="637" y="1307" width="11" height="11" fill="#e4fc00"/>
<rect x="647" y="1307" width="21" height="11" fill="#e0fc00"/>
<rect x="137" y="1317" width="71" height="11" fill="#ffa800"/>
<rect x="207" y="1317" width="81" height="11" fill="#ffac00"/>
<rect x="287" y="1317" width="31" height="11" fill="#ffb000"/>
<rect x="317" y="1317" width="31" height="11" fill="#ffb400"/>
<rect x="347" y="1317" width="31" height="11" fill="#ffb800"/>
<rect x="377" y="1317" width="21" height="11" fill="#ffbc00"/>
<rect x="397" y="1317" width="11" height="11" fill="#ffc000"/>
<rect x="407" y="1317" width="11" height="11" fill="#ffc400"/>
<rect x="417" y="1317" width="11" height="11" fill="#ffc800"/>
<rect x="427" y="1317" width="11" height="11" fill="#ffcc00"/>
<rect x="437" y="1317" width="11" height="11" fill="#ffd000"/>
<rect x="447" y="1317" width="11" height="11" fill="#ffd400"/>
<rect x="457" y="1317" width="11" height="11" fill="#ffd800"/>
<rect x="467" y="1317" width="11" height="11" fill="#ffdc00"/>
<rect x="477" y="1317" width="11" height="11" fill="#ffe000"/>
<rect x="487" y="1317" width="11" height="11" fill="#ffe400"/>
<rect x="497" y="1317" width="11" height="11" fill="#fce800"/>
<rect x="507" y="1317" width="11" height="11" fill="#fcec00"/>
<rect x="517" y="1317" width="11" height="11" fill="#f8f000"/>
<rect x="527" y="1317" width="21" height="11" fill="#f8f400"/>
<rect x="547" y="1317" width="11" height="11" fill="#f4f800"/>
<rect x="557" y="1317" width="11" height="11" fill="#f4fc00"/>
<rect x="567" y="1317" width="11" height="11" fill="#ecfc00"/>
<rect x="577" y="1317" width="11" height="11" fill="#e8fc00"/>
<rect x="587" y="1317" width="11" height="11" fill="#e0fc00"/>
<rect x="597" y="1317" width="11" height="11" fill="#dcff00"/>
<rect x="607" y="1317" width="11" height="11" fill="#ccff00"/>
<rect x="617" y="1317" width="11" height="11" fill="#bcff00"/>
<rect x="627" y="1317" width="11" height="11" fill="#acff00"/>
<rect x="637" y="1317" width="31" height="11" fill="#9cff00"/>
<rect x="137" y="1327" width="61" height="11" fill="#ffb400"/>
<rect x="197" y="1327" width="81" height="11" fill="#ffb800"/>
<rect x="277" y="1327" width="21" height="11" fill="#ffbc00"/>
<rect x="297" y="1327" width="31" height="11" fill="#ffc000"/>
<rect x="327" y="1327" width="21" height="11" fill="#ffc400"/>
<rect x="347" y="1327" width="21" height="11" fill="#ffc800"/>
<rect x="367" y="1327" width="31" height="11" fill="#ffcc00"/>
<rect x="397" y="1327" width="11" height="11" fill="#ffd000"/>
<rect x="407" y="1327" width="11" height="11" fill="#ffd400"/>
<rect x="417" y="1327" width="11" height="11" fill="#ffdc00"/>
<rect x="427" y="1327" width="11" height="11" fill="#ffe000"/>
<rect x="437" y="1327" width="11" height="11" fill="#ffe400"/>
<rect x="447" y="1327" width="11" height="11" fill="#fce800"/>
<rect x="457" y="1327" width="11" height="11" fill="#fcec00"/>
<rect x="467" y="1327" width="11" height="11" fill="#f8f000"/>
<rect x="477" y="1327" width="11" height="11" fill="#f8f400"/>
<rect x="487" y="1327" width="11" height="11" fill="#f4f800"/>
<rect x="497" y="1327" width="11" height="11" fill="#f0fc00"/>
<rect x="507" y="1327" width="11" height="11" fill="#ecfc00"/>
<rect x="517" y="1327" width="11" height="11" fill="#e8fc00"/>
<rect x="527" y="1327" width="11" height="11" fill="#e4fc00"/>
<rect x="537" y="1327" width="11" height="11" fill="#e0fc00"/>
<rect x="547" y="1327" width="11" height="11" fill="#d8ff00"/>
<rect x="557" y="1327" width="11" height="11" fill="#ccff00"/>
<rect x="567" y="1327" width="11" height="11" fill="#c0ff00"/>
<rect x="577" y="1327" width="11" height="11" fill="#b0ff00"/>
<rect x="587" y="1327" width="11" height="11" fill="#9cff00"/>
<rect x="597" y="1327" width="11" height="11" fill="#88ff00"/>
<rect x="607" y="1327" width="11" height="11" fill="#74ff00"/>
<rect x="617" y="1327" width="11" height="11" fill="#5cff00"/>
<rect x="627" y="1327" width="11" height="11" fill="#4cff00"/>
<rect x="637" y="1327" width="11" height="11" fill="#40ff00"/>
<rect x="647" y="1327" width="21" height="11" fill="#44ff00"/>
<rect x="137" y="1337" width="61" height="11" fill="#ffc400"/>
<rect x="197" y="1337" width="61" height="11" fill="#ffc800"/>
<rect x="257" y="1337" width="31" height="11" fill="#ffcc00"/>
<rect x="287" y="1337" width="21" height="11" fill="#ffd000"/>
<rect x="307" y="1337" width="21" height="11" fill="#ffd400"/>
<rect x="327" y="1337" width="21" height="11" fill="#ffd800"/>
<rect x="347" y="1337" width="21" height="11" fill="#ffdc00"/>
<rect x="367" y="1337" width="21" height="11" fill="#ffe000"/>
<rect x="387" y="1337" width="21" height="11" fill="#ffe400"/>
<rect x="407" y="1337" width="11" height="11" fill="#fce800"/>
<rect x="417" y="1337" width="11" height="11" fill="#fcf000"/>
<rect x="427" y="1337" width="11" height="11" fill="#f8f400"/>
<rect x="437" y="1337" width="11" height="11" fill="#f8f800"/>
<rect x="447" y="1337" width="11" height="11" fill="#f4fc00"/>
<rect x="457" y="1337" width="11" height="11" fill="#f0fc00"/>
<rect x="467" y="1337" width="11" height="11" fill="#e8fc00"/>
<rect x="477" y="1337" width="11" height="11" fill="#e4fc00"/>
<rect x="487" y="1337" width="11" height="11" fill="#e0fc00"/>
<rect x="497" y="1337" width="11" height="11" fill="#d8ff00"/>
<rect x="507" y="1337" width="11" height="11" fill="#ccff00"/>
<rect x="517" y="1337" width="11" height="11" fill="#c0ff00"/>
<rect x="527" y="1337" width="11" height="11" fill="#b0ff00"/>
<rect x="537" y="1337" width="11" height="11" fill="#9cff00"/>
<rect x="547" y="1337" width="11" height="11" fill="#88ff00"/>
<rect x="557" y="1337" width="11" height="11" fill="#74ff00"/>
<rect x="567" y="1337" width="11" height="11" fill="#60ff00"/>
<rect x="577" y="1337" width="11" height="11" fill="#4cff00"/>
<rect x="587" y="1337" width="11" height="11" fill="#3cff00"/>
<rect x="597" y="1337" width="11" height="11" fill="#2cff00"/>
<rect x="607" y="1337" width="11" height="11" fill="#20ff00"/>
<rect x="617" y="1337" width="11" height="11" fill="#1cfc04"/>
<rect x="627" y="1337" width="11" height="11" fill="#18fc0c"/>
<rect x="637" y="1337" width="11" height="11" fill="#1cfc18"/>
<rect x="647" y="1337" width="21" height="11" fill="#24fc1c"/>
<rect x="137" y="1347" width="31" height="11" fill="#ffdc00"/>
<rect x="167" y="1347" width="61" height="11" fill="#ffe000"/>
<rect x="227" y="1347" width="51" height="11" fill="#ffe400"/>
<rect x="277" y="1347" width="21" height="11" fill="#ffe800"/>
<rect x="297" y="1347" width="11" height="11" fill="#fce800"/>
<rect x="307" y="1347" width="31" height="11" fill="#fcec00"/>
<rect x="337" y="1347" width="21" height="11" fill="#fcf000"/>
<rect x="357" y="1347" width="11" height="11" fill="#f8f000"/>
<rect x="367" y="1347" width="31" height="11" fill="#f8f400"/>
<rect x="397" y="1347" width="11" height="11" fill="#f8f800"/>
<rect x="407" y="1347" width="11" height="11" fill="#f4fc00"/>
<rect x="417" y="1347" width="11" height="11" fill="#ecfc00"/>
<rect x="427" y="1347" width="11" height="11" fill="#e8fc00"/>
<rect x="437" y="1347" width="11" height="11" fill="#e0fc00"/>
<rect x="447" y="1347" width="11" height="11" fill="#d8ff00"/>
<rect x="457" y="1347" width="11" height="11" fill="#d0ff00"/>
<rect x="467" y="1347" width="11" height="11" fill="#c0ff00"/>
<rect x="477" y="1347" width="11" height="11" fill="#b0ff00"/>
<rect x="487" y="1347" width="11" height="11" fill="#a0ff00"/>
<rect x="497" y="1347" width="11" height="11" fill="#8cff00"/>
<rect x="507" y="1347" width="11" height="11" fill="#78ff00"/>
<rect x="517" y="1347" width="11" height="11" fill="#64ff00"/>
<rect x="527" y="1347" width="11" height="11" fill="#50ff00"/>
<rect x="537" y="1347" width="11" height="11" fill="#3cff00"/>
<rect x="547" y="1347" width="11" height="11" fill="#2cff00"/>
<rect x="557" y="1347" width="11" height="11" fill="#20ff00"/>
<rect x="567" y="1347" width="11" height="11" fill="#1cfc04"/>
<rect x="577" y="1347" width="11" height="11" fill="#14f804"/>
<rect x="587" y="1347" width="11" height="11" fill="#10f808"/>
<rect x="597" y="1347" width="11" height="11" fill="#10f810"/>
<rect x="607" y="1347" width="11" height="11" fill="#10f41c"/>
<rect x="617" y="1347" width="11" height="11" fill="#18f430"/>
<rect x="627" y="1347" width="11" height="11" fill="#20f848"/>
<rect x="637" y="1347" width="11" height="11" fill="#30f864"/>
<rect x="647" y="1347" width="21" height="11" fill="#34fc6c"/>
<rect x="137" y="1357" width="71" height="11" fill="#f8f400"/>
<rect x="207" y="1357" width="41" height="11" fill="#f8f800"/>
<rect x="247" y="1357" width="31" height="11" fill="#f4f800"/>
<rect x="277" y="1357" width="21" height="11" fill="#f4fc00"/>
<rect x="297" y="1357" width="31" height="11" fill="#f0fc00"/>
<rect x="327" y="1357" width="21" height="11" fill="#ecfc00"/>
<rect x="347" y="1357" width="21" height="11" fill="#e8fc00"/>
<rect x="367" y="1357" width="11" height="11" fill="#e4fc00"/>
<rect x="377" y="1357" width="11" height="11" fill="#e0fc00"/>
<rect x="387" y="1357" width="11" height="11" fill="#dcff00"/>
<rect x="397" y="1357" width="11" height="11" fill="#d8ff00"/>
<rect x="407" y="1357" width="11" height="11" fill="#d0ff00"/>
<rect x="417" y="1357" width="11" height="11" fill="#c4ff00"/>
<rect x="427" y="1357" width="11" height="11" fill="#b4ff00"/>
<rect x="437" y="1357" width="11" height="11" fill="#a4ff00"/>
<rect x="447" y="1357" width="11" height="11" fill="#90ff00"/>
<rect x="457" y="1357" width="11" height="11" fill="#78ff00"/>
<rect x="467" y="1357" width="11" height="11" fill="#64ff00"/>
<rect x="477" y="1357" width="11" height="11" fill="#50ff00"/>
<rect x="487" y="1357" width="11" height="11" fill="#40ff00"/>
<rect x="497" y="1357" width="11" height="11" fill="#30ff00"/>
<rect x="507" y="1357" width="11" height="11" fill="#24ff00"/>
<rect x="517" y="1357" width="11" height="11" fill="#1cfc04"/>
<rect x="527" y="1357" width="11" height="11" fill="#14f804"/>
<rect x="537" y="1357" width="11" height="11" fill="#10f808"/>
<rect x="547" y="1357" width="11" height="11" fill="#0cf808"/>
<rect x="557" y="1357" width="11" height="11" fill="#0cf40c"/>
<rect x="567" y="1357" width="11" height="11" fill="#0cf414"/>
<rect x="577" y="1357" width="11" height="11" fill="#0cf41c"/>
<rect x="587" y="1357" width="11" height="11" fill="#14f430"/>
<rect x="597" y="1357" width="11" height="11" fill="#1cf448"/>
<rect x="607" y="1357" width="11" height="11" fill="#28f864"/>
<rect x="617" y="1357" width="11" height="11" fill="#38f880"/>
<rect x="627" y="1357" width="11" height="11" fill="#40fc94"/>
<rect x="637" y="1357" width="31" height="11" fill="#48fca0"/>
<rect x="137" y="1367" width="51" height="11" fill="#e8fc00"/>
<rect x="187" y="1367" width="21" height="11" fill="#e4fc00"/>
<rect x="207" y="1367" width="31" height="11" fill="#e0fc00"/>
<rect x="237" y="1367" width="31" height="11" fill="#dcff00"/>
<rect x="267" y="1367" width="21" height="11" fill="#d8ff00"/>
<rect x="287" y="1367" width="11" height="11" fill="#d4ff00"/>
<rect x="297" y="1367" width="11" height="11" fill="#d0ff00"/>
<rect x="307" y="1367" width="11" height="11" fill="#ccff00"/>
<rect x="317" y="1367" width="11" height="11" fill="#c8ff00"/>
<rect x="327" y="1367" width="11" height="11" fill="#c0ff00"/>
<rect x="337" y="1367" width="11" height="11" fill="#bcff00"/>
<rect x="347" y="1367" width="11" height="11" fill="#b4ff00"/>
<rect x="357" y="1367" width="11" height="11" fill="#acff00"/>
<rect x="367" y="1367" width="11" height="11" fill="#a4ff00"/>
<rect x="377" y="1367" width="11" height="11" fill="#9cff00"/>
<rect x="387" y="1367" width="11" height="11" fill="#90ff00"/>
<rect x="397" y="1367" width="11" height="11" fill="#84ff00"/>
<rect x="407" y="1367" width="11" height="11" fill="#78ff00"/>
<rect x="417" y="1367" width="11" height="11" fill="#68ff00"/>
<rect x="427" y="1367" width="11" height="11" fill="#54ff00"/>
<rect x="437" y="1367" width="11" height="11" fill="#40ff00"/>
<rect x="447" y="1367" width="11" height="11" fill="#30ff00"/>
<rect x="457" y="1367" width="11" height="11" fill="#24ff00"/>
<rect x="467" y="1367" width="11" height="11" fill="#1cfc04"/>
<rect x="477" y="1367" width="11" height="11" fill="#14f804"/>
<rect x="487" y="1367" width="11" height="11" fill="#10f808"/>
<rect x="497" y="1367" width="11" height="11" fill="#0cf408"/>
<rect x="507" y="1367" width="21" height="11" fill="#08f40c"/>
<rect x="527" y="1367" width="11" height="11" fill="#08f410"/>
<rect x="537" y="1367" width="11" height="11" fill="#08f414"/>
<rect x="547" y="1367" width="11" height="11" fill="#08f41c"/>
<rect x="557" y="1367" width="11" height="11" fill="#10f42c"/>
<rect x="567" y="1367" width="11" height="11" fill="#1cf444"/>
<rect x="577" y="1367" width="11" height="11" fill="#28f860"/>
<rect x="587" y="1367" width="11" height="11" fill="#34f87c"/>
<rect x="597" y="1367" width="11" height="11" fill="#40fc90"/>
<rect x="607" y="1367" width="11" height="11" fill="#48fca0"/>
<rect x="617" y="1367" width="11" height="11" fill="#4cfca8"/>
<rect x="627" y="1367" width="41" height="11" fill="#4cfcac"/>
<rect x="137" y="1377" width="31" height="11" fill="#c0ff00"/>
<rect x="167" y="1377" width="11" height="11" fill="#bcff00"/>
<rect x="177" y="1377" width="21" height="11" fill="#b8ff00"/>
<rect x="197" y="1377" width="11" height="11" fill="#b4ff00"/>
<rect x="207" y="1377" width="11" height="11" fill="#b0ff00"/>
<rect x="217" y="1377" width="21" height="11" fill="#acff00"/>
<rect x="237" y="1377" width="11" height="11" fill="#a8ff00"/>
<rect x="247" y="1377" width="11" height="11" fill="#a4ff00"/>
<rect x="257" y="1377" width="11" height="11" fill="#a0ff00"/>
<rect x="267" y="1377" width="11" height="11" fill="#9cff00"/>
<rect x="277" y="1377" width="11" height="11" fill="#98ff00"/>
<rect x="287" y="1377" width="11" height="11" fill="#94ff00"/>
<rect x="297" y="1377" width="11" height="11" fill="#90ff00"/>
<rect x="307" y="1377" width="11" height="11" fill="#88ff00"/>
<rect x="317" y="1377" width="11" height="11" fill="#80ff00"/>
<rect x="327" y="1377" width="11" height="11" fill="#78ff00"/>
<rect x="337" y="1377" width="11" height="11" fill="#70ff00"/>
<rect x="347" y="1377" width="11" height="11" fill="#68ff00"/>
<rect x="357" y="1377" width="11" height="11" fill="#5cff00"/>
<rect x="367" y="1377" width="11" height="11" fill="#50ff00"/>
<rect x="377" y="1377" width="11" height="11" fill="#48ff00"/>
<rect x="387" y="1377" width="11" height="11" fill="#3cff00"/>
<rect x="397" y="1377" width="11" height="11" fill="#34ff00"/>
<rect x="407" y="1377" width="11" height="11" fill="#2cff00"/>
<rect x="417" y="1377" width="11" height="11" fill="#20ff00"/>
<rect x="427" y="1377" width="11" height="11" fill="#1cfc04"/>
<rect x="437" y="1377" width="11" height="11" fill="#14fc04"/>
<rect x="447" y="1377" width="21" height="11" fill="#10f808"/>
<rect x="467" y="1377" width="11" height="11" fill="#0cf408"/>
<rect x="477" y="1377" width="11" height="11" fill="#0cf40c"/>
<rect x="487" y="1377" width="21" height="11" fill="#08f40c"/>
<rect x="507" y="1377" width="11" height="11" fill="#08f410"/>
<rect x="517" y="1377" width="11" height="11" fill="#0cf41c"/>
<rect x="527" y="1377" width="11" height="11" fill="#14f42c"/>
<rect x="537" y="1377" width="11" height="11" fill="#1cf440"/>
<rect x="547" y="1377" width="11" height="11" fill="#28f85c"/>
<rect x="557" y="1377" width="11" height="11" fill="#34f878"/>
<rect x="567" y="1377" width="11" height="11" fill="#40fc90"/>
<rect x="577" y="1377" width="11" height="11" fill="#48fca0"/>
<rect x="587" y="1377" width="11" height="11" fill="#4cfca8"/>
<rect x="597" y="1377" width="31" height="11" fill="#4cfcac"/>
<rect x="627" y="1377" width="11" height="11" fill="#48f0b0"/>
<rect x="637" y="1377" width="11" height="11" fill="#44d4b8"/>
<rect x="647" y="1377" width="21" height="11" fill="#40c4c0"/>
<rect x="137" y="1387" width="21" height="11" fill="#94ff00"/>
<rect x="157" y="1387" width="31" height="11" fill="#90ff00"/>
<rect x="187" y="1387" width="21" height="11" fill="#8cff00"/>
<rect x="207" y="1387" width="31" height="11" fill="#88ff00"/>
<rect x="237" y="1387" width="21" height="11" fill="#84ff00"/>
<rect x="257" y="1387" width="31" height="11" fill="#80ff00"/>
<rect x="287" y="1387" width="11" height="11" fill="#7cff00"/>
<rect x="297" y="1387" width="11" height="11" fill="#78ff00"/>
<rect x="307" y="1387" width="11" height="11" fill="#70ff00"/>
<rect x="317" y="1387" width="11" height="11" fill="#68ff00"/>
<rect x="327" y="1387" width="11" height="11" fill="#60ff00"/>
<rect x="337" y="1387" width="11" height="11" fill="#58ff00"/>
<rect x="347" y="1387" width="11" height="11" fill="#4cff00"/>
<rect x="357" y="1387" width="11" height="11" fill="#44ff00"/>
<rect x="367" y="1387" width="11" height="11" fill="#3cff00"/>
<rect x="377" y="1387" width="11" height="11" fill="#34ff00"/>
<rect x="387" y="1387" width="11" height="11" fill="#30ff00"/>
<rect x="397" y="1387" width="11" height="11" fill="#28ff00"/>
<rect x="407" y="1387" width="11" height="11" fill="#24ff00"/>
<rect x="417" y="1387" width="11" height="11" fill="#20ff00"/>
<rect x="427" y="1387" width="11" height="11" fill="#1cfc00"/>
<rect x="437" y="1387" width="11" height="11" fill="#1cfc04"/>
<rect x="447" y="1387" width="31" height="11" fill="#18fc04"/>
<rect x="477" y="1387" width="11" height="11" fill="#14fc04"/>
<rect x="487" y="1387" width="11" height="11" fill="#14fc08"/>
<rect x="497" y="1387" width="11" height="11" fill="#18fc10"/>
<rect x="507" y="1387" width="11" height="11" fill="#20fc28"/>
<rect x="517" y="1387" width="11" height="11" fill="#2cfc44"/>
<rect x="527" y="1387" width="11" height="11" fill="#34fc60"/>
<rect x="537" y="1387" width="11" height="11" fill="#3cfc78"/>
<rect x="547" y="1387" width="11" height="11" fill="#44fc88"/>
<rect x="557" y="1387" width="11" height="11" fill="#48fc90"/>
<rect x="567" y="1387" width="31" height="11" fill="#48fc98"/>
<rect x="597" y="1387" width="11" height="11" fill="#48f894"/>
<rect x="607" y="1387" width="11" height="11" fill="#40e49c"/>
<rect x="617" y="1387" width="11" height="11" fill="#3cc4ac"/>
<rect x="627" y="1387" width="11" height="11" fill="#349cc8"/>
<rect x="637" y="1387" width="11" height="11" fill="#3480dc"/>
<rect x="647" y="1387" width="21" height="11" fill="#3478e0"/>
<rect x="137" y="1397" width="11" height="11" fill="#88ff00"/>
<rect x="147" y="1397" width="31" height="11" fill="#8cff00"/>
<rect x="177" y="1397" width="41" height="11" fill="#88ff00"/>
<rect x="217" y="1397" width="31" height="11" fill="#84ff00"/>
<rect x="247" y="1397" width="41" height="11" fill="#80ff00"/>
<rect x="287" y="1397" width="11" height="11" fill="#7cff00"/>
<rect x="297" y="1397" width="11" height="11" fill="#78ff00"/>
<rect x="307" y="1397" width="11" height="11" fill="#74ff00"/>
<rect x="317" y="1397" width="11" height="11" fill="#68ff00"/>
<rect x="327" y="1397" width="11" height="11" fill="#60ff00"/>
<rect x="337" y="1397" width="11" height="11" fill="#58ff00"/>
<rect x="347" y="1397" width="11" height="11" fill="#50ff00"/>
<rect x="357" y="1397" width="11" height="11" fill="#48ff00"/>
<rect x="367" y="1397" width="11" height="11" fill="#40ff00"/>
<rect x="377" y="1397" width="11" height="11" fill="#38ff00"/>
<rect x="387" y="1397" width="11" height="11" fill="#34ff00"/>
<rect x="397" y="1397" width="11" height="11" fill="#2cff00"/>
<rect x="407" y="1397" width="11" height="11" fill="#28ff00"/>
<rect x="417" y="1397" width="21" height="11" fill="#24ff00"/>
<rect x="437" y="1397" width="21" height="11" fill="#20ff00"/>
<rect x="457" y="1397" width="11" height="11" fill="#1cff00"/>
<rect x="467" y="1397" width="21" height="11" fill="#1cfc00"/>
<rect x="487" y="1397" width="11" height="11" fill="#1cfc04"/>
<rect x="497" y="1397" width="11" height="11" fill="#20fc10"/>
<rect x="507" y="1397" width="11" height="11" fill="#28fc2c"/>
<rect x="517" y="1397" width="11" height="11" fill="#30fc48"/>
<rect x="527" y="1397" width="11" height="11" fill="#38fc60"/>
<rect x="537" y="1397" width="11" height="11" fill="#40fc74"/>
<rect x="547" y="1397" width="11" height="11" fill="#44ff80"/>
<rect x="557" y="1397" width="21" height="11" fill="#44ff84"/>
<rect x="577" y="1397" width="21" height="11" fill="#44fc84"/>
<rect x="597" y="1397" width="11" height="11" fill="#40f488"/>
<rect x="607" y="1397" width="11" height="11" fill="#3cd498"/>
<rect x="617" y="1397" width="11" height="11" fill="#34acb4"/>
<rect x="627" y="1397" width="11" height="11" fill="#348ccc"/>
<rect x="637" y="1397" width="11" height="11" fill="#347cdc"/>
<rect x="647" y="1397" width="21" height="11" fill="#307cdc"/>
<rect x="137" y="1407" width="11" height="11" fill="#88ff00"/>
<rect x="147" y="1407" width="31" height="11" fill="#8cff00"/>
<rect x="177" y="1407" width="41" height="11" fill="#88ff00"/>
<rect x="217" y="1407" width="31" height="11" fill="#84ff00"/>
<rect x="247" y="1407" width="41" height="11" fill="#80ff00"/>
<rect x="287" y="1407" width="11" height="11" fill="#7cff00"/>
<rect x="297" y="1407" width="11" height="11" fill="#78ff00"/>
<rect x="307" y="1407" width="11" height="11" fill="#74ff00"/>
<rect x="317" y="1407" width="11" height="11" fill="#68ff00"/>
<rect x="327" y="1407" width="11" height="11" fill="#60ff00"/>
<rect x="337" y="1407" width="11" height="11" fill="#58ff00"/>
<rect x="347" y="1407" width="11" height="11" fill="#50ff00"/>
<rect x="357" y="1407" width="11" height="11" fill="#48ff00"/>
<rect x="367" y="1407" width="11" height="11" fill="#40ff00"/>
<rect x="377" y="1407" width="11" height="11" fill="#38ff00"/>
<rect x="387" y="1407" width="11" height="11" fill="#34ff00"/>
<rect x="397" y="1407" width="11" height="11" fill="#2cff00"/>
<rect x="407" y="1407" width="11" height="11" fill="#28ff00"/>
<rect x="417" y="1407" width="21" height="11" fill="#24ff00"/>
<rect x="437" y="1407" width="21" height="11" fill="#20ff00"/>
<rect x="457" y="1407" width="11" height="11" fill="#1cff00"/>
<rect x="467" y="1407" width="21" height="11" fill="#1cfc00"/>
<rect x="487" y="1407" width="11" height="11" fill="#1cfc04"/>
<rect x="497" y="1407" width="11" height="11" fill="#20fc10"/>
<rect x="507" y="1407" width="11" height="11" fill="#28fc2c"/>
<rect x="517" y="1407" width="11" height="11" fill="#30fc48"/>
<rect x="527" y="1407" width="11" height="11" fill="#38fc60"/>
<rect x="537" y="1407" width="11" height="11" fill="#40fc74"/>
<rect x="547" y="1407" width="11" height="11" fill="#44ff80"/>
<rect x="557" y="1407" width="21" height="11" fill="#44ff84"/>
<rect x="577" y="1407" width="21" height="11" fill="#44fc84"/>
<rect x="597" y="1407" width="11" height="11" fill="#40f488"/>
<rect x="607" y="1407" width="11" height="11" fill="#3cd498"/>
<rect x="617" y="1407" width="11" height="11" fill="#34acb4"/>
<rect x="627" y="1407" width="11" height="11" fill="#348ccc"/>
<rect x="637" y="1407" width="11" height="11" fill="#347cdc"/>
<rect x="647" y="1407" width="21" height="11" fill="#307cdc"/>
</g></g>
<rect x="147" y="147" width="499" height="1248" fill="none" stroke="#4a2c1e" stroke-width="2.4"/>
<g clip-path="url(#pc2)" class="dash"><path d="M147.0 440.5 C153.8 439.7 186.6 436.4 198.0 434.7 C209.4 433.0 223.0 430.0 232.5 427.8 C242.0 425.6 259.6 421.0 269.5 418.5 C279.4 416.0 297.0 411.5 306.5 409.3 C316.0 407.1 331.1 403.8 341.0 402.3 C350.9 400.8 370.4 398.5 380.6 397.7 C390.8 396.9 407.7 396.2 417.6 396.1 C427.5 396.0 444.7 396.4 454.6 396.6 C464.5 396.8 481.7 397.3 491.6 397.7 C501.5 398.1 518.7 398.4 528.6 399.3 C538.5 400.2 555.7 402.9 565.6 404.7 C575.5 406.5 593.3 410.2 602.6 412.8 C611.9 415.4 629.3 421.8 635.0 424.3 C640.7 426.8 643.7 430.4 645.0 431.3 L645.0 523.8 C639.3 524.1 613.2 525.2 602.6 526.1 C592.0 527.0 576.1 529.6 565.6 530.7 C555.1 531.8 534.5 533.6 524.0 534.2 C513.5 534.8 496.9 535.2 487.0 535.0 C477.1 534.8 459.9 533.9 450.0 533.0 C440.1 532.1 422.9 530.2 413.0 528.4 C403.1 526.6 385.6 521.4 376.0 519.2 C366.4 517.0 350.3 514.4 341.0 512.2 C331.7 510.0 316.0 505.4 306.5 503.0 C297.0 500.6 276.9 495.2 269.5 494.0 C262.1 492.8 255.9 492.8 251.0 493.7 C246.1 494.6 239.6 497.6 232.5 500.7 C225.4 503.8 207.3 514.3 198.0 516.9 C188.7 519.5 169.8 519.7 163.0 520.3 C156.2 520.9 149.1 521.3 147.0 521.5 L149 521.5 L149 440.5"/><path d="M149.5 611 L149.5 670"/><path d="M148.8 611.0 C150.0 611.5 164.1 617.5 166.4 618.4 C168.7 619.3 181.7 624.3 184.0 625.2 C186.3 626.1 199.2 631.1 201.6 632.0 C204.0 632.9 218.1 637.6 220.0 638.5 C221.9 639.4 229.6 645.0 230.0 645.8 C230.4 646.6 227.3 649.8 226.0 650.7 C224.7 651.6 212.7 658.4 210.5 659.5 C208.3 660.6 195.1 666.3 192.8 667.3 C190.5 668.3 178.5 673.1 176.2 674.0 C173.9 674.9 158.8 680.1 157.6 680.5"/><path d="M300.0 895.0 C304.4 893.7 335.9 884.5 344.0 882.0 C352.1 879.5 373.9 872.1 381.0 870.0 C388.1 867.9 407.9 862.6 415.0 861.0 C422.1 859.4 444.7 856.1 452.0 854.0 C459.3 851.9 483.2 841.7 488.0 840.0 C492.8 838.3 496.5 836.5 500.0 837.0 C503.5 837.5 517.3 842.6 523.0 845.0 C528.7 847.4 550.2 857.8 557.0 861.0 C563.8 864.2 583.1 874.4 591.0 877.5 C598.9 880.6 631.5 890.5 636.0 892.0 L636.0 891.0 C632.2 891.6 606.5 896.0 598.0 897.0 C589.5 898.0 559.1 899.9 551.0 900.5 C542.9 901.1 523.8 902.6 517.0 903.0 C510.2 903.4 490.6 904.2 483.0 904.5 C475.4 904.8 449.1 905.9 441.0 906.0 C432.9 906.1 409.6 906.2 402.0 906.0 C394.4 905.8 372.1 904.5 365.0 904.0 C357.9 903.5 335.7 901.7 331.0 901.0 C326.3 900.3 319.3 897.4 318.0 897.0"/><path d="M149.5 991 L149.5 1048"/><path d="M149.8 990.8 C151.6 991.3 163.7 995.0 167.4 995.7 C171.1 996.4 181.2 997.8 187.0 998.0 C192.8 998.2 219.4 997.8 225.0 998.0 C230.6 998.2 239.1 999.8 242.7 1000.0 C246.3 1000.2 257.6 1000.1 261.3 1000.5 C265.0 1000.9 276.3 1003.2 280.0 1004.0 C283.7 1004.8 294.8 1007.2 298.5 1008.0 C302.2 1008.8 313.9 1010.5 317.0 1011.8 C320.1 1013.1 328.5 1020.1 329.8 1021.0 L329.8 1021.0 C327.9 1021.8 314.8 1027.7 311.2 1029.0 C307.6 1030.3 297.2 1032.8 293.6 1033.8 C290.0 1034.8 278.7 1037.9 275.0 1038.7 C271.3 1039.5 260.1 1041.2 256.4 1041.6 C252.7 1042.0 241.4 1042.6 237.8 1043.1 C234.2 1043.6 223.8 1045.7 220.2 1046.5 C216.6 1047.3 205.2 1050.5 201.6 1051.4 C198.0 1052.3 187.6 1054.4 184.0 1055.3 C180.4 1056.2 169.1 1059.2 165.4 1060.2 C161.7 1061.2 148.8 1064.5 147.0 1065.0"/><path d="M147.0 1378.0 C160.3 1376.5 199.3 1370.8 227.0 1369.0 C254.7 1367.2 284.2 1367.8 313.0 1367.0 C341.8 1366.2 380.5 1365.3 400.0 1364.0 C419.5 1362.7 415.5 1362.2 430.0 1359.0 C444.5 1355.8 463.0 1350.8 487.0 1345.0 C511.0 1339.2 548.0 1329.3 574.0 1324.0 C600.0 1318.7 631.5 1314.8 643.0 1313.0 L645 1395"/><path d="M147 1394 L648 1394"/></g>
<g stroke="#707070" stroke-width="3.2"><line x1="123" y1="147.0" x2="147" y2="147.0"/><line x1="130" y1="172.0" x2="147" y2="172.0"/><line x1="130" y1="196.9" x2="147" y2="196.9"/><line x1="130" y1="221.9" x2="147" y2="221.9"/><line x1="130" y1="246.8" x2="147" y2="246.8"/><line x1="123" y1="271.8" x2="147" y2="271.8"/><line x1="130" y1="296.8" x2="147" y2="296.8"/><line x1="130" y1="321.7" x2="147" y2="321.7"/><line x1="130" y1="346.7" x2="147" y2="346.7"/><line x1="130" y1="371.6" x2="147" y2="371.6"/><line x1="123" y1="396.6" x2="147" y2="396.6"/><line x1="130" y1="421.6" x2="147" y2="421.6"/><line x1="130" y1="446.5" x2="147" y2="446.5"/><line x1="130" y1="471.5" x2="147" y2="471.5"/><line x1="130" y1="496.4" x2="147" y2="496.4"/><line x1="123" y1="521.4" x2="147" y2="521.4"/><line x1="130" y1="546.4" x2="147" y2="546.4"/><line x1="130" y1="571.3" x2="147" y2="571.3"/><line x1="130" y1="596.3" x2="147" y2="596.3"/><line x1="130" y1="621.2" x2="147" y2="621.2"/><line x1="123" y1="646.2" x2="147" y2="646.2"/><line x1="130" y1="671.2" x2="147" y2="671.2"/><line x1="130" y1="696.1" x2="147" y2="696.1"/><line x1="130" y1="721.1" x2="147" y2="721.1"/><line x1="130" y1="746.0" x2="147" y2="746.0"/><line x1="123" y1="771.0" x2="147" y2="771.0"/><line x1="130" y1="796.0" x2="147" y2="796.0"/><line x1="130" y1="820.9" x2="147" y2="820.9"/><line x1="130" y1="845.9" x2="147" y2="845.9"/><line x1="130" y1="870.8" x2="147" y2="870.8"/><line x1="123" y1="895.8" x2="147" y2="895.8"/><line x1="130" y1="920.8" x2="147" y2="920.8"/><line x1="130" y1="945.7" x2="147" y2="945.7"/><line x1="130" y1="970.7" x2="147" y2="970.7"/><line x1="130" y1="995.6" x2="147" y2="995.6"/><line x1="123" y1="1020.6" x2="147" y2="1020.6"/><line x1="130" y1="1045.6" x2="147" y2="1045.6"/><line x1="130" y1="1070.5" x2="147" y2="1070.5"/><line x1="130" y1="1095.5" x2="147" y2="1095.5"/><line x1="130" y1="1120.4" x2="147" y2="1120.4"/><line x1="123" y1="1145.4" x2="147" y2="1145.4"/><line x1="130" y1="1170.4" x2="147" y2="1170.4"/><line x1="130" y1="1195.3" x2="147" y2="1195.3"/><line x1="130" y1="1220.3" x2="147" y2="1220.3"/><line x1="130" y1="1245.2" x2="147" y2="1245.2"/><line x1="123" y1="1270.2" x2="147" y2="1270.2"/><line x1="130" y1="1295.2" x2="147" y2="1295.2"/><line x1="130" y1="1320.1" x2="147" y2="1320.1"/><line x1="130" y1="1345.1" x2="147" y2="1345.1"/><line x1="130" y1="1370.0" x2="147" y2="1370.0"/><line x1="123" y1="1395.0" x2="147" y2="1395.0"/><line x1="147.4" y1="1395" x2="147.4" y2="1419"/><line x1="271.2" y1="1395" x2="271.2" y2="1419"/><line x1="396.5" y1="1395" x2="396.5" y2="1419"/><line x1="521.0" y1="1395" x2="521.0" y2="1419"/><line x1="645.7" y1="1395" x2="645.7" y2="1419"/></g>
<rect x="726" y="185" width="81" height="1257" fill="url(#cb)"/>
<rect x="999.5" y="123" width="158" height="96" fill="#de6c56" stroke="#111" stroke-width="4.5"/>
<rect x="999.5" y="262.5" width="158" height="97" fill="#f5b294" stroke="#111" stroke-width="4.5"/>
<rect x="1521" y="149" width="501" height="1249" fill="#fff"/><rect x="1521" y="324" width="501" height="212" fill="#de6c56"/><rect x="1521" y="724" width="501" height="148" fill="#f5b294"/><rect x="1521" y="997" width="501" height="325" fill="#f5b294"/><path d="M1517.0 448.0 C1530.2 445.3 1574.8 436.7 1596.0 432.0 C1617.2 427.3 1626.0 424.5 1644.0 420.0 C1662.0 415.5 1684.0 408.3 1704.0 405.0 C1724.0 401.7 1744.0 401.2 1764.0 400.0 C1784.0 398.8 1802.0 397.7 1824.0 398.0 C1846.0 398.3 1874.0 399.3 1896.0 402.0 C1918.0 404.7 1935.5 409.2 1956.0 414.0 C1976.5 418.8 2008.5 428.2 2019.0 431.0 L2024 446 L2025 514 L2019.0 524.0 C2008.5 525.7 1974.5 532.0 1956.0 534.0 C1937.5 536.0 1928.0 535.5 1908.0 536.0 C1888.0 536.5 1854.0 537.3 1836.0 537.0 C1818.0 536.7 1816.0 537.0 1800.0 534.0 C1784.0 531.0 1756.0 523.5 1740.0 519.0 C1724.0 514.5 1720.0 511.2 1704.0 507.0 C1688.0 502.8 1658.0 495.7 1644.0 494.0 C1630.0 492.3 1630.0 494.0 1620.0 497.0 C1610.0 500.0 1599.2 507.7 1584.0 512.0 C1568.8 516.3 1538.2 521.2 1529.0 523.0 L1529 486 L1521 466 Z" fill="#ae9488" class="dot"/><path d="M1522.0 612.0 C1524.2 613.1 1586.9 643.7 1587.0 646.0 C1587.1 648.3 1528.0 679.8 1526.0 681.0 Z" fill="#bddcda" class="dot"/><path d="M1695 872 L1695.0 872.0 C1705.8 868.7 1735.8 858.3 1760.0 852.0 C1784.2 845.7 1822.5 838.2 1840.0 834.0 C1857.5 829.8 1853.2 825.5 1865.0 827.0 C1876.8 828.5 1892.0 835.5 1911.0 843.0 C1930.0 850.5 1967.7 867.2 1979.0 872.0 Z" fill="#b8ae9f"/><path d="M1654 884 L1695 873.5 L2018 873.5 L2018.0 875.0 C2013.3 875.8 2007.8 877.3 1990.0 880.0 C1972.2 882.7 1941.8 888.3 1911.0 891.0 C1880.2 893.7 1840.5 895.7 1805.0 896.0 C1769.5 896.3 1723.2 895.0 1698.0 893.0 C1672.8 891.0 1661.3 885.5 1654.0 884.0 Z" fill="#bddcda"/><path d="M1654 884 L1695 872 L1695.0 872.0 C1705.8 868.7 1735.8 858.3 1760.0 852.0 C1784.2 845.7 1822.5 838.2 1840.0 834.0 C1857.5 829.8 1853.2 825.5 1865.0 827.0 C1876.8 828.5 1892.0 835.5 1911.0 843.0 C1930.0 850.5 1967.7 867.2 1979.0 872.0 L2018 875 L2018.0 875.0 C2013.3 875.8 2007.8 877.3 1990.0 880.0 C1972.2 882.7 1941.8 888.3 1911.0 891.0 C1880.2 893.7 1840.5 895.7 1805.0 896.0 C1769.5 896.3 1723.2 895.0 1698.0 893.0 C1672.8 891.0 1661.3 885.5 1654.0 884.0 Z" fill="none" class="dot"/><path d="M1521 997 L1627 1001 C1660 1006 1690 1014 1693 1019 C1690 1026 1680 1031 1670 1035 L1592 1049 L1521 1067 Z" fill="#b8ae9f" class="dot"/><path d="M1521 1378 L1789 1372 C1820 1368 1840 1360 1869 1352 L1949 1336 L2009 1322 L2017 1322 L2017 1398 L1521 1400 Z" fill="#bddcda" class="dot"/>
<g stroke="#111" stroke-width="4"><line x1="1472" y1="323.7" x2="2053" y2="323.7"/><line x1="1472" y1="536.0" x2="2053" y2="536.0"/><line x1="1472" y1="724.0" x2="2053" y2="724.0"/><line x1="1472" y1="872.4" x2="2053" y2="872.4"/><line x1="1472" y1="934.6" x2="2053" y2="934.6"/><line x1="1472" y1="997.0" x2="2053" y2="997.0"/><line x1="1472" y1="1160.8" x2="2053" y2="1160.8"/><line x1="1472" y1="1322.5" x2="2053" y2="1322.5"/><line x1="1475" y1="1397.7" x2="2053" y2="1397.7"/></g>
<rect x="1521.5" y="149" width="501" height="1249" fill="none" stroke="#111" stroke-width="4"/>
<rect x="995" y="419" width="505" height="101" fill="#bddcda"/><rect x="1000" y="597" width="501" height="101" fill="#bddcda"/><rect x="1000" y="818" width="503" height="98" fill="#bddcda"/><rect x="995" y="1012" width="506" height="100" fill="#bddcda"/><rect x="998" y="1278" width="502" height="97" fill="#bddcda"/>
<circle cx="1520" cy="1395.5" r="24" fill="none" stroke="#e8141a" stroke-width="3.6"/>
<text class="hl" x="174.00" y="367.5" textLength="453.02" lengthAdjust="spacingAndGlyphs">Abnormal area M</text><text class="hl" x="185.00" y="611.0" textLength="442.01" lengthAdjust="spacingAndGlyphs">Abnormal area N</text><text class="hl" x="188.99" y="819.7" textLength="445.04" lengthAdjust="spacingAndGlyphs">Abnormal area O</text><text class="hl" x="190.00" y="1109.0" textLength="433.01" lengthAdjust="spacingAndGlyphs">Abnormal area P</text><text class="hl" x="181.00" y="1292.5" textLength="442.01" lengthAdjust="spacingAndGlyphs">Abnormal area Q</text><text class="ab" x="1030.00" y="491.6" textLength="437.01" lengthAdjust="spacingAndGlyphs">Abnormal area M</text><text class="ab" x="1037.00" y="670.5" textLength="425.00" lengthAdjust="spacingAndGlyphs">Abnormal area N</text><text class="ab" x="1037.00" y="892.0" textLength="428.01" lengthAdjust="spacingAndGlyphs">Abnormal area O</text><text class="ab" x="1042.00" y="1085.5" textLength="415.01" lengthAdjust="spacingAndGlyphs">Abnormal area P</text><text class="ab" x="1039.00" y="1350.5" textLength="423.00" lengthAdjust="spacingAndGlyphs">Abnormal area Q</text><text class="cap" x="239.97" y="1555.4" textLength="503.49" lengthAdjust="spacingAndGlyphs">(a) Inversion results</text><text class="cap" x="1414.97" y="1557.0" textLength="384.88" lengthAdjust="spacingAndGlyphs">(b) Profile map</text><text class="gt" x="681.97" y="70.7" textLength="270.47" lengthAdjust="spacingAndGlyphs">Resistivity</text><text class="gt" x="742.88" y="146.8" textLength="163.24" lengthAdjust="spacingAndGlyphs">(Ω·m)</text><text class="lg" x="1188.99" y="160.0" textLength="284.62" lengthAdjust="spacingAndGlyphs">Block cementing</text><text class="lg" x="1187.95" y="209.7" textLength="183.55" lengthAdjust="spacingAndGlyphs">filling area</text><text class="lg" x="1185.95" y="321.0" textLength="202.36" lengthAdjust="spacingAndGlyphs">Caving area</text><text class="bt" x="1722.96" y="443.7" textLength="95.12" lengthAdjust="spacingAndGlyphs">IV15</text><text class="bt" x="1722.00" y="815.0" textLength="97.09" lengthAdjust="spacingAndGlyphs">T501</text><text class="bt" x="1720.99" y="1096.8" textLength="98.07" lengthAdjust="spacingAndGlyphs">T501</text><text class="bt" x="1720.97" y="1258.0" textLength="97.13" lengthAdjust="spacingAndGlyphs">T501</text><text class="dl" x="2071.84" y="347.7" textLength="106.69" lengthAdjust="spacingAndGlyphs">472</text><text class="dl" x="2175.94" y="347.7" textLength="37.79" lengthAdjust="spacingAndGlyphs">m</text><text class="dl" x="2071.86" y="560.0" textLength="104.54" lengthAdjust="spacingAndGlyphs">455</text><text class="dl" x="2175.94" y="560.0" textLength="37.79" lengthAdjust="spacingAndGlyphs">m</text><text class="dl" x="2071.86" y="748.0" textLength="104.54" lengthAdjust="spacingAndGlyphs">440</text><text class="dl" x="2175.94" y="748.0" textLength="37.79" lengthAdjust="spacingAndGlyphs">m</text><text class="dl" x="2071.86" y="896.4" textLength="104.54" lengthAdjust="spacingAndGlyphs">428</text><text class="dl" x="2175.94" y="896.4" textLength="37.79" lengthAdjust="spacingAndGlyphs">m</text><text class="dl" x="2071.86" y="958.6" textLength="104.54" lengthAdjust="spacingAndGlyphs">423</text><text class="dl" x="2175.94" y="958.6" textLength="37.79" lengthAdjust="spacingAndGlyphs">m</text><text class="dl" x="2071.86" y="1021.0" textLength="104.54" lengthAdjust="spacingAndGlyphs">418</text><text class="dl" x="2175.94" y="1021.0" textLength="37.79" lengthAdjust="spacingAndGlyphs">m</text><text class="dl" x="2071.86" y="1184.8" textLength="104.54" lengthAdjust="spacingAndGlyphs">405</text><text class="dl" x="2175.94" y="1184.8" textLength="37.79" lengthAdjust="spacingAndGlyphs">m</text><text class="dl" x="2069.70" y="1346.5" textLength="107.89" lengthAdjust="spacingAndGlyphs">392</text><text class="dl" x="2175.94" y="1346.5" textLength="37.79" lengthAdjust="spacingAndGlyphs">m</text><text class="dl" x="2069.73" y="1421.7" textLength="106.69" lengthAdjust="spacingAndGlyphs">386</text><text class="dl" x="2175.94" y="1421.7" textLength="37.79" lengthAdjust="spacingAndGlyphs">m</text><text class="ax" x="810.65" y="232.8" textLength="107.63" lengthAdjust="spacingAndGlyphs">1480</text><text class="ax" x="810.65" y="309.5" textLength="107.63" lengthAdjust="spacingAndGlyphs">1400</text><text class="ax" x="810.65" y="386.2" textLength="107.63" lengthAdjust="spacingAndGlyphs">1320</text><text class="ax" x="810.65" y="462.9" textLength="107.63" lengthAdjust="spacingAndGlyphs">1240</text><text class="ax" x="810.65" y="539.6" textLength="107.63" lengthAdjust="spacingAndGlyphs">1160</text><text class="ax" x="810.65" y="616.3" textLength="107.63" lengthAdjust="spacingAndGlyphs">1080</text><text class="ax" x="810.65" y="693.0" textLength="107.63" lengthAdjust="spacingAndGlyphs">1000</text><text class="ax" x="809.52" y="769.7" textLength="84.87" lengthAdjust="spacingAndGlyphs">920</text><text class="ax" x="809.65" y="846.4" textLength="84.72" lengthAdjust="spacingAndGlyphs">840</text><text class="ax" x="809.66" y="923.1" textLength="84.70" lengthAdjust="spacingAndGlyphs">760</text><text class="ax" x="809.65" y="999.8" textLength="84.72" lengthAdjust="spacingAndGlyphs">680</text><text class="ax" x="809.65" y="1076.5" textLength="84.72" lengthAdjust="spacingAndGlyphs">600</text><text class="ax" x="809.52" y="1153.2" textLength="84.87" lengthAdjust="spacingAndGlyphs">520</text><text class="ax" x="811.80" y="1229.9" textLength="83.51" lengthAdjust="spacingAndGlyphs">440</text><text class="ax" x="810.70" y="1306.6" textLength="83.62" lengthAdjust="spacingAndGlyphs">360</text><text class="ax" x="810.79" y="1383.3" textLength="83.55" lengthAdjust="spacingAndGlyphs">280</text><text class="ax" x="810.79" y="1460.0" textLength="83.55" lengthAdjust="spacingAndGlyphs">200</text><text class="ax" x="26.72" y="164.0" textLength="96.51" lengthAdjust="spacingAndGlyphs">−100</text><text class="ax" x="50.70" y="288.8" textLength="72.60" lengthAdjust="spacingAndGlyphs">−90</text><text class="ax" x="50.70" y="413.6" textLength="72.60" lengthAdjust="spacingAndGlyphs">−80</text><text class="ax" x="50.70" y="538.4" textLength="72.60" lengthAdjust="spacingAndGlyphs">−70</text><text class="ax" x="50.70" y="663.2" textLength="72.60" lengthAdjust="spacingAndGlyphs">−60</text><text class="ax" x="50.70" y="788.0" textLength="72.60" lengthAdjust="spacingAndGlyphs">−50</text><text class="ax" x="50.70" y="912.8" textLength="72.60" lengthAdjust="spacingAndGlyphs">−40</text><text class="ax" x="50.70" y="1037.6" textLength="72.60" lengthAdjust="spacingAndGlyphs">−30</text><text class="ax" x="50.70" y="1162.4" textLength="72.60" lengthAdjust="spacingAndGlyphs">−20</text><text class="ax" x="50.70" y="1287.2" textLength="72.60" lengthAdjust="spacingAndGlyphs">−10</text><text class="ax" x="87.33" y="1412.0" textLength="38.42" lengthAdjust="spacingAndGlyphs">0</text><text class="ax" x="127.32" y="1466.0" textLength="40.70" lengthAdjust="spacingAndGlyphs">0</text><text class="ax" x="252.90" y="1466.0" textLength="38.72" lengthAdjust="spacingAndGlyphs">2</text><text class="ax" x="379.57" y="1466.0" textLength="35.36" lengthAdjust="spacingAndGlyphs">4</text><text class="ax" x="500.17" y="1466.0" textLength="40.66" lengthAdjust="spacingAndGlyphs">6</text><text class="ax" x="625.02" y="1466.0" textLength="40.71" lengthAdjust="spacingAndGlyphs">8</text>
</svg>
</body></html>
